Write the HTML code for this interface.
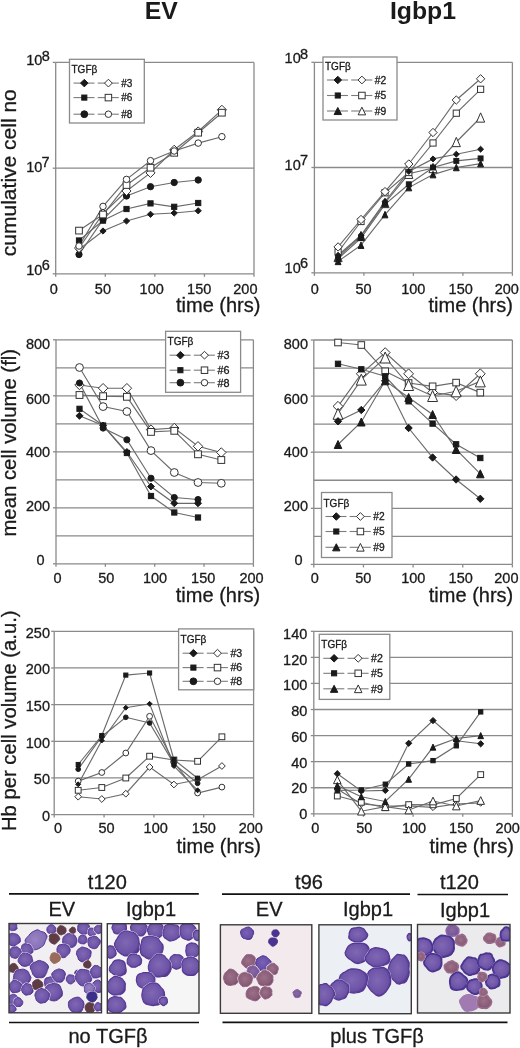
<!DOCTYPE html>
<html><head><meta charset="utf-8"><title>figure</title>
<style>
html,body{margin:0;padding:0;background:#fff;}
body{width:520px;height:1048px;overflow:hidden;}
svg{display:block;filter:blur(0.3px);font-family:"Liberation Sans", sans-serif;}
</style></head>
<body>
<svg width="520" height="1048" viewBox="0 0 520 1048">
<rect x="0" y="0" width="520" height="1048" fill="#fff"/>
<text x="161.20" y="19.20" font-size="24.8" text-anchor="middle" font-weight="bold" fill="#1a1a1a" >EV</text>
<text x="423.00" y="19.20" font-size="24.8" text-anchor="middle" font-weight="bold" fill="#1a1a1a" >Igbp1</text>
<line x1="55.70" y1="168.20" x2="254.00" y2="168.20" stroke="#8a8a8a" stroke-width="1.3"/>
<line x1="55.70" y1="62.40" x2="254.00" y2="62.40" stroke="#8a8a8a" stroke-width="1.3"/>
<line x1="254.00" y1="62.40" x2="254.00" y2="273.80" stroke="#8a8a8a" stroke-width="1.3"/>
<line x1="55.70" y1="62.40" x2="55.70" y2="273.80" stroke="#8a8a8a" stroke-width="1.3"/>
<line x1="55.70" y1="273.80" x2="254.00" y2="273.80" stroke="#8a8a8a" stroke-width="1.3"/>
<line x1="52.70" y1="62.40" x2="55.70" y2="62.40" stroke="#8a8a8a" stroke-width="1.3"/>
<line x1="52.70" y1="168.20" x2="55.70" y2="168.20" stroke="#8a8a8a" stroke-width="1.3"/>
<line x1="52.70" y1="273.80" x2="55.70" y2="273.80" stroke="#8a8a8a" stroke-width="1.3"/>
<line x1="55.70" y1="273.80" x2="55.70" y2="276.80" stroke="#8a8a8a" stroke-width="1.3"/>
<line x1="105.28" y1="273.80" x2="105.28" y2="276.80" stroke="#8a8a8a" stroke-width="1.3"/>
<line x1="154.85" y1="273.80" x2="154.85" y2="276.80" stroke="#8a8a8a" stroke-width="1.3"/>
<line x1="204.43" y1="273.80" x2="204.43" y2="276.80" stroke="#8a8a8a" stroke-width="1.3"/>
<line x1="254.00" y1="273.80" x2="254.00" y2="276.80" stroke="#8a8a8a" stroke-width="1.3"/>
<text x="0" y="0" font-size="21" text-anchor="middle" fill="#1a1a1a" stroke="#1a1a1a" stroke-width="0.3" transform="translate(16.20,172.70) rotate(-90)">cumulative cell no</text>
<text x="53.90" y="294.40" font-size="14.5" text-anchor="middle" font-weight="normal" fill="#1a1a1a" stroke="#1a1a1a" stroke-width="0.3" >0</text>
<text x="102.90" y="294.40" font-size="14.5" text-anchor="middle" font-weight="normal" fill="#1a1a1a" stroke="#1a1a1a" stroke-width="0.3" >50</text>
<text x="151.70" y="294.40" font-size="14.5" text-anchor="middle" font-weight="normal" fill="#1a1a1a" stroke="#1a1a1a" stroke-width="0.3" >100</text>
<text x="199.20" y="294.40" font-size="14.5" text-anchor="middle" font-weight="normal" fill="#1a1a1a" stroke="#1a1a1a" stroke-width="0.3" >150</text>
<text x="245.40" y="294.40" font-size="14.5" text-anchor="middle" font-weight="normal" fill="#1a1a1a" stroke="#1a1a1a" stroke-width="0.3" >200</text>
<text x="176.00" y="312.20" font-size="20" text-anchor="start" font-weight="normal" fill="#1a1a1a" stroke="#1a1a1a" stroke-width="0.3" >time (hrs)</text>
<text x="26.30" y="65.40" font-size="14.5" text-anchor="start" font-weight="normal" fill="#1a1a1a" stroke="#1a1a1a" stroke-width="0.3" >10</text>
<text x="41.70" y="60.80" font-size="14.5" text-anchor="start" font-weight="normal" fill="#1a1a1a" stroke="#1a1a1a" stroke-width="0.3" >8</text>
<text x="26.20" y="171.90" font-size="14.5" text-anchor="start" font-weight="normal" fill="#1a1a1a" stroke="#1a1a1a" stroke-width="0.3" >10</text>
<text x="41.60" y="167.30" font-size="14.5" text-anchor="start" font-weight="normal" fill="#1a1a1a" stroke="#1a1a1a" stroke-width="0.3" >7</text>
<text x="26.30" y="274.60" font-size="14.5" text-anchor="start" font-weight="normal" fill="#1a1a1a" stroke="#1a1a1a" stroke-width="0.3" >10</text>
<text x="41.70" y="270.40" font-size="14.5" text-anchor="start" font-weight="normal" fill="#1a1a1a" stroke="#1a1a1a" stroke-width="0.3" >6</text>
<line x1="314.40" y1="167.50" x2="512.40" y2="167.50" stroke="#8a8a8a" stroke-width="1.3"/>
<line x1="314.40" y1="62.30" x2="512.40" y2="62.30" stroke="#8a8a8a" stroke-width="1.3"/>
<line x1="512.40" y1="62.30" x2="512.40" y2="272.80" stroke="#8a8a8a" stroke-width="1.3"/>
<line x1="314.40" y1="62.30" x2="314.40" y2="272.80" stroke="#8a8a8a" stroke-width="1.3"/>
<line x1="314.40" y1="272.80" x2="512.40" y2="272.80" stroke="#8a8a8a" stroke-width="1.3"/>
<line x1="311.40" y1="62.30" x2="314.40" y2="62.30" stroke="#8a8a8a" stroke-width="1.3"/>
<line x1="311.40" y1="167.50" x2="314.40" y2="167.50" stroke="#8a8a8a" stroke-width="1.3"/>
<line x1="311.40" y1="272.80" x2="314.40" y2="272.80" stroke="#8a8a8a" stroke-width="1.3"/>
<line x1="314.40" y1="272.80" x2="314.40" y2="275.80" stroke="#8a8a8a" stroke-width="1.3"/>
<line x1="363.90" y1="272.80" x2="363.90" y2="275.80" stroke="#8a8a8a" stroke-width="1.3"/>
<line x1="413.40" y1="272.80" x2="413.40" y2="275.80" stroke="#8a8a8a" stroke-width="1.3"/>
<line x1="462.90" y1="272.80" x2="462.90" y2="275.80" stroke="#8a8a8a" stroke-width="1.3"/>
<line x1="512.40" y1="272.80" x2="512.40" y2="275.80" stroke="#8a8a8a" stroke-width="1.3"/>
<text x="314.80" y="293.70" font-size="14.5" text-anchor="middle" font-weight="normal" fill="#1a1a1a" stroke="#1a1a1a" stroke-width="0.3" >0</text>
<text x="363.50" y="293.70" font-size="14.5" text-anchor="middle" font-weight="normal" fill="#1a1a1a" stroke="#1a1a1a" stroke-width="0.3" >50</text>
<text x="413.30" y="293.70" font-size="14.5" text-anchor="middle" font-weight="normal" fill="#1a1a1a" stroke="#1a1a1a" stroke-width="0.3" >100</text>
<text x="460.70" y="293.70" font-size="14.5" text-anchor="middle" font-weight="normal" fill="#1a1a1a" stroke="#1a1a1a" stroke-width="0.3" >150</text>
<text x="506.80" y="293.70" font-size="14.5" text-anchor="middle" font-weight="normal" fill="#1a1a1a" stroke="#1a1a1a" stroke-width="0.3" >200</text>
<text x="428.50" y="312.40" font-size="20" text-anchor="start" font-weight="normal" fill="#1a1a1a" stroke="#1a1a1a" stroke-width="0.3" >time (hrs)</text>
<text x="284.60" y="63.30" font-size="14.5" text-anchor="start" font-weight="normal" fill="#1a1a1a" stroke="#1a1a1a" stroke-width="0.3" >10</text>
<text x="300.00" y="58.80" font-size="14.5" text-anchor="start" font-weight="normal" fill="#1a1a1a" stroke="#1a1a1a" stroke-width="0.3" >8</text>
<text x="284.60" y="169.60" font-size="14.5" text-anchor="start" font-weight="normal" fill="#1a1a1a" stroke="#1a1a1a" stroke-width="0.3" >10</text>
<text x="300.00" y="165.40" font-size="14.5" text-anchor="start" font-weight="normal" fill="#1a1a1a" stroke="#1a1a1a" stroke-width="0.3" >7</text>
<text x="284.60" y="272.50" font-size="14.5" text-anchor="start" font-weight="normal" fill="#1a1a1a" stroke="#1a1a1a" stroke-width="0.3" >10</text>
<text x="300.00" y="268.30" font-size="14.5" text-anchor="start" font-weight="normal" fill="#1a1a1a" stroke="#1a1a1a" stroke-width="0.3" >6</text>
<line x1="56.00" y1="535.80" x2="253.40" y2="535.80" stroke="#8a8a8a" stroke-width="1.3"/>
<line x1="56.00" y1="507.80" x2="253.40" y2="507.80" stroke="#8a8a8a" stroke-width="1.3"/>
<line x1="56.00" y1="479.80" x2="253.40" y2="479.80" stroke="#8a8a8a" stroke-width="1.3"/>
<line x1="56.00" y1="451.80" x2="253.40" y2="451.80" stroke="#8a8a8a" stroke-width="1.3"/>
<line x1="56.00" y1="423.80" x2="253.40" y2="423.80" stroke="#8a8a8a" stroke-width="1.3"/>
<line x1="56.00" y1="395.80" x2="253.40" y2="395.80" stroke="#8a8a8a" stroke-width="1.3"/>
<line x1="56.00" y1="367.80" x2="253.40" y2="367.80" stroke="#8a8a8a" stroke-width="1.3"/>
<line x1="56.00" y1="339.80" x2="253.40" y2="339.80" stroke="#8a8a8a" stroke-width="1.3"/>
<line x1="253.40" y1="339.80" x2="253.40" y2="563.80" stroke="#8a8a8a" stroke-width="1.3"/>
<line x1="56.00" y1="339.80" x2="56.00" y2="563.80" stroke="#8a8a8a" stroke-width="1.3"/>
<line x1="56.00" y1="563.80" x2="253.40" y2="563.80" stroke="#8a8a8a" stroke-width="1.3"/>
<line x1="53.00" y1="563.80" x2="56.00" y2="563.80" stroke="#8a8a8a" stroke-width="1.3"/>
<line x1="53.00" y1="507.80" x2="56.00" y2="507.80" stroke="#8a8a8a" stroke-width="1.3"/>
<line x1="53.00" y1="451.80" x2="56.00" y2="451.80" stroke="#8a8a8a" stroke-width="1.3"/>
<line x1="53.00" y1="395.80" x2="56.00" y2="395.80" stroke="#8a8a8a" stroke-width="1.3"/>
<line x1="53.00" y1="339.80" x2="56.00" y2="339.80" stroke="#8a8a8a" stroke-width="1.3"/>
<line x1="56.00" y1="563.80" x2="56.00" y2="566.80" stroke="#8a8a8a" stroke-width="1.3"/>
<line x1="105.35" y1="563.80" x2="105.35" y2="566.80" stroke="#8a8a8a" stroke-width="1.3"/>
<line x1="154.70" y1="563.80" x2="154.70" y2="566.80" stroke="#8a8a8a" stroke-width="1.3"/>
<line x1="204.05" y1="563.80" x2="204.05" y2="566.80" stroke="#8a8a8a" stroke-width="1.3"/>
<line x1="253.40" y1="563.80" x2="253.40" y2="566.80" stroke="#8a8a8a" stroke-width="1.3"/>
<text x="0" y="0" font-size="20.35" text-anchor="middle" fill="#1a1a1a" stroke="#1a1a1a" stroke-width="0.3" transform="translate(16.00,442.75) rotate(-90)">mean cell volume (fl)</text>
<text x="57.50" y="583.20" font-size="14.5" text-anchor="middle" font-weight="normal" fill="#1a1a1a" stroke="#1a1a1a" stroke-width="0.3" >0</text>
<text x="106.30" y="583.20" font-size="14.5" text-anchor="middle" font-weight="normal" fill="#1a1a1a" stroke="#1a1a1a" stroke-width="0.3" >50</text>
<text x="155.00" y="583.20" font-size="14.5" text-anchor="middle" font-weight="normal" fill="#1a1a1a" stroke="#1a1a1a" stroke-width="0.3" >100</text>
<text x="203.20" y="583.20" font-size="14.5" text-anchor="middle" font-weight="normal" fill="#1a1a1a" stroke="#1a1a1a" stroke-width="0.3" >150</text>
<text x="251.50" y="583.20" font-size="14.5" text-anchor="middle" font-weight="normal" fill="#1a1a1a" stroke="#1a1a1a" stroke-width="0.3" >200</text>
<text x="175.80" y="602.30" font-size="20" text-anchor="start" font-weight="normal" fill="#1a1a1a" stroke="#1a1a1a" stroke-width="0.3" >time (hrs)</text>
<text x="50.20" y="349.40" font-size="14.5" text-anchor="end" font-weight="normal" fill="#1a1a1a" stroke="#1a1a1a" stroke-width="0.3" >800</text>
<text x="50.20" y="403.50" font-size="14.5" text-anchor="end" font-weight="normal" fill="#1a1a1a" stroke="#1a1a1a" stroke-width="0.3" >600</text>
<text x="50.20" y="457.30" font-size="14.5" text-anchor="end" font-weight="normal" fill="#1a1a1a" stroke="#1a1a1a" stroke-width="0.3" >400</text>
<text x="50.20" y="511.10" font-size="14.5" text-anchor="end" font-weight="normal" fill="#1a1a1a" stroke="#1a1a1a" stroke-width="0.3" >200</text>
<text x="44.70" y="564.70" font-size="14.5" text-anchor="end" font-weight="normal" fill="#1a1a1a" stroke="#1a1a1a" stroke-width="0.3" >0</text>
<line x1="313.80" y1="536.35" x2="512.40" y2="536.35" stroke="#8a8a8a" stroke-width="1.3"/>
<line x1="313.80" y1="508.30" x2="512.40" y2="508.30" stroke="#8a8a8a" stroke-width="1.3"/>
<line x1="313.80" y1="480.25" x2="512.40" y2="480.25" stroke="#8a8a8a" stroke-width="1.3"/>
<line x1="313.80" y1="452.20" x2="512.40" y2="452.20" stroke="#8a8a8a" stroke-width="1.3"/>
<line x1="313.80" y1="424.15" x2="512.40" y2="424.15" stroke="#8a8a8a" stroke-width="1.3"/>
<line x1="313.80" y1="396.10" x2="512.40" y2="396.10" stroke="#8a8a8a" stroke-width="1.3"/>
<line x1="313.80" y1="368.05" x2="512.40" y2="368.05" stroke="#8a8a8a" stroke-width="1.3"/>
<line x1="313.80" y1="340.00" x2="512.40" y2="340.00" stroke="#8a8a8a" stroke-width="1.3"/>
<line x1="512.40" y1="340.00" x2="512.40" y2="564.40" stroke="#8a8a8a" stroke-width="1.3"/>
<line x1="313.80" y1="340.00" x2="313.80" y2="564.40" stroke="#8a8a8a" stroke-width="1.3"/>
<line x1="313.80" y1="564.40" x2="512.40" y2="564.40" stroke="#8a8a8a" stroke-width="1.3"/>
<line x1="310.80" y1="564.40" x2="313.80" y2="564.40" stroke="#8a8a8a" stroke-width="1.3"/>
<line x1="310.80" y1="508.30" x2="313.80" y2="508.30" stroke="#8a8a8a" stroke-width="1.3"/>
<line x1="310.80" y1="452.20" x2="313.80" y2="452.20" stroke="#8a8a8a" stroke-width="1.3"/>
<line x1="310.80" y1="396.10" x2="313.80" y2="396.10" stroke="#8a8a8a" stroke-width="1.3"/>
<line x1="310.80" y1="340.00" x2="313.80" y2="340.00" stroke="#8a8a8a" stroke-width="1.3"/>
<line x1="313.80" y1="564.40" x2="313.80" y2="567.40" stroke="#8a8a8a" stroke-width="1.3"/>
<line x1="363.45" y1="564.40" x2="363.45" y2="567.40" stroke="#8a8a8a" stroke-width="1.3"/>
<line x1="413.10" y1="564.40" x2="413.10" y2="567.40" stroke="#8a8a8a" stroke-width="1.3"/>
<line x1="462.75" y1="564.40" x2="462.75" y2="567.40" stroke="#8a8a8a" stroke-width="1.3"/>
<line x1="512.40" y1="564.40" x2="512.40" y2="567.40" stroke="#8a8a8a" stroke-width="1.3"/>
<text x="314.80" y="583.20" font-size="14.5" text-anchor="middle" font-weight="normal" fill="#1a1a1a" stroke="#1a1a1a" stroke-width="0.3" >0</text>
<text x="363.20" y="583.20" font-size="14.5" text-anchor="middle" font-weight="normal" fill="#1a1a1a" stroke="#1a1a1a" stroke-width="0.3" >50</text>
<text x="413.30" y="583.20" font-size="14.5" text-anchor="middle" font-weight="normal" fill="#1a1a1a" stroke="#1a1a1a" stroke-width="0.3" >100</text>
<text x="460.70" y="583.20" font-size="14.5" text-anchor="middle" font-weight="normal" fill="#1a1a1a" stroke="#1a1a1a" stroke-width="0.3" >150</text>
<text x="506.40" y="583.20" font-size="14.5" text-anchor="middle" font-weight="normal" fill="#1a1a1a" stroke="#1a1a1a" stroke-width="0.3" >200</text>
<text x="428.80" y="602.30" font-size="20" text-anchor="start" font-weight="normal" fill="#1a1a1a" stroke="#1a1a1a" stroke-width="0.3" >time (hrs)</text>
<text x="308.00" y="349.40" font-size="14.5" text-anchor="end" font-weight="normal" fill="#1a1a1a" stroke="#1a1a1a" stroke-width="0.3" >800</text>
<text x="308.00" y="403.60" font-size="14.5" text-anchor="end" font-weight="normal" fill="#1a1a1a" stroke="#1a1a1a" stroke-width="0.3" >600</text>
<text x="308.00" y="457.30" font-size="14.5" text-anchor="end" font-weight="normal" fill="#1a1a1a" stroke="#1a1a1a" stroke-width="0.3" >400</text>
<text x="308.00" y="511.10" font-size="14.5" text-anchor="end" font-weight="normal" fill="#1a1a1a" stroke="#1a1a1a" stroke-width="0.3" >200</text>
<text x="302.70" y="564.70" font-size="14.5" text-anchor="end" font-weight="normal" fill="#1a1a1a" stroke="#1a1a1a" stroke-width="0.3" >0</text>
<line x1="54.20" y1="777.94" x2="253.60" y2="777.94" stroke="#8a8a8a" stroke-width="1.3"/>
<line x1="54.20" y1="741.28" x2="253.60" y2="741.28" stroke="#8a8a8a" stroke-width="1.3"/>
<line x1="54.20" y1="704.62" x2="253.60" y2="704.62" stroke="#8a8a8a" stroke-width="1.3"/>
<line x1="54.20" y1="667.96" x2="253.60" y2="667.96" stroke="#8a8a8a" stroke-width="1.3"/>
<line x1="54.20" y1="631.30" x2="253.60" y2="631.30" stroke="#8a8a8a" stroke-width="1.3"/>
<line x1="253.60" y1="631.30" x2="253.60" y2="814.60" stroke="#8a8a8a" stroke-width="1.3"/>
<line x1="54.20" y1="631.30" x2="54.20" y2="814.60" stroke="#8a8a8a" stroke-width="1.3"/>
<line x1="54.20" y1="814.60" x2="253.60" y2="814.60" stroke="#8a8a8a" stroke-width="1.3"/>
<line x1="51.20" y1="814.60" x2="54.20" y2="814.60" stroke="#8a8a8a" stroke-width="1.3"/>
<line x1="51.20" y1="777.94" x2="54.20" y2="777.94" stroke="#8a8a8a" stroke-width="1.3"/>
<line x1="51.20" y1="741.28" x2="54.20" y2="741.28" stroke="#8a8a8a" stroke-width="1.3"/>
<line x1="51.20" y1="704.62" x2="54.20" y2="704.62" stroke="#8a8a8a" stroke-width="1.3"/>
<line x1="51.20" y1="667.96" x2="54.20" y2="667.96" stroke="#8a8a8a" stroke-width="1.3"/>
<line x1="51.20" y1="631.30" x2="54.20" y2="631.30" stroke="#8a8a8a" stroke-width="1.3"/>
<line x1="54.20" y1="814.60" x2="54.20" y2="817.60" stroke="#8a8a8a" stroke-width="1.3"/>
<line x1="104.05" y1="814.60" x2="104.05" y2="817.60" stroke="#8a8a8a" stroke-width="1.3"/>
<line x1="153.90" y1="814.60" x2="153.90" y2="817.60" stroke="#8a8a8a" stroke-width="1.3"/>
<line x1="203.75" y1="814.60" x2="203.75" y2="817.60" stroke="#8a8a8a" stroke-width="1.3"/>
<line x1="253.60" y1="814.60" x2="253.60" y2="817.60" stroke="#8a8a8a" stroke-width="1.3"/>
<text x="0" y="0" font-size="20.25" text-anchor="middle" fill="#1a1a1a" stroke="#1a1a1a" stroke-width="0.3" transform="translate(15.80,720.75) rotate(-90)">Hb per cell volume (a.u.)</text>
<text x="58.00" y="833.10" font-size="14.5" text-anchor="middle" font-weight="normal" fill="#1a1a1a" stroke="#1a1a1a" stroke-width="0.3" >0</text>
<text x="106.50" y="833.10" font-size="14.5" text-anchor="middle" font-weight="normal" fill="#1a1a1a" stroke="#1a1a1a" stroke-width="0.3" >50</text>
<text x="155.70" y="833.10" font-size="14.5" text-anchor="middle" font-weight="normal" fill="#1a1a1a" stroke="#1a1a1a" stroke-width="0.3" >100</text>
<text x="203.80" y="833.10" font-size="14.5" text-anchor="middle" font-weight="normal" fill="#1a1a1a" stroke="#1a1a1a" stroke-width="0.3" >150</text>
<text x="250.80" y="833.10" font-size="14.5" text-anchor="middle" font-weight="normal" fill="#1a1a1a" stroke="#1a1a1a" stroke-width="0.3" >200</text>
<text x="176.50" y="853.20" font-size="20" text-anchor="start" font-weight="normal" fill="#1a1a1a" stroke="#1a1a1a" stroke-width="0.3" >time (hrs)</text>
<text x="50.00" y="638.00" font-size="14.5" text-anchor="end" font-weight="normal" fill="#1a1a1a" stroke="#1a1a1a" stroke-width="0.3" >250</text>
<text x="50.00" y="674.40" font-size="14.5" text-anchor="end" font-weight="normal" fill="#1a1a1a" stroke="#1a1a1a" stroke-width="0.3" >200</text>
<text x="50.00" y="711.20" font-size="14.5" text-anchor="end" font-weight="normal" fill="#1a1a1a" stroke="#1a1a1a" stroke-width="0.3" >150</text>
<text x="50.00" y="747.80" font-size="14.5" text-anchor="end" font-weight="normal" fill="#1a1a1a" stroke="#1a1a1a" stroke-width="0.3" >100</text>
<text x="50.00" y="784.40" font-size="14.5" text-anchor="end" font-weight="normal" fill="#1a1a1a" stroke="#1a1a1a" stroke-width="0.3" >50</text>
<text x="50.00" y="821.20" font-size="14.5" text-anchor="end" font-weight="normal" fill="#1a1a1a" stroke="#1a1a1a" stroke-width="0.3" >0</text>
<line x1="313.80" y1="787.73" x2="512.40" y2="787.73" stroke="#8a8a8a" stroke-width="1.3"/>
<line x1="313.80" y1="761.66" x2="512.40" y2="761.66" stroke="#8a8a8a" stroke-width="1.3"/>
<line x1="313.80" y1="735.59" x2="512.40" y2="735.59" stroke="#8a8a8a" stroke-width="1.3"/>
<line x1="313.80" y1="709.51" x2="512.40" y2="709.51" stroke="#8a8a8a" stroke-width="1.3"/>
<line x1="313.80" y1="683.44" x2="512.40" y2="683.44" stroke="#8a8a8a" stroke-width="1.3"/>
<line x1="313.80" y1="657.37" x2="512.40" y2="657.37" stroke="#8a8a8a" stroke-width="1.3"/>
<line x1="313.80" y1="631.30" x2="512.40" y2="631.30" stroke="#8a8a8a" stroke-width="1.3"/>
<line x1="512.40" y1="631.30" x2="512.40" y2="813.80" stroke="#8a8a8a" stroke-width="1.3"/>
<line x1="313.80" y1="631.30" x2="313.80" y2="813.80" stroke="#8a8a8a" stroke-width="1.3"/>
<line x1="313.80" y1="813.80" x2="512.40" y2="813.80" stroke="#8a8a8a" stroke-width="1.3"/>
<line x1="310.80" y1="813.80" x2="313.80" y2="813.80" stroke="#8a8a8a" stroke-width="1.3"/>
<line x1="310.80" y1="787.73" x2="313.80" y2="787.73" stroke="#8a8a8a" stroke-width="1.3"/>
<line x1="310.80" y1="761.66" x2="313.80" y2="761.66" stroke="#8a8a8a" stroke-width="1.3"/>
<line x1="310.80" y1="735.59" x2="313.80" y2="735.59" stroke="#8a8a8a" stroke-width="1.3"/>
<line x1="310.80" y1="709.51" x2="313.80" y2="709.51" stroke="#8a8a8a" stroke-width="1.3"/>
<line x1="310.80" y1="683.44" x2="313.80" y2="683.44" stroke="#8a8a8a" stroke-width="1.3"/>
<line x1="310.80" y1="657.37" x2="313.80" y2="657.37" stroke="#8a8a8a" stroke-width="1.3"/>
<line x1="310.80" y1="631.30" x2="313.80" y2="631.30" stroke="#8a8a8a" stroke-width="1.3"/>
<line x1="313.80" y1="813.80" x2="313.80" y2="816.80" stroke="#8a8a8a" stroke-width="1.3"/>
<line x1="363.45" y1="813.80" x2="363.45" y2="816.80" stroke="#8a8a8a" stroke-width="1.3"/>
<line x1="413.10" y1="813.80" x2="413.10" y2="816.80" stroke="#8a8a8a" stroke-width="1.3"/>
<line x1="462.75" y1="813.80" x2="462.75" y2="816.80" stroke="#8a8a8a" stroke-width="1.3"/>
<line x1="512.40" y1="813.80" x2="512.40" y2="816.80" stroke="#8a8a8a" stroke-width="1.3"/>
<text x="315.20" y="833.10" font-size="14.5" text-anchor="middle" font-weight="normal" fill="#1a1a1a" stroke="#1a1a1a" stroke-width="0.3" >0</text>
<text x="364.20" y="833.10" font-size="14.5" text-anchor="middle" font-weight="normal" fill="#1a1a1a" stroke="#1a1a1a" stroke-width="0.3" >50</text>
<text x="414.10" y="833.10" font-size="14.5" text-anchor="middle" font-weight="normal" fill="#1a1a1a" stroke="#1a1a1a" stroke-width="0.3" >100</text>
<text x="461.20" y="833.10" font-size="14.5" text-anchor="middle" font-weight="normal" fill="#1a1a1a" stroke="#1a1a1a" stroke-width="0.3" >150</text>
<text x="507.70" y="833.10" font-size="14.5" text-anchor="middle" font-weight="normal" fill="#1a1a1a" stroke="#1a1a1a" stroke-width="0.3" >200</text>
<text x="429.50" y="853.20" font-size="20" text-anchor="start" font-weight="normal" fill="#1a1a1a" stroke="#1a1a1a" stroke-width="0.3" >time (hrs)</text>
<text x="307.30" y="639.00" font-size="14.5" text-anchor="end" font-weight="normal" fill="#1a1a1a" stroke="#1a1a1a" stroke-width="0.3" >140</text>
<text x="307.30" y="664.70" font-size="14.5" text-anchor="end" font-weight="normal" fill="#1a1a1a" stroke="#1a1a1a" stroke-width="0.3" >120</text>
<text x="307.30" y="690.10" font-size="14.5" text-anchor="end" font-weight="normal" fill="#1a1a1a" stroke="#1a1a1a" stroke-width="0.3" >100</text>
<text x="307.30" y="715.60" font-size="14.5" text-anchor="end" font-weight="normal" fill="#1a1a1a" stroke="#1a1a1a" stroke-width="0.3" >80</text>
<text x="307.30" y="741.60" font-size="14.5" text-anchor="end" font-weight="normal" fill="#1a1a1a" stroke="#1a1a1a" stroke-width="0.3" >60</text>
<text x="307.30" y="767.70" font-size="14.5" text-anchor="end" font-weight="normal" fill="#1a1a1a" stroke="#1a1a1a" stroke-width="0.3" >40</text>
<text x="307.30" y="793.40" font-size="14.5" text-anchor="end" font-weight="normal" fill="#1a1a1a" stroke="#1a1a1a" stroke-width="0.3" >20</text>
<text x="307.30" y="819.10" font-size="14.5" text-anchor="end" font-weight="normal" fill="#1a1a1a" stroke="#1a1a1a" stroke-width="0.3" >0</text>
<polyline points="79.00,249.50 103.00,231.00 126.50,221.00 150.50,214.30 174.20,213.00 198.20,210.80" fill="none" stroke="#6a6a6a" stroke-width="1.15"/>
<polyline points="79.00,240.50 103.00,220.60 126.50,209.00 150.50,203.40 174.20,206.80 198.20,203.00" fill="none" stroke="#6a6a6a" stroke-width="1.15"/>
<polyline points="79.00,254.50 103.00,219.70 126.50,196.00 150.50,186.70 174.20,182.50 198.20,180.00" fill="none" stroke="#6a6a6a" stroke-width="1.15"/>
<polyline points="79.00,248.00 103.00,213.60 126.50,191.00 150.50,172.90 174.20,149.80 198.20,131.50 221.90,109.80" fill="none" stroke="#6a6a6a" stroke-width="1.15"/>
<polyline points="79.00,230.60 103.00,214.50 126.50,185.00 150.50,167.70 174.20,152.80 198.20,132.70 221.90,112.70" fill="none" stroke="#6a6a6a" stroke-width="1.15"/>
<polyline points="79.00,246.00 103.00,206.40 126.50,179.40 150.50,160.70 174.20,151.00 198.20,143.10 221.90,136.70" fill="none" stroke="#6a6a6a" stroke-width="1.15"/>
<polygon points="79.00,246.38 82.12,249.50 79.00,252.62 75.88,249.50" fill="#1a1a1a" stroke="#1a1a1a" stroke-width="1.0"/>
<polygon points="103.00,227.88 106.12,231.00 103.00,234.12 99.88,231.00" fill="#1a1a1a" stroke="#1a1a1a" stroke-width="1.0"/>
<polygon points="126.50,217.88 129.62,221.00 126.50,224.12 123.38,221.00" fill="#1a1a1a" stroke="#1a1a1a" stroke-width="1.0"/>
<polygon points="150.50,211.18 153.62,214.30 150.50,217.43 147.38,214.30" fill="#1a1a1a" stroke="#1a1a1a" stroke-width="1.0"/>
<polygon points="174.20,209.88 177.32,213.00 174.20,216.12 171.07,213.00" fill="#1a1a1a" stroke="#1a1a1a" stroke-width="1.0"/>
<polygon points="198.20,207.68 201.32,210.80 198.20,213.93 195.07,210.80" fill="#1a1a1a" stroke="#1a1a1a" stroke-width="1.0"/>
<rect x="76.40" y="237.90" width="5.20" height="5.20" fill="#1a1a1a" stroke="#1a1a1a" stroke-width="1.0"/>
<rect x="100.40" y="218.00" width="5.20" height="5.20" fill="#1a1a1a" stroke="#1a1a1a" stroke-width="1.0"/>
<rect x="123.90" y="206.40" width="5.20" height="5.20" fill="#1a1a1a" stroke="#1a1a1a" stroke-width="1.0"/>
<rect x="147.90" y="200.80" width="5.20" height="5.20" fill="#1a1a1a" stroke="#1a1a1a" stroke-width="1.0"/>
<rect x="171.60" y="204.20" width="5.20" height="5.20" fill="#1a1a1a" stroke="#1a1a1a" stroke-width="1.0"/>
<rect x="195.60" y="200.40" width="5.20" height="5.20" fill="#1a1a1a" stroke="#1a1a1a" stroke-width="1.0"/>
<circle cx="79.00" cy="254.50" r="3.15" fill="#1a1a1a" stroke="#1a1a1a" stroke-width="1.0"/>
<circle cx="103.00" cy="219.70" r="3.15" fill="#1a1a1a" stroke="#1a1a1a" stroke-width="1.0"/>
<circle cx="126.50" cy="196.00" r="3.15" fill="#1a1a1a" stroke="#1a1a1a" stroke-width="1.0"/>
<circle cx="150.50" cy="186.70" r="3.15" fill="#1a1a1a" stroke="#1a1a1a" stroke-width="1.0"/>
<circle cx="174.20" cy="182.50" r="3.15" fill="#1a1a1a" stroke="#1a1a1a" stroke-width="1.0"/>
<circle cx="198.20" cy="180.00" r="3.15" fill="#1a1a1a" stroke="#1a1a1a" stroke-width="1.0"/>
<polygon points="79.00,243.43 83.58,248.00 79.00,252.57 74.42,248.00" fill="#ffffff" stroke="#333333" stroke-width="1.0"/>
<polygon points="103.00,209.03 107.58,213.60 103.00,218.17 98.42,213.60" fill="#ffffff" stroke="#333333" stroke-width="1.0"/>
<polygon points="126.50,186.43 131.07,191.00 126.50,195.57 121.92,191.00" fill="#ffffff" stroke="#333333" stroke-width="1.0"/>
<polygon points="150.50,168.33 155.07,172.90 150.50,177.47 145.93,172.90" fill="#ffffff" stroke="#333333" stroke-width="1.0"/>
<polygon points="174.20,145.23 178.77,149.80 174.20,154.38 169.62,149.80" fill="#ffffff" stroke="#333333" stroke-width="1.0"/>
<polygon points="198.20,126.92 202.77,131.50 198.20,136.07 193.62,131.50" fill="#ffffff" stroke="#333333" stroke-width="1.0"/>
<polygon points="221.90,105.22 226.47,109.80 221.90,114.38 217.33,109.80" fill="#ffffff" stroke="#333333" stroke-width="1.0"/>
<rect x="75.65" y="227.25" width="6.70" height="6.70" fill="#ffffff" stroke="#333333" stroke-width="1.0"/>
<rect x="99.65" y="211.15" width="6.70" height="6.70" fill="#ffffff" stroke="#333333" stroke-width="1.0"/>
<rect x="123.15" y="181.65" width="6.70" height="6.70" fill="#ffffff" stroke="#333333" stroke-width="1.0"/>
<rect x="147.15" y="164.35" width="6.70" height="6.70" fill="#ffffff" stroke="#333333" stroke-width="1.0"/>
<rect x="170.85" y="149.45" width="6.70" height="6.70" fill="#ffffff" stroke="#333333" stroke-width="1.0"/>
<rect x="194.85" y="129.35" width="6.70" height="6.70" fill="#ffffff" stroke="#333333" stroke-width="1.0"/>
<rect x="218.55" y="109.35" width="6.70" height="6.70" fill="#ffffff" stroke="#333333" stroke-width="1.0"/>
<circle cx="79.00" cy="246.00" r="3.25" fill="#ffffff" stroke="#333333" stroke-width="1.0"/>
<circle cx="103.00" cy="206.40" r="3.25" fill="#ffffff" stroke="#333333" stroke-width="1.0"/>
<circle cx="126.50" cy="179.40" r="3.25" fill="#ffffff" stroke="#333333" stroke-width="1.0"/>
<circle cx="150.50" cy="160.70" r="3.25" fill="#ffffff" stroke="#333333" stroke-width="1.0"/>
<circle cx="174.20" cy="151.00" r="3.25" fill="#ffffff" stroke="#333333" stroke-width="1.0"/>
<circle cx="198.20" cy="143.10" r="3.25" fill="#ffffff" stroke="#333333" stroke-width="1.0"/>
<circle cx="221.90" cy="136.70" r="3.25" fill="#ffffff" stroke="#333333" stroke-width="1.0"/>
<polyline points="338.10,257.00 361.00,236.00 385.00,203.00 408.80,173.80 433.00,168.00 456.30,142.00 480.60,117.50" fill="none" stroke="#6a6a6a" stroke-width="1.15"/>
<polyline points="338.10,252.00 361.00,221.50 385.00,192.80 408.80,172.50 433.00,143.00 456.30,113.20 480.60,89.30" fill="none" stroke="#6a6a6a" stroke-width="1.15"/>
<polyline points="338.10,246.90 361.00,219.50 385.00,191.60 408.80,164.00 433.00,132.50 456.30,100.00 480.60,78.80" fill="none" stroke="#6a6a6a" stroke-width="1.15"/>
<polyline points="338.10,261.40 361.00,245.20 385.00,214.60 408.80,187.60 433.00,174.60 456.30,167.50 480.60,163.60" fill="none" stroke="#6a6a6a" stroke-width="1.15"/>
<polyline points="338.10,258.70 361.00,238.00 385.00,204.40 408.80,184.30 433.00,167.50 456.30,160.90 480.60,158.40" fill="none" stroke="#6a6a6a" stroke-width="1.15"/>
<polyline points="338.10,255.30 361.00,235.30 385.00,201.50 408.80,171.40 433.00,158.90 456.30,154.20 480.60,149.20" fill="none" stroke="#6a6a6a" stroke-width="1.15"/>
<polygon points="338.10,252.35 342.18,261.65 334.03,261.65" fill="#ffffff" stroke="#333333" stroke-width="1.0" stroke-linejoin="miter"/>
<polygon points="361.00,231.35 365.07,240.65 356.93,240.65" fill="#ffffff" stroke="#333333" stroke-width="1.0" stroke-linejoin="miter"/>
<polygon points="385.00,198.35 389.07,207.65 380.93,207.65" fill="#ffffff" stroke="#333333" stroke-width="1.0" stroke-linejoin="miter"/>
<polygon points="408.80,169.15 412.88,178.45 404.73,178.45" fill="#ffffff" stroke="#333333" stroke-width="1.0" stroke-linejoin="miter"/>
<polygon points="433.00,163.35 437.07,172.65 428.93,172.65" fill="#ffffff" stroke="#333333" stroke-width="1.0" stroke-linejoin="miter"/>
<polygon points="456.30,137.35 460.38,146.65 452.23,146.65" fill="#ffffff" stroke="#333333" stroke-width="1.0" stroke-linejoin="miter"/>
<polygon points="480.60,112.85 484.68,122.15 476.53,122.15" fill="#ffffff" stroke="#333333" stroke-width="1.0" stroke-linejoin="miter"/>
<rect x="335.00" y="248.90" width="6.20" height="6.20" fill="#ffffff" stroke="#333333" stroke-width="1.0"/>
<rect x="357.90" y="218.40" width="6.20" height="6.20" fill="#ffffff" stroke="#333333" stroke-width="1.0"/>
<rect x="381.90" y="189.70" width="6.20" height="6.20" fill="#ffffff" stroke="#333333" stroke-width="1.0"/>
<rect x="405.70" y="169.40" width="6.20" height="6.20" fill="#ffffff" stroke="#333333" stroke-width="1.0"/>
<rect x="429.90" y="139.90" width="6.20" height="6.20" fill="#ffffff" stroke="#333333" stroke-width="1.0"/>
<rect x="453.20" y="110.10" width="6.20" height="6.20" fill="#ffffff" stroke="#333333" stroke-width="1.0"/>
<rect x="477.50" y="86.20" width="6.20" height="6.20" fill="#ffffff" stroke="#333333" stroke-width="1.0"/>
<polygon points="338.10,242.72 342.28,246.90 338.10,251.08 333.93,246.90" fill="#ffffff" stroke="#333333" stroke-width="1.0"/>
<polygon points="361.00,215.32 365.18,219.50 361.00,223.68 356.82,219.50" fill="#ffffff" stroke="#333333" stroke-width="1.0"/>
<polygon points="385.00,187.42 389.18,191.60 385.00,195.78 380.82,191.60" fill="#ffffff" stroke="#333333" stroke-width="1.0"/>
<polygon points="408.80,159.82 412.98,164.00 408.80,168.18 404.62,164.00" fill="#ffffff" stroke="#333333" stroke-width="1.0"/>
<polygon points="433.00,128.32 437.18,132.50 433.00,136.68 428.82,132.50" fill="#ffffff" stroke="#333333" stroke-width="1.0"/>
<polygon points="456.30,95.83 460.48,100.00 456.30,104.17 452.12,100.00" fill="#ffffff" stroke="#333333" stroke-width="1.0"/>
<polygon points="480.60,74.62 484.78,78.80 480.60,82.97 476.43,78.80" fill="#ffffff" stroke="#333333" stroke-width="1.0"/>
<polygon points="338.10,258.15 341.03,264.65 335.18,264.65" fill="#1a1a1a" stroke="#1a1a1a" stroke-width="1.0" stroke-linejoin="miter"/>
<polygon points="361.00,241.95 363.93,248.45 358.07,248.45" fill="#1a1a1a" stroke="#1a1a1a" stroke-width="1.0" stroke-linejoin="miter"/>
<polygon points="385.00,211.35 387.93,217.85 382.07,217.85" fill="#1a1a1a" stroke="#1a1a1a" stroke-width="1.0" stroke-linejoin="miter"/>
<polygon points="408.80,184.35 411.73,190.85 405.88,190.85" fill="#1a1a1a" stroke="#1a1a1a" stroke-width="1.0" stroke-linejoin="miter"/>
<polygon points="433.00,171.35 435.93,177.85 430.07,177.85" fill="#1a1a1a" stroke="#1a1a1a" stroke-width="1.0" stroke-linejoin="miter"/>
<polygon points="456.30,164.25 459.23,170.75 453.38,170.75" fill="#1a1a1a" stroke="#1a1a1a" stroke-width="1.0" stroke-linejoin="miter"/>
<polygon points="480.60,160.35 483.53,166.85 477.68,166.85" fill="#1a1a1a" stroke="#1a1a1a" stroke-width="1.0" stroke-linejoin="miter"/>
<rect x="335.65" y="256.25" width="4.90" height="4.90" fill="#1a1a1a" stroke="#1a1a1a" stroke-width="1.0"/>
<rect x="358.55" y="235.55" width="4.90" height="4.90" fill="#1a1a1a" stroke="#1a1a1a" stroke-width="1.0"/>
<rect x="382.55" y="201.95" width="4.90" height="4.90" fill="#1a1a1a" stroke="#1a1a1a" stroke-width="1.0"/>
<rect x="406.35" y="181.85" width="4.90" height="4.90" fill="#1a1a1a" stroke="#1a1a1a" stroke-width="1.0"/>
<rect x="430.55" y="165.05" width="4.90" height="4.90" fill="#1a1a1a" stroke="#1a1a1a" stroke-width="1.0"/>
<rect x="453.85" y="158.45" width="4.90" height="4.90" fill="#1a1a1a" stroke="#1a1a1a" stroke-width="1.0"/>
<rect x="478.15" y="155.95" width="4.90" height="4.90" fill="#1a1a1a" stroke="#1a1a1a" stroke-width="1.0"/>
<polygon points="338.10,252.33 341.08,255.30 338.10,258.28 335.12,255.30" fill="#1a1a1a" stroke="#1a1a1a" stroke-width="1.0"/>
<polygon points="361.00,232.33 363.98,235.30 361.00,238.28 358.02,235.30" fill="#1a1a1a" stroke="#1a1a1a" stroke-width="1.0"/>
<polygon points="385.00,198.53 387.98,201.50 385.00,204.47 382.02,201.50" fill="#1a1a1a" stroke="#1a1a1a" stroke-width="1.0"/>
<polygon points="408.80,168.43 411.78,171.40 408.80,174.38 405.82,171.40" fill="#1a1a1a" stroke="#1a1a1a" stroke-width="1.0"/>
<polygon points="433.00,155.93 435.98,158.90 433.00,161.88 430.02,158.90" fill="#1a1a1a" stroke="#1a1a1a" stroke-width="1.0"/>
<polygon points="456.30,151.22 459.28,154.20 456.30,157.17 453.32,154.20" fill="#1a1a1a" stroke="#1a1a1a" stroke-width="1.0"/>
<polygon points="480.60,146.22 483.58,149.20 480.60,152.17 477.62,149.20" fill="#1a1a1a" stroke="#1a1a1a" stroke-width="1.0"/>
<polyline points="79.50,385.00 103.10,388.20 126.90,388.20 151.00,429.60 174.30,428.00 198.00,446.30 221.30,452.50" fill="none" stroke="#6a6a6a" stroke-width="1.15"/>
<polyline points="79.50,395.00 103.10,396.20 126.90,396.80 151.00,431.90 174.30,430.80 198.00,454.30 221.30,460.00" fill="none" stroke="#6a6a6a" stroke-width="1.15"/>
<polyline points="79.50,367.50 103.10,406.60 126.90,411.50 151.00,450.60 174.30,472.50 198.00,482.50 221.30,483.30" fill="none" stroke="#6a6a6a" stroke-width="1.15"/>
<polyline points="79.50,415.80 103.10,425.50 126.90,452.00 151.00,486.50 174.30,503.30 198.00,503.30" fill="none" stroke="#6a6a6a" stroke-width="1.15"/>
<polyline points="79.50,408.80 103.10,425.50 126.90,453.00 151.00,496.00 174.30,512.50 198.00,517.50" fill="none" stroke="#6a6a6a" stroke-width="1.15"/>
<polyline points="79.50,383.00 103.10,428.10 126.90,439.80 151.00,478.20 174.30,497.50 198.00,499.50" fill="none" stroke="#6a6a6a" stroke-width="1.15"/>
<polygon points="79.50,380.27 84.22,385.00 79.50,389.73 74.78,385.00" fill="#ffffff" stroke="#333333" stroke-width="1.0"/>
<polygon points="103.10,383.47 107.82,388.20 103.10,392.93 98.38,388.20" fill="#ffffff" stroke="#333333" stroke-width="1.0"/>
<polygon points="126.90,383.47 131.62,388.20 126.90,392.93 122.18,388.20" fill="#ffffff" stroke="#333333" stroke-width="1.0"/>
<polygon points="151.00,424.88 155.72,429.60 151.00,434.33 146.28,429.60" fill="#ffffff" stroke="#333333" stroke-width="1.0"/>
<polygon points="174.30,423.27 179.03,428.00 174.30,432.73 169.58,428.00" fill="#ffffff" stroke="#333333" stroke-width="1.0"/>
<polygon points="198.00,441.57 202.72,446.30 198.00,451.03 193.28,446.30" fill="#ffffff" stroke="#333333" stroke-width="1.0"/>
<polygon points="221.30,447.77 226.03,452.50 221.30,457.23 216.58,452.50" fill="#ffffff" stroke="#333333" stroke-width="1.0"/>
<rect x="76.10" y="391.60" width="6.80" height="6.80" fill="#ffffff" stroke="#333333" stroke-width="1.0"/>
<rect x="99.70" y="392.80" width="6.80" height="6.80" fill="#ffffff" stroke="#333333" stroke-width="1.0"/>
<rect x="123.50" y="393.40" width="6.80" height="6.80" fill="#ffffff" stroke="#333333" stroke-width="1.0"/>
<rect x="147.60" y="428.50" width="6.80" height="6.80" fill="#ffffff" stroke="#333333" stroke-width="1.0"/>
<rect x="170.90" y="427.40" width="6.80" height="6.80" fill="#ffffff" stroke="#333333" stroke-width="1.0"/>
<rect x="194.60" y="450.90" width="6.80" height="6.80" fill="#ffffff" stroke="#333333" stroke-width="1.0"/>
<rect x="217.90" y="456.60" width="6.80" height="6.80" fill="#ffffff" stroke="#333333" stroke-width="1.0"/>
<circle cx="79.50" cy="367.50" r="3.90" fill="#ffffff" stroke="#333333" stroke-width="1.0"/>
<circle cx="103.10" cy="406.60" r="3.90" fill="#ffffff" stroke="#333333" stroke-width="1.0"/>
<circle cx="126.90" cy="411.50" r="3.90" fill="#ffffff" stroke="#333333" stroke-width="1.0"/>
<circle cx="151.00" cy="450.60" r="3.90" fill="#ffffff" stroke="#333333" stroke-width="1.0"/>
<circle cx="174.30" cy="472.50" r="3.90" fill="#ffffff" stroke="#333333" stroke-width="1.0"/>
<circle cx="198.00" cy="482.50" r="3.90" fill="#ffffff" stroke="#333333" stroke-width="1.0"/>
<circle cx="221.30" cy="483.30" r="3.90" fill="#ffffff" stroke="#333333" stroke-width="1.0"/>
<polygon points="79.50,412.32 82.97,415.80 79.50,419.28 76.03,415.80" fill="#1a1a1a" stroke="#1a1a1a" stroke-width="1.0"/>
<polygon points="103.10,422.02 106.57,425.50 103.10,428.98 99.62,425.50" fill="#1a1a1a" stroke="#1a1a1a" stroke-width="1.0"/>
<polygon points="126.90,448.52 130.38,452.00 126.90,455.48 123.43,452.00" fill="#1a1a1a" stroke="#1a1a1a" stroke-width="1.0"/>
<polygon points="151.00,483.02 154.47,486.50 151.00,489.98 147.53,486.50" fill="#1a1a1a" stroke="#1a1a1a" stroke-width="1.0"/>
<polygon points="174.30,499.82 177.78,503.30 174.30,506.78 170.83,503.30" fill="#1a1a1a" stroke="#1a1a1a" stroke-width="1.0"/>
<polygon points="198.00,499.82 201.47,503.30 198.00,506.78 194.53,503.30" fill="#1a1a1a" stroke="#1a1a1a" stroke-width="1.0"/>
<rect x="76.90" y="406.20" width="5.20" height="5.20" fill="#1a1a1a" stroke="#1a1a1a" stroke-width="1.0"/>
<rect x="100.50" y="422.90" width="5.20" height="5.20" fill="#1a1a1a" stroke="#1a1a1a" stroke-width="1.0"/>
<rect x="124.30" y="450.40" width="5.20" height="5.20" fill="#1a1a1a" stroke="#1a1a1a" stroke-width="1.0"/>
<rect x="148.40" y="493.40" width="5.20" height="5.20" fill="#1a1a1a" stroke="#1a1a1a" stroke-width="1.0"/>
<rect x="171.70" y="509.90" width="5.20" height="5.20" fill="#1a1a1a" stroke="#1a1a1a" stroke-width="1.0"/>
<rect x="195.40" y="514.90" width="5.20" height="5.20" fill="#1a1a1a" stroke="#1a1a1a" stroke-width="1.0"/>
<circle cx="79.50" cy="383.00" r="3.05" fill="#1a1a1a" stroke="#1a1a1a" stroke-width="1.0"/>
<circle cx="103.10" cy="428.10" r="3.05" fill="#1a1a1a" stroke="#1a1a1a" stroke-width="1.0"/>
<circle cx="126.90" cy="439.80" r="3.05" fill="#1a1a1a" stroke="#1a1a1a" stroke-width="1.0"/>
<circle cx="151.00" cy="478.20" r="3.05" fill="#1a1a1a" stroke="#1a1a1a" stroke-width="1.0"/>
<circle cx="174.30" cy="497.50" r="3.05" fill="#1a1a1a" stroke="#1a1a1a" stroke-width="1.0"/>
<circle cx="198.00" cy="499.50" r="3.05" fill="#1a1a1a" stroke="#1a1a1a" stroke-width="1.0"/>
<polyline points="338.00,406.30 361.30,373.80 385.20,352.60 408.60,373.80 432.60,392.50 456.10,395.60 480.30,373.80" fill="none" stroke="#6a6a6a" stroke-width="1.15"/>
<polyline points="338.00,342.50 361.30,345.00 385.20,371.30 408.60,383.00 432.60,386.30 456.10,382.60 480.30,392.60" fill="none" stroke="#6a6a6a" stroke-width="1.15"/>
<polyline points="338.00,413.80 361.30,379.60 385.20,357.50 408.60,385.00 432.60,396.00 456.10,391.30 480.30,381.40" fill="none" stroke="#6a6a6a" stroke-width="1.15"/>
<polyline points="338.00,421.30 361.30,410.00 385.20,380.80 408.60,428.00 432.60,457.50 456.10,479.50 480.30,498.80" fill="none" stroke="#6a6a6a" stroke-width="1.15"/>
<polyline points="338.00,363.80 361.30,369.30 385.20,376.30 408.60,401.30 432.60,423.60 456.10,444.30 480.30,458.00" fill="none" stroke="#6a6a6a" stroke-width="1.15"/>
<polyline points="338.00,444.50 361.30,422.00 385.20,380.80 408.60,397.50 432.60,414.50 456.10,449.50 480.30,473.80" fill="none" stroke="#6a6a6a" stroke-width="1.15"/>
<polygon points="338.00,401.38 342.93,406.30 338.00,411.23 333.07,406.30" fill="#ffffff" stroke="#333333" stroke-width="1.0"/>
<polygon points="361.30,368.88 366.23,373.80 361.30,378.73 356.38,373.80" fill="#ffffff" stroke="#333333" stroke-width="1.0"/>
<polygon points="385.20,347.68 390.12,352.60 385.20,357.53 380.27,352.60" fill="#ffffff" stroke="#333333" stroke-width="1.0"/>
<polygon points="408.60,368.88 413.53,373.80 408.60,378.73 403.68,373.80" fill="#ffffff" stroke="#333333" stroke-width="1.0"/>
<polygon points="432.60,387.57 437.53,392.50 432.60,397.43 427.68,392.50" fill="#ffffff" stroke="#333333" stroke-width="1.0"/>
<polygon points="456.10,390.68 461.03,395.60 456.10,400.53 451.18,395.60" fill="#ffffff" stroke="#333333" stroke-width="1.0"/>
<polygon points="480.30,368.88 485.23,373.80 480.30,378.73 475.38,373.80" fill="#ffffff" stroke="#333333" stroke-width="1.0"/>
<rect x="334.70" y="339.20" width="6.60" height="6.60" fill="#ffffff" stroke="#333333" stroke-width="1.0"/>
<rect x="358.00" y="341.70" width="6.60" height="6.60" fill="#ffffff" stroke="#333333" stroke-width="1.0"/>
<rect x="381.90" y="368.00" width="6.60" height="6.60" fill="#ffffff" stroke="#333333" stroke-width="1.0"/>
<rect x="405.30" y="379.70" width="6.60" height="6.60" fill="#ffffff" stroke="#333333" stroke-width="1.0"/>
<rect x="429.30" y="383.00" width="6.60" height="6.60" fill="#ffffff" stroke="#333333" stroke-width="1.0"/>
<rect x="452.80" y="379.30" width="6.60" height="6.60" fill="#ffffff" stroke="#333333" stroke-width="1.0"/>
<rect x="477.00" y="389.30" width="6.60" height="6.60" fill="#ffffff" stroke="#333333" stroke-width="1.0"/>
<polygon points="338.00,408.30 342.98,419.30 333.02,419.30" fill="#ffffff" stroke="#333333" stroke-width="1.0" stroke-linejoin="miter"/>
<polygon points="361.30,374.10 366.28,385.10 356.32,385.10" fill="#ffffff" stroke="#333333" stroke-width="1.0" stroke-linejoin="miter"/>
<polygon points="385.20,352.00 390.18,363.00 380.22,363.00" fill="#ffffff" stroke="#333333" stroke-width="1.0" stroke-linejoin="miter"/>
<polygon points="408.60,379.50 413.58,390.50 403.62,390.50" fill="#ffffff" stroke="#333333" stroke-width="1.0" stroke-linejoin="miter"/>
<polygon points="432.60,390.50 437.58,401.50 427.62,401.50" fill="#ffffff" stroke="#333333" stroke-width="1.0" stroke-linejoin="miter"/>
<polygon points="456.10,385.80 461.08,396.80 451.12,396.80" fill="#ffffff" stroke="#333333" stroke-width="1.0" stroke-linejoin="miter"/>
<polygon points="480.30,375.90 485.28,386.90 475.32,386.90" fill="#ffffff" stroke="#333333" stroke-width="1.0" stroke-linejoin="miter"/>
<polygon points="338.00,417.62 341.68,421.30 338.00,424.98 334.32,421.30" fill="#1a1a1a" stroke="#1a1a1a" stroke-width="1.0"/>
<polygon points="361.30,406.32 364.98,410.00 361.30,413.68 357.62,410.00" fill="#1a1a1a" stroke="#1a1a1a" stroke-width="1.0"/>
<polygon points="385.20,377.12 388.88,380.80 385.20,384.48 381.52,380.80" fill="#1a1a1a" stroke="#1a1a1a" stroke-width="1.0"/>
<polygon points="408.60,424.32 412.28,428.00 408.60,431.68 404.93,428.00" fill="#1a1a1a" stroke="#1a1a1a" stroke-width="1.0"/>
<polygon points="432.60,453.82 436.28,457.50 432.60,461.18 428.93,457.50" fill="#1a1a1a" stroke="#1a1a1a" stroke-width="1.0"/>
<polygon points="456.10,475.82 459.78,479.50 456.10,483.18 452.43,479.50" fill="#1a1a1a" stroke="#1a1a1a" stroke-width="1.0"/>
<polygon points="480.30,495.12 483.98,498.80 480.30,502.48 476.62,498.80" fill="#1a1a1a" stroke="#1a1a1a" stroke-width="1.0"/>
<rect x="335.35" y="361.15" width="5.30" height="5.30" fill="#1a1a1a" stroke="#1a1a1a" stroke-width="1.0"/>
<rect x="358.65" y="366.65" width="5.30" height="5.30" fill="#1a1a1a" stroke="#1a1a1a" stroke-width="1.0"/>
<rect x="382.55" y="373.65" width="5.30" height="5.30" fill="#1a1a1a" stroke="#1a1a1a" stroke-width="1.0"/>
<rect x="405.95" y="398.65" width="5.30" height="5.30" fill="#1a1a1a" stroke="#1a1a1a" stroke-width="1.0"/>
<rect x="429.95" y="420.95" width="5.30" height="5.30" fill="#1a1a1a" stroke="#1a1a1a" stroke-width="1.0"/>
<rect x="453.45" y="441.65" width="5.30" height="5.30" fill="#1a1a1a" stroke="#1a1a1a" stroke-width="1.0"/>
<rect x="477.65" y="455.35" width="5.30" height="5.30" fill="#1a1a1a" stroke="#1a1a1a" stroke-width="1.0"/>
<polygon points="338.00,440.50 341.77,448.50 334.23,448.50" fill="#1a1a1a" stroke="#1a1a1a" stroke-width="1.0" stroke-linejoin="miter"/>
<polygon points="361.30,418.00 365.07,426.00 357.53,426.00" fill="#1a1a1a" stroke="#1a1a1a" stroke-width="1.0" stroke-linejoin="miter"/>
<polygon points="385.20,376.80 388.97,384.80 381.43,384.80" fill="#1a1a1a" stroke="#1a1a1a" stroke-width="1.0" stroke-linejoin="miter"/>
<polygon points="408.60,393.50 412.38,401.50 404.83,401.50" fill="#1a1a1a" stroke="#1a1a1a" stroke-width="1.0" stroke-linejoin="miter"/>
<polygon points="432.60,410.50 436.38,418.50 428.83,418.50" fill="#1a1a1a" stroke="#1a1a1a" stroke-width="1.0" stroke-linejoin="miter"/>
<polygon points="456.10,445.50 459.88,453.50 452.33,453.50" fill="#1a1a1a" stroke="#1a1a1a" stroke-width="1.0" stroke-linejoin="miter"/>
<polygon points="480.30,469.80 484.07,477.80 476.53,477.80" fill="#1a1a1a" stroke="#1a1a1a" stroke-width="1.0" stroke-linejoin="miter"/>
<polyline points="78.20,796.70 101.80,799.00 125.80,793.70 149.60,767.00 173.90,784.50 197.60,779.70 221.90,766.00" fill="none" stroke="#6a6a6a" stroke-width="1.15"/>
<polyline points="78.20,790.30 101.80,787.50 125.80,778.00 149.60,756.20 173.90,760.00 197.60,761.30 221.90,736.80" fill="none" stroke="#6a6a6a" stroke-width="1.15"/>
<polyline points="78.20,781.10 101.80,772.50 125.80,753.00 149.60,716.30 173.90,762.00 197.60,793.00 221.90,787.10" fill="none" stroke="#6a6a6a" stroke-width="1.15"/>
<polyline points="78.20,784.30 101.80,740.50 125.80,707.70 149.60,703.80 173.90,766.00 197.60,790.30" fill="none" stroke="#6a6a6a" stroke-width="1.15"/>
<polyline points="78.20,764.50 101.80,735.50 125.80,675.10 149.60,673.00 173.90,759.60 197.60,778.20" fill="none" stroke="#6a6a6a" stroke-width="1.15"/>
<polyline points="78.20,769.20 101.80,736.50 125.80,717.30 149.60,723.00 173.90,763.90 197.60,783.30" fill="none" stroke="#6a6a6a" stroke-width="1.15"/>
<polygon points="78.20,793.33 81.58,796.70 78.20,800.08 74.83,796.70" fill="#ffffff" stroke="#333333" stroke-width="1.0"/>
<polygon points="101.80,795.62 105.17,799.00 101.80,802.38 98.42,799.00" fill="#ffffff" stroke="#333333" stroke-width="1.0"/>
<polygon points="125.80,790.33 129.18,793.70 125.80,797.08 122.42,793.70" fill="#ffffff" stroke="#333333" stroke-width="1.0"/>
<polygon points="149.60,763.62 152.97,767.00 149.60,770.38 146.22,767.00" fill="#ffffff" stroke="#333333" stroke-width="1.0"/>
<polygon points="173.90,781.12 177.28,784.50 173.90,787.88 170.53,784.50" fill="#ffffff" stroke="#333333" stroke-width="1.0"/>
<polygon points="197.60,776.33 200.97,779.70 197.60,783.08 194.22,779.70" fill="#ffffff" stroke="#333333" stroke-width="1.0"/>
<polygon points="221.90,762.62 225.28,766.00 221.90,769.38 218.53,766.00" fill="#ffffff" stroke="#333333" stroke-width="1.0"/>
<rect x="75.30" y="787.40" width="5.80" height="5.80" fill="#ffffff" stroke="#333333" stroke-width="1.0"/>
<rect x="98.90" y="784.60" width="5.80" height="5.80" fill="#ffffff" stroke="#333333" stroke-width="1.0"/>
<rect x="122.90" y="775.10" width="5.80" height="5.80" fill="#ffffff" stroke="#333333" stroke-width="1.0"/>
<rect x="146.70" y="753.30" width="5.80" height="5.80" fill="#ffffff" stroke="#333333" stroke-width="1.0"/>
<rect x="171.00" y="757.10" width="5.80" height="5.80" fill="#ffffff" stroke="#333333" stroke-width="1.0"/>
<rect x="194.70" y="758.40" width="5.80" height="5.80" fill="#ffffff" stroke="#333333" stroke-width="1.0"/>
<rect x="219.00" y="733.90" width="5.80" height="5.80" fill="#ffffff" stroke="#333333" stroke-width="1.0"/>
<circle cx="78.20" cy="781.10" r="2.90" fill="#ffffff" stroke="#333333" stroke-width="1.0"/>
<circle cx="101.80" cy="772.50" r="2.90" fill="#ffffff" stroke="#333333" stroke-width="1.0"/>
<circle cx="125.80" cy="753.00" r="2.90" fill="#ffffff" stroke="#333333" stroke-width="1.0"/>
<circle cx="149.60" cy="716.30" r="2.90" fill="#ffffff" stroke="#333333" stroke-width="1.0"/>
<circle cx="173.90" cy="762.00" r="2.90" fill="#ffffff" stroke="#333333" stroke-width="1.0"/>
<circle cx="197.60" cy="793.00" r="2.90" fill="#ffffff" stroke="#333333" stroke-width="1.0"/>
<circle cx="221.90" cy="787.10" r="2.90" fill="#ffffff" stroke="#333333" stroke-width="1.0"/>
<polygon points="78.20,781.82 80.67,784.30 78.20,786.77 75.73,784.30" fill="#1a1a1a" stroke="#1a1a1a" stroke-width="1.0"/>
<polygon points="101.80,738.02 104.27,740.50 101.80,742.98 99.33,740.50" fill="#1a1a1a" stroke="#1a1a1a" stroke-width="1.0"/>
<polygon points="125.80,705.23 128.28,707.70 125.80,710.18 123.33,707.70" fill="#1a1a1a" stroke="#1a1a1a" stroke-width="1.0"/>
<polygon points="149.60,701.32 152.07,703.80 149.60,706.27 147.12,703.80" fill="#1a1a1a" stroke="#1a1a1a" stroke-width="1.0"/>
<polygon points="173.90,763.52 176.38,766.00 173.90,768.48 171.43,766.00" fill="#1a1a1a" stroke="#1a1a1a" stroke-width="1.0"/>
<polygon points="197.60,787.82 200.07,790.30 197.60,792.77 195.12,790.30" fill="#1a1a1a" stroke="#1a1a1a" stroke-width="1.0"/>
<rect x="76.15" y="762.45" width="4.10" height="4.10" fill="#1a1a1a" stroke="#1a1a1a" stroke-width="1.0"/>
<rect x="99.75" y="733.45" width="4.10" height="4.10" fill="#1a1a1a" stroke="#1a1a1a" stroke-width="1.0"/>
<rect x="123.75" y="673.05" width="4.10" height="4.10" fill="#1a1a1a" stroke="#1a1a1a" stroke-width="1.0"/>
<rect x="147.55" y="670.95" width="4.10" height="4.10" fill="#1a1a1a" stroke="#1a1a1a" stroke-width="1.0"/>
<rect x="171.85" y="757.55" width="4.10" height="4.10" fill="#1a1a1a" stroke="#1a1a1a" stroke-width="1.0"/>
<rect x="195.55" y="776.15" width="4.10" height="4.10" fill="#1a1a1a" stroke="#1a1a1a" stroke-width="1.0"/>
<circle cx="78.20" cy="769.20" r="2.35" fill="#1a1a1a" stroke="#1a1a1a" stroke-width="1.0"/>
<circle cx="101.80" cy="736.50" r="2.35" fill="#1a1a1a" stroke="#1a1a1a" stroke-width="1.0"/>
<circle cx="125.80" cy="717.30" r="2.35" fill="#1a1a1a" stroke="#1a1a1a" stroke-width="1.0"/>
<circle cx="149.60" cy="723.00" r="2.35" fill="#1a1a1a" stroke="#1a1a1a" stroke-width="1.0"/>
<circle cx="173.90" cy="763.90" r="2.35" fill="#1a1a1a" stroke="#1a1a1a" stroke-width="1.0"/>
<circle cx="197.60" cy="783.30" r="2.35" fill="#1a1a1a" stroke="#1a1a1a" stroke-width="1.0"/>
<polyline points="337.30,789.00 361.30,804.00 385.30,806.00 408.70,806.00 433.00,807.30 456.30,804.00 480.70,802.90" fill="none" stroke="#6a6a6a" stroke-width="1.15"/>
<polyline points="337.30,796.00 361.30,802.30 385.30,807.70 408.70,804.60 433.00,804.80 456.30,798.50 480.70,774.60" fill="none" stroke="#6a6a6a" stroke-width="1.15"/>
<polyline points="337.30,779.80 361.30,811.20 385.30,806.70 408.70,810.00 433.00,801.00 456.30,806.00 480.70,800.50" fill="none" stroke="#6a6a6a" stroke-width="1.15"/>
<polyline points="337.30,773.70 361.30,791.00 385.30,790.40 408.70,743.30 433.00,720.60 456.30,740.80 480.70,743.80" fill="none" stroke="#6a6a6a" stroke-width="1.15"/>
<polyline points="337.30,790.40 361.30,790.00 385.30,784.20 408.70,764.00 433.00,760.60 456.30,745.80 480.70,711.90" fill="none" stroke="#6a6a6a" stroke-width="1.15"/>
<polyline points="337.30,785.60 361.30,796.70 385.30,801.50 408.70,779.20 433.00,747.10 456.30,738.50 480.70,735.60" fill="none" stroke="#6a6a6a" stroke-width="1.15"/>
<polygon points="337.30,785.73 340.57,789.00 337.30,792.27 334.03,789.00" fill="#ffffff" stroke="#333333" stroke-width="1.0"/>
<polygon points="361.30,800.73 364.57,804.00 361.30,807.27 358.03,804.00" fill="#ffffff" stroke="#333333" stroke-width="1.0"/>
<polygon points="385.30,802.73 388.57,806.00 385.30,809.27 382.03,806.00" fill="#ffffff" stroke="#333333" stroke-width="1.0"/>
<polygon points="408.70,802.73 411.97,806.00 408.70,809.27 405.43,806.00" fill="#ffffff" stroke="#333333" stroke-width="1.0"/>
<polygon points="433.00,804.02 436.27,807.30 433.00,810.57 429.73,807.30" fill="#ffffff" stroke="#333333" stroke-width="1.0"/>
<polygon points="456.30,800.73 459.57,804.00 456.30,807.27 453.03,804.00" fill="#ffffff" stroke="#333333" stroke-width="1.0"/>
<polygon points="480.70,799.62 483.97,802.90 480.70,806.17 477.43,802.90" fill="#ffffff" stroke="#333333" stroke-width="1.0"/>
<rect x="334.40" y="793.10" width="5.80" height="5.80" fill="#ffffff" stroke="#333333" stroke-width="1.0"/>
<rect x="358.40" y="799.40" width="5.80" height="5.80" fill="#ffffff" stroke="#333333" stroke-width="1.0"/>
<rect x="382.40" y="804.80" width="5.80" height="5.80" fill="#ffffff" stroke="#333333" stroke-width="1.0"/>
<rect x="405.80" y="801.70" width="5.80" height="5.80" fill="#ffffff" stroke="#333333" stroke-width="1.0"/>
<rect x="430.10" y="801.90" width="5.80" height="5.80" fill="#ffffff" stroke="#333333" stroke-width="1.0"/>
<rect x="453.40" y="795.60" width="5.80" height="5.80" fill="#ffffff" stroke="#333333" stroke-width="1.0"/>
<rect x="477.80" y="771.70" width="5.80" height="5.80" fill="#ffffff" stroke="#333333" stroke-width="1.0"/>
<polygon points="337.30,775.95 341.07,783.65 333.53,783.65" fill="#ffffff" stroke="#333333" stroke-width="1.0" stroke-linejoin="miter"/>
<polygon points="361.30,807.35 365.07,815.05 357.53,815.05" fill="#ffffff" stroke="#333333" stroke-width="1.0" stroke-linejoin="miter"/>
<polygon points="385.30,802.85 389.07,810.55 381.53,810.55" fill="#ffffff" stroke="#333333" stroke-width="1.0" stroke-linejoin="miter"/>
<polygon points="408.70,806.15 412.47,813.85 404.93,813.85" fill="#ffffff" stroke="#333333" stroke-width="1.0" stroke-linejoin="miter"/>
<polygon points="433.00,797.15 436.77,804.85 429.23,804.85" fill="#ffffff" stroke="#333333" stroke-width="1.0" stroke-linejoin="miter"/>
<polygon points="456.30,802.15 460.07,809.85 452.53,809.85" fill="#ffffff" stroke="#333333" stroke-width="1.0" stroke-linejoin="miter"/>
<polygon points="480.70,796.65 484.47,804.35 476.93,804.35" fill="#ffffff" stroke="#333333" stroke-width="1.0" stroke-linejoin="miter"/>
<polygon points="337.30,770.58 340.43,773.70 337.30,776.83 334.18,773.70" fill="#1a1a1a" stroke="#1a1a1a" stroke-width="1.0"/>
<polygon points="361.30,787.88 364.43,791.00 361.30,794.12 358.18,791.00" fill="#1a1a1a" stroke="#1a1a1a" stroke-width="1.0"/>
<polygon points="385.30,787.27 388.43,790.40 385.30,793.52 382.18,790.40" fill="#1a1a1a" stroke="#1a1a1a" stroke-width="1.0"/>
<polygon points="408.70,740.17 411.82,743.30 408.70,746.42 405.57,743.30" fill="#1a1a1a" stroke="#1a1a1a" stroke-width="1.0"/>
<polygon points="433.00,717.48 436.12,720.60 433.00,723.73 429.88,720.60" fill="#1a1a1a" stroke="#1a1a1a" stroke-width="1.0"/>
<polygon points="456.30,737.67 459.43,740.80 456.30,743.92 453.18,740.80" fill="#1a1a1a" stroke="#1a1a1a" stroke-width="1.0"/>
<polygon points="480.70,740.67 483.82,743.80 480.70,746.92 477.57,743.80" fill="#1a1a1a" stroke="#1a1a1a" stroke-width="1.0"/>
<rect x="335.15" y="788.25" width="4.30" height="4.30" fill="#1a1a1a" stroke="#1a1a1a" stroke-width="1.0"/>
<rect x="359.15" y="787.85" width="4.30" height="4.30" fill="#1a1a1a" stroke="#1a1a1a" stroke-width="1.0"/>
<rect x="383.15" y="782.05" width="4.30" height="4.30" fill="#1a1a1a" stroke="#1a1a1a" stroke-width="1.0"/>
<rect x="406.55" y="761.85" width="4.30" height="4.30" fill="#1a1a1a" stroke="#1a1a1a" stroke-width="1.0"/>
<rect x="430.85" y="758.45" width="4.30" height="4.30" fill="#1a1a1a" stroke="#1a1a1a" stroke-width="1.0"/>
<rect x="454.15" y="743.65" width="4.30" height="4.30" fill="#1a1a1a" stroke="#1a1a1a" stroke-width="1.0"/>
<rect x="478.55" y="709.75" width="4.30" height="4.30" fill="#1a1a1a" stroke="#1a1a1a" stroke-width="1.0"/>
<polygon points="337.30,782.55 340.12,788.65 334.48,788.65" fill="#1a1a1a" stroke="#1a1a1a" stroke-width="1.0" stroke-linejoin="miter"/>
<polygon points="361.30,793.65 364.12,799.75 358.48,799.75" fill="#1a1a1a" stroke="#1a1a1a" stroke-width="1.0" stroke-linejoin="miter"/>
<polygon points="385.30,798.45 388.12,804.55 382.48,804.55" fill="#1a1a1a" stroke="#1a1a1a" stroke-width="1.0" stroke-linejoin="miter"/>
<polygon points="408.70,776.15 411.52,782.25 405.88,782.25" fill="#1a1a1a" stroke="#1a1a1a" stroke-width="1.0" stroke-linejoin="miter"/>
<polygon points="433.00,744.05 435.82,750.15 430.18,750.15" fill="#1a1a1a" stroke="#1a1a1a" stroke-width="1.0" stroke-linejoin="miter"/>
<polygon points="456.30,735.45 459.12,741.55 453.48,741.55" fill="#1a1a1a" stroke="#1a1a1a" stroke-width="1.0" stroke-linejoin="miter"/>
<polygon points="480.70,732.55 483.52,738.65 477.88,738.65" fill="#1a1a1a" stroke="#1a1a1a" stroke-width="1.0" stroke-linejoin="miter"/>
<rect x="69.50" y="59.30" width="74.80" height="63.70" fill="#ffffff" stroke="#8a8a8a" stroke-width="1.3"/>
<text x="71.50" y="72.60" font-size="10" text-anchor="start" font-weight="normal" fill="#1a1a1a" stroke="#1a1a1a" stroke-width="0.3" >TGF&#946;</text>
<line x1="73.50" y1="83.10" x2="94.50" y2="83.10" stroke="#7c7c7c" stroke-width="1.1"/>
<line x1="97.70" y1="83.10" x2="118.80" y2="83.10" stroke="#7c7c7c" stroke-width="1.1"/>
<polygon points="84.30,79.32 88.08,83.10 84.30,86.88 80.52,83.10" fill="#1a1a1a" stroke="#1a1a1a" stroke-width="1.0"/>
<polygon points="108.40,79.22 112.28,83.10 108.40,86.97 104.53,83.10" fill="#ffffff" stroke="#333333" stroke-width="1.0"/>
<text x="121.30" y="86.70" font-size="10.0" text-anchor="start" font-weight="normal" fill="#1a1a1a" stroke="#1a1a1a" stroke-width="0.3" >#3</text>
<line x1="73.50" y1="97.60" x2="94.50" y2="97.60" stroke="#7c7c7c" stroke-width="1.1"/>
<line x1="97.70" y1="97.60" x2="118.80" y2="97.60" stroke="#7c7c7c" stroke-width="1.1"/>
<rect x="81.75" y="95.05" width="5.10" height="5.10" fill="#1a1a1a" stroke="#1a1a1a" stroke-width="1.0"/>
<rect x="105.15" y="94.35" width="6.50" height="6.50" fill="#ffffff" stroke="#333333" stroke-width="1.0"/>
<text x="121.30" y="101.20" font-size="10.0" text-anchor="start" font-weight="normal" fill="#1a1a1a" stroke="#1a1a1a" stroke-width="0.3" >#6</text>
<line x1="73.50" y1="114.20" x2="94.50" y2="114.20" stroke="#7c7c7c" stroke-width="1.1"/>
<line x1="97.70" y1="114.20" x2="118.80" y2="114.20" stroke="#7c7c7c" stroke-width="1.1"/>
<circle cx="84.30" cy="114.20" r="3.40" fill="#1a1a1a" stroke="#1a1a1a" stroke-width="1.0"/>
<circle cx="108.40" cy="114.20" r="3.25" fill="#ffffff" stroke="#333333" stroke-width="1.0"/>
<text x="121.30" y="117.80" font-size="10.0" text-anchor="start" font-weight="normal" fill="#1a1a1a" stroke="#1a1a1a" stroke-width="0.3" >#8</text>
<rect x="323.00" y="57.00" width="74.00" height="63.00" fill="#ffffff" stroke="#8a8a8a" stroke-width="1.3"/>
<text x="325.00" y="70.30" font-size="10" text-anchor="start" font-weight="normal" fill="#1a1a1a" stroke="#1a1a1a" stroke-width="0.3" >TGF&#946;</text>
<line x1="327.00" y1="80.00" x2="348.00" y2="80.00" stroke="#7c7c7c" stroke-width="1.1"/>
<line x1="351.20" y1="80.00" x2="372.30" y2="80.00" stroke="#7c7c7c" stroke-width="1.1"/>
<polygon points="337.80,76.22 341.57,80.00 337.80,83.78 334.03,80.00" fill="#1a1a1a" stroke="#1a1a1a" stroke-width="1.0"/>
<polygon points="361.90,76.12 365.77,80.00 361.90,83.88 358.02,80.00" fill="#ffffff" stroke="#333333" stroke-width="1.0"/>
<text x="374.80" y="83.71" font-size="10.3" text-anchor="start" font-weight="normal" fill="#1a1a1a" stroke="#1a1a1a" stroke-width="0.3" >#2</text>
<line x1="327.00" y1="95.50" x2="348.00" y2="95.50" stroke="#7c7c7c" stroke-width="1.1"/>
<line x1="351.20" y1="95.50" x2="372.30" y2="95.50" stroke="#7c7c7c" stroke-width="1.1"/>
<rect x="335.25" y="92.95" width="5.10" height="5.10" fill="#1a1a1a" stroke="#1a1a1a" stroke-width="1.0"/>
<rect x="358.65" y="92.25" width="6.50" height="6.50" fill="#ffffff" stroke="#333333" stroke-width="1.0"/>
<text x="374.80" y="99.21" font-size="10.3" text-anchor="start" font-weight="normal" fill="#1a1a1a" stroke="#1a1a1a" stroke-width="0.3" >#5</text>
<line x1="327.00" y1="111.00" x2="348.00" y2="111.00" stroke="#7c7c7c" stroke-width="1.1"/>
<line x1="351.20" y1="111.00" x2="372.30" y2="111.00" stroke="#7c7c7c" stroke-width="1.1"/>
<polygon points="337.80,107.45 341.48,114.55 334.12,114.55" fill="#1a1a1a" stroke="#1a1a1a" stroke-width="1.0" stroke-linejoin="miter"/>
<polygon points="361.90,107.15 365.67,114.85 358.12,114.85" fill="#ffffff" stroke="#333333" stroke-width="1.0" stroke-linejoin="miter"/>
<text x="374.80" y="114.71" font-size="10.3" text-anchor="start" font-weight="normal" fill="#1a1a1a" stroke="#1a1a1a" stroke-width="0.3" >#9</text>
<rect x="165.60" y="331.30" width="75.00" height="61.00" fill="#ffffff" stroke="#8a8a8a" stroke-width="1.3"/>
<text x="167.60" y="345.00" font-size="10" text-anchor="start" font-weight="normal" fill="#1a1a1a" stroke="#1a1a1a" stroke-width="0.3" >TGF&#946;</text>
<line x1="169.60" y1="355.20" x2="190.60" y2="355.20" stroke="#7c7c7c" stroke-width="1.1"/>
<line x1="193.80" y1="355.20" x2="214.90" y2="355.20" stroke="#7c7c7c" stroke-width="1.1"/>
<polygon points="180.40,351.43 184.18,355.20 180.40,358.97 176.62,355.20" fill="#1a1a1a" stroke="#1a1a1a" stroke-width="1.0"/>
<polygon points="204.50,351.32 208.38,355.20 204.50,359.07 200.62,355.20" fill="#ffffff" stroke="#333333" stroke-width="1.0"/>
<text x="217.40" y="359.09" font-size="10.8" text-anchor="start" font-weight="normal" fill="#1a1a1a" stroke="#1a1a1a" stroke-width="0.3" >#3</text>
<line x1="169.60" y1="370.20" x2="190.60" y2="370.20" stroke="#7c7c7c" stroke-width="1.1"/>
<line x1="193.80" y1="370.20" x2="214.90" y2="370.20" stroke="#7c7c7c" stroke-width="1.1"/>
<rect x="177.85" y="367.65" width="5.10" height="5.10" fill="#1a1a1a" stroke="#1a1a1a" stroke-width="1.0"/>
<rect x="201.25" y="366.95" width="6.50" height="6.50" fill="#ffffff" stroke="#333333" stroke-width="1.0"/>
<text x="217.40" y="374.09" font-size="10.8" text-anchor="start" font-weight="normal" fill="#1a1a1a" stroke="#1a1a1a" stroke-width="0.3" >#6</text>
<line x1="169.60" y1="382.70" x2="190.60" y2="382.70" stroke="#7c7c7c" stroke-width="1.1"/>
<line x1="193.80" y1="382.70" x2="214.90" y2="382.70" stroke="#7c7c7c" stroke-width="1.1"/>
<circle cx="180.40" cy="382.70" r="3.40" fill="#1a1a1a" stroke="#1a1a1a" stroke-width="1.0"/>
<circle cx="204.50" cy="382.70" r="3.25" fill="#ffffff" stroke="#333333" stroke-width="1.0"/>
<text x="217.40" y="386.59" font-size="10.8" text-anchor="start" font-weight="normal" fill="#1a1a1a" stroke="#1a1a1a" stroke-width="0.3" >#8</text>
<rect x="321.50" y="492.50" width="70.50" height="65.00" fill="#ffffff" stroke="#8a8a8a" stroke-width="1.3"/>
<text x="323.50" y="506.80" font-size="10" text-anchor="start" font-weight="normal" fill="#1a1a1a" stroke="#1a1a1a" stroke-width="0.3" >TGF&#946;</text>
<line x1="325.50" y1="516.50" x2="346.50" y2="516.50" stroke="#7c7c7c" stroke-width="1.1"/>
<line x1="349.70" y1="516.50" x2="370.80" y2="516.50" stroke="#7c7c7c" stroke-width="1.1"/>
<polygon points="336.30,512.73 340.07,516.50 336.30,520.27 332.53,516.50" fill="#1a1a1a" stroke="#1a1a1a" stroke-width="1.0"/>
<polygon points="360.40,512.62 364.27,516.50 360.40,520.38 356.52,516.50" fill="#ffffff" stroke="#333333" stroke-width="1.0"/>
<text x="373.30" y="520.17" font-size="10.2" text-anchor="start" font-weight="normal" fill="#1a1a1a" stroke="#1a1a1a" stroke-width="0.3" >#2</text>
<line x1="325.50" y1="531.50" x2="346.50" y2="531.50" stroke="#7c7c7c" stroke-width="1.1"/>
<line x1="349.70" y1="531.50" x2="370.80" y2="531.50" stroke="#7c7c7c" stroke-width="1.1"/>
<rect x="333.75" y="528.95" width="5.10" height="5.10" fill="#1a1a1a" stroke="#1a1a1a" stroke-width="1.0"/>
<rect x="357.15" y="528.25" width="6.50" height="6.50" fill="#ffffff" stroke="#333333" stroke-width="1.0"/>
<text x="373.30" y="535.17" font-size="10.2" text-anchor="start" font-weight="normal" fill="#1a1a1a" stroke="#1a1a1a" stroke-width="0.3" >#5</text>
<line x1="325.50" y1="547.30" x2="346.50" y2="547.30" stroke="#7c7c7c" stroke-width="1.1"/>
<line x1="349.70" y1="547.30" x2="370.80" y2="547.30" stroke="#7c7c7c" stroke-width="1.1"/>
<polygon points="336.30,543.75 339.98,550.85 332.62,550.85" fill="#1a1a1a" stroke="#1a1a1a" stroke-width="1.0" stroke-linejoin="miter"/>
<polygon points="360.40,543.45 364.17,551.15 356.62,551.15" fill="#ffffff" stroke="#333333" stroke-width="1.0" stroke-linejoin="miter"/>
<text x="373.30" y="550.97" font-size="10.2" text-anchor="start" font-weight="normal" fill="#1a1a1a" stroke="#1a1a1a" stroke-width="0.3" >#9</text>
<rect x="178.60" y="628.90" width="75.10" height="60.90" fill="#ffffff" stroke="#8a8a8a" stroke-width="1.3"/>
<text x="180.60" y="642.60" font-size="10" text-anchor="start" font-weight="normal" fill="#1a1a1a" stroke="#1a1a1a" stroke-width="0.3" >TGF&#946;</text>
<line x1="182.60" y1="653.20" x2="203.60" y2="653.20" stroke="#7c7c7c" stroke-width="1.1"/>
<line x1="206.80" y1="653.20" x2="227.90" y2="653.20" stroke="#7c7c7c" stroke-width="1.1"/>
<polygon points="193.40,649.43 197.18,653.20 193.40,656.98 189.62,653.20" fill="#1a1a1a" stroke="#1a1a1a" stroke-width="1.0"/>
<polygon points="217.50,649.33 221.38,653.20 217.50,657.08 213.62,653.20" fill="#ffffff" stroke="#333333" stroke-width="1.0"/>
<text x="230.40" y="657.02" font-size="10.6" text-anchor="start" font-weight="normal" fill="#1a1a1a" stroke="#1a1a1a" stroke-width="0.3" >#3</text>
<line x1="182.60" y1="667.60" x2="203.60" y2="667.60" stroke="#7c7c7c" stroke-width="1.1"/>
<line x1="206.80" y1="667.60" x2="227.90" y2="667.60" stroke="#7c7c7c" stroke-width="1.1"/>
<rect x="190.85" y="665.05" width="5.10" height="5.10" fill="#1a1a1a" stroke="#1a1a1a" stroke-width="1.0"/>
<rect x="214.25" y="664.35" width="6.50" height="6.50" fill="#ffffff" stroke="#333333" stroke-width="1.0"/>
<text x="230.40" y="671.42" font-size="10.6" text-anchor="start" font-weight="normal" fill="#1a1a1a" stroke="#1a1a1a" stroke-width="0.3" >#6</text>
<line x1="182.60" y1="681.30" x2="203.60" y2="681.30" stroke="#7c7c7c" stroke-width="1.1"/>
<line x1="206.80" y1="681.30" x2="227.90" y2="681.30" stroke="#7c7c7c" stroke-width="1.1"/>
<circle cx="193.40" cy="681.30" r="3.40" fill="#1a1a1a" stroke="#1a1a1a" stroke-width="1.0"/>
<circle cx="217.50" cy="681.30" r="3.25" fill="#ffffff" stroke="#333333" stroke-width="1.0"/>
<text x="230.40" y="685.12" font-size="10.6" text-anchor="start" font-weight="normal" fill="#1a1a1a" stroke="#1a1a1a" stroke-width="0.3" >#8</text>
<rect x="319.30" y="634.30" width="70.50" height="65.10" fill="#ffffff" stroke="#8a8a8a" stroke-width="1.3"/>
<text x="321.30" y="648.30" font-size="10" text-anchor="start" font-weight="normal" fill="#1a1a1a" stroke="#1a1a1a" stroke-width="0.3" >TGF&#946;</text>
<line x1="323.30" y1="658.30" x2="344.30" y2="658.30" stroke="#7c7c7c" stroke-width="1.1"/>
<line x1="347.50" y1="658.30" x2="368.60" y2="658.30" stroke="#7c7c7c" stroke-width="1.1"/>
<polygon points="334.10,654.52 337.88,658.30 334.10,662.07 330.33,658.30" fill="#1a1a1a" stroke="#1a1a1a" stroke-width="1.0"/>
<polygon points="358.20,654.42 362.07,658.30 358.20,662.17 354.32,658.30" fill="#ffffff" stroke="#333333" stroke-width="1.0"/>
<text x="371.10" y="662.12" font-size="10.6" text-anchor="start" font-weight="normal" fill="#1a1a1a" stroke="#1a1a1a" stroke-width="0.3" >#2</text>
<line x1="323.30" y1="673.30" x2="344.30" y2="673.30" stroke="#7c7c7c" stroke-width="1.1"/>
<line x1="347.50" y1="673.30" x2="368.60" y2="673.30" stroke="#7c7c7c" stroke-width="1.1"/>
<rect x="331.55" y="670.75" width="5.10" height="5.10" fill="#1a1a1a" stroke="#1a1a1a" stroke-width="1.0"/>
<rect x="354.95" y="670.05" width="6.50" height="6.50" fill="#ffffff" stroke="#333333" stroke-width="1.0"/>
<text x="371.10" y="677.12" font-size="10.6" text-anchor="start" font-weight="normal" fill="#1a1a1a" stroke="#1a1a1a" stroke-width="0.3" >#5</text>
<line x1="323.30" y1="688.80" x2="344.30" y2="688.80" stroke="#7c7c7c" stroke-width="1.1"/>
<line x1="347.50" y1="688.80" x2="368.60" y2="688.80" stroke="#7c7c7c" stroke-width="1.1"/>
<polygon points="334.10,685.25 337.78,692.35 330.43,692.35" fill="#1a1a1a" stroke="#1a1a1a" stroke-width="1.0" stroke-linejoin="miter"/>
<polygon points="358.20,684.95 361.97,692.65 354.43,692.65" fill="#ffffff" stroke="#333333" stroke-width="1.0" stroke-linejoin="miter"/>
<text x="371.10" y="692.62" font-size="10.6" text-anchor="start" font-weight="normal" fill="#1a1a1a" stroke="#1a1a1a" stroke-width="0.3" >#9</text>
<line x1="9.0" y1="893.9" x2="198.8" y2="893.9" stroke="#111" stroke-width="1.7"/>
<line x1="222.0" y1="894.2" x2="410.0" y2="894.2" stroke="#111" stroke-width="1.7"/>
<line x1="417.5" y1="894.5" x2="508.0" y2="894.5" stroke="#111" stroke-width="1.7"/>
<line x1="9.0" y1="1022.5" x2="199.0" y2="1022.5" stroke="#111" stroke-width="1.7"/>
<line x1="222.5" y1="1022.4" x2="507.5" y2="1022.4" stroke="#111" stroke-width="1.7"/>
<text x="107.30" y="889.20" font-size="20" text-anchor="middle" font-weight="normal" fill="#1a1a1a" stroke="#1a1a1a" stroke-width="0.3" >t120</text>
<text x="309.00" y="889.20" font-size="20" text-anchor="middle" font-weight="normal" fill="#1a1a1a" stroke="#1a1a1a" stroke-width="0.3" >t96</text>
<text x="459.40" y="888.90" font-size="20" text-anchor="middle" font-weight="normal" fill="#1a1a1a" stroke="#1a1a1a" stroke-width="0.3" >t120</text>
<text x="61.80" y="916.20" font-size="20" text-anchor="middle" font-weight="normal" fill="#1a1a1a" stroke="#1a1a1a" stroke-width="0.3" >EV</text>
<text x="151.00" y="916.40" font-size="20" text-anchor="middle" font-weight="normal" fill="#1a1a1a" stroke="#1a1a1a" stroke-width="0.3" >Igbp1</text>
<text x="269.20" y="916.40" font-size="20" text-anchor="middle" font-weight="normal" fill="#1a1a1a" stroke="#1a1a1a" stroke-width="0.3" >EV</text>
<text x="368.00" y="916.40" font-size="20" text-anchor="middle" font-weight="normal" fill="#1a1a1a" stroke="#1a1a1a" stroke-width="0.3" >Igbp1</text>
<text x="465.00" y="917.00" font-size="20" text-anchor="middle" font-weight="normal" fill="#1a1a1a" stroke="#1a1a1a" stroke-width="0.3" >Igbp1</text>
<text x="68.50" y="1042.50" font-size="20" text-anchor="start" font-weight="normal" fill="#1a1a1a" stroke="#1a1a1a" stroke-width="0.3" >no TGF&#946;</text>
<text x="330.30" y="1042.50" font-size="20" text-anchor="start" font-weight="normal" fill="#1a1a1a" stroke="#1a1a1a" stroke-width="0.3" >plus TGF&#946;</text>
<defs><radialGradient id="g0" cx="0.45" cy="0.45" r="0.6"><stop offset="0" stop-color="#8068b4"/><stop offset="0.75" stop-color="#6c52a6"/><stop offset="1" stop-color="#4c3288"/></radialGradient><radialGradient id="g1" cx="0.45" cy="0.45" r="0.6"><stop offset="0" stop-color="#7258a8"/><stop offset="0.75" stop-color="#5c4298"/><stop offset="1" stop-color="#42287e"/></radialGradient><radialGradient id="g2" cx="0.45" cy="0.45" r="0.6"><stop offset="0" stop-color="#9a84c4"/><stop offset="0.75" stop-color="#8670b8"/><stop offset="1" stop-color="#6c56a0"/></radialGradient><radialGradient id="g3" cx="0.45" cy="0.45" r="0.6"><stop offset="0" stop-color="#9c7088"/><stop offset="0.75" stop-color="#885c76"/><stop offset="1" stop-color="#6e4660"/></radialGradient><radialGradient id="g4" cx="0.45" cy="0.45" r="0.6"><stop offset="0" stop-color="#8a6aa4"/><stop offset="0.75" stop-color="#785896"/><stop offset="1" stop-color="#604280"/></radialGradient><radialGradient id="g5" cx="0.45" cy="0.45" r="0.6"><stop offset="0" stop-color="#7a62b4"/><stop offset="0.75" stop-color="#684ea6"/><stop offset="1" stop-color="#4c3290"/></radialGradient></defs>
<clipPath id="cp1"><rect x="9.0" y="923.5" width="92.5" height="89.3"/></clipPath>
<rect x="9.0" y="923.5" width="92.5" height="89.3" fill="#f1eff2"/>
<g clip-path="url(#cp1)">
<polygon points="17.6,926.6 17.8,927.7 17.9,929.0 17.1,930.0 16.1,930.7 15.0,931.2 13.8,931.4 12.6,931.5 11.4,931.6 10.3,931.1 9.4,930.3 8.4,929.7 7.6,928.9 7.0,927.8 6.7,926.6 7.2,925.5 8.1,924.6 8.6,923.7 9.3,922.8 10.3,922.2 11.4,921.6 12.6,921.4 13.8,921.7 15.0,922.0 16.2,922.4 16.9,923.4 17.4,924.5 17.7,925.5" fill="#f4f2f6" stroke="none"/>
<polygon points="16.7,926.6 16.9,927.5 17.1,928.6 16.4,929.4 15.5,930.0 14.6,930.4 13.6,930.5 12.6,930.6 11.6,930.7 10.7,930.2 10.0,929.6 9.1,929.2 8.4,928.5 7.9,927.6 7.6,926.6 8.0,925.7 8.9,925.0 9.3,924.2 9.9,923.5 10.7,923.0 11.6,922.4 12.6,922.3 13.6,922.6 14.6,922.8 15.7,923.2 16.2,924.0 16.6,924.9 16.8,925.7" fill="url(#g0)" stroke="#553894" stroke-width="1.0" stroke-linejoin="round"/>
<polygon points="21.2,939.5 21.3,941.2 20.7,942.8 19.3,943.9 17.9,944.7 16.7,945.7 15.2,946.3 13.5,946.7 11.8,946.8 10.2,946.0 8.9,945.1 7.5,944.1 6.6,942.7 6.3,941.1 6.2,939.5 6.6,938.0 7.1,936.6 7.5,935.0 8.5,933.6 10.1,932.9 11.8,932.4 13.5,932.5 15.1,932.9 16.7,933.3 18.2,934.0 19.3,935.2 20.2,936.5 20.9,937.9" fill="#f4f2f6" stroke="none"/>
<polygon points="20.3,939.5 20.4,941.0 19.9,942.4 18.6,943.3 17.4,944.0 16.3,944.8 15.0,945.4 13.5,945.8 12.0,945.9 10.6,945.2 9.4,944.4 8.2,943.5 7.5,942.3 7.2,940.9 7.1,939.5 7.5,938.2 7.9,937.0 8.2,935.6 9.1,934.3 10.5,933.7 12.0,933.3 13.5,933.4 14.9,933.8 16.4,934.1 17.7,934.7 18.6,935.8 19.4,936.9 20.1,938.1" fill="url(#g0)" stroke="#553894" stroke-width="1.0" stroke-linejoin="round"/>
<polygon points="45.6,932.1 46.9,933.9 47.9,935.9 47.5,938.5 46.1,941.0 45.5,943.5 44.2,946.0 41.8,947.8 39.4,949.3 36.9,950.4 34.4,950.7 31.8,951.6 28.9,952.0 27.1,950.6 25.9,948.7 24.9,946.8 24.8,944.5 24.4,942.3 24.2,939.9 25.8,937.4 27.8,935.3 29.5,933.1 31.8,931.3 34.4,929.9 37.1,928.8 39.5,929.5 41.4,930.7 43.6,931.2" fill="#f4f2f6" stroke="none"/>
<polygon points="44.9,932.7 46.1,934.3 47.1,936.1 46.6,938.5 45.3,940.8 44.7,943.1 43.5,945.4 41.3,947.1 39.0,948.5 36.7,949.5 34.4,949.8 32.0,950.7 29.3,951.2 27.6,949.9 26.5,948.1 25.7,946.4 25.7,944.3 25.3,942.3 25.1,940.0 26.6,937.8 28.5,935.9 30.1,933.8 32.2,932.1 34.6,930.8 37.2,929.7 39.4,930.4 41.0,931.6 43.1,931.9" fill="url(#g2)" stroke="#553894" stroke-width="1.0" stroke-linejoin="round"/>
<polygon points="33.5,949.7 33.8,951.3 33.5,952.9 32.1,953.9 30.6,954.6 29.4,955.4 27.9,955.8 26.5,956.3 24.8,956.5 23.3,955.8 22.1,954.9 20.7,954.0 19.8,952.7 19.4,951.2 19.3,949.7 20.0,948.3 20.7,947.1 21.0,945.6 21.8,944.2 23.2,943.3 24.8,942.8 26.5,942.9 28.0,943.5 29.5,943.8 30.9,944.4 31.8,945.7 32.6,946.9 33.3,948.2" fill="#f4f2f6" stroke="none"/>
<polygon points="32.6,949.7 33.0,951.1 32.7,952.5 31.4,953.4 30.1,953.9 29.0,954.5 27.7,955.0 26.5,955.4 25.0,955.6 23.7,955.0 22.6,954.2 21.4,953.4 20.6,952.3 20.3,951.0 20.2,949.7 20.9,948.5 21.5,947.5 21.7,946.2 22.3,944.9 23.6,944.1 25.0,943.7 26.5,943.8 27.8,944.4 29.1,944.6 30.4,945.1 31.1,946.2 31.8,947.3 32.4,948.4" fill="url(#g0)" stroke="#553894" stroke-width="1.0" stroke-linejoin="round"/>
<polygon points="22.5,952.5 22.3,954.0 21.2,955.3 20.4,956.4 19.5,957.6 18.2,958.3 16.9,959.0 15.4,959.4 13.9,959.0 12.5,958.5 11.0,958.0 10.1,956.7 9.5,955.3 9.0,953.9 9.1,952.5 9.2,951.1 9.2,949.5 9.9,948.1 11.1,947.1 12.4,946.2 13.9,945.9 15.4,946.0 16.9,945.9 18.3,946.5 19.3,947.5 20.5,948.4 21.5,949.5 22.0,950.9" fill="#f4f2f6" stroke="none"/>
<polygon points="21.6,952.5 21.4,953.8 20.4,954.9 19.7,955.9 18.9,956.9 17.8,957.4 16.7,958.1 15.4,958.5 14.1,958.1 12.8,957.7 11.5,957.3 10.8,956.1 10.3,954.9 9.8,953.7 10.0,952.5 10.1,951.3 10.0,949.8 10.6,948.7 11.7,947.8 12.8,947.0 14.1,946.8 15.4,946.9 16.7,946.8 17.9,947.3 18.8,948.2 19.8,948.9 20.7,949.9 21.1,951.1" fill="url(#g0)" stroke="#553894" stroke-width="1.0" stroke-linejoin="round"/>
<polygon points="33.5,959.8 33.7,961.6 33.2,963.3 32.3,964.8 30.6,965.7 28.8,966.2 27.3,966.8 25.5,967.3 23.7,967.2 21.9,966.8 20.4,965.8 19.3,964.4 18.1,963.2 17.2,961.6 17.3,959.8 17.8,958.2 18.6,956.7 19.6,955.4 20.5,954.0 21.8,952.6 23.6,952.2 25.5,952.3 27.3,952.6 29.0,953.2 30.6,954.0 32.0,955.1 32.8,956.6 33.0,958.3" fill="#f4f2f6" stroke="none"/>
<polygon points="32.6,959.8 32.8,961.4 32.4,962.9 31.6,964.3 30.1,965.0 28.4,965.4 27.1,965.9 25.5,966.4 23.9,966.3 22.3,965.9 21.0,965.1 20.0,963.9 18.9,962.8 18.1,961.4 18.2,959.8 18.7,958.4 19.4,957.1 20.3,956.0 21.0,954.7 22.2,953.4 23.8,953.0 25.5,953.2 27.1,953.4 28.6,954.0 30.0,954.7 31.3,955.6 31.9,957.0 32.2,958.5" fill="url(#g0)" stroke="#553894" stroke-width="1.0" stroke-linejoin="round"/>
<polygon points="19.1,968.2 19.1,969.4 18.6,970.6 17.8,971.6 17.0,972.5 15.9,973.1 14.7,973.3 13.5,973.4 12.4,973.2 11.2,972.9 10.0,972.6 9.0,971.8 8.4,970.6 8.2,969.4 8.2,968.2 8.5,967.0 8.8,965.9 9.3,964.8 10.2,964.0 11.2,963.2 12.3,962.7 13.5,962.5 14.8,962.6 16.0,963.1 16.8,964.1 17.5,965.0 18.2,965.9 18.8,967.0" fill="#f4f2f6" stroke="none"/>
<polygon points="18.2,968.2 18.3,969.2 17.8,970.2 17.1,971.0 16.4,971.8 15.5,972.3 14.5,972.4 13.5,972.5 12.6,972.3 11.6,972.1 10.6,971.9 9.7,971.2 9.2,970.2 9.0,969.2 9.1,968.2 9.4,967.2 9.6,966.2 10.0,965.3 10.8,964.7 11.6,964.1 12.5,963.5 13.5,963.4 14.6,963.5 15.6,963.9 16.2,964.8 16.8,965.6 17.4,966.3 17.9,967.2" fill="#5e3c46" stroke="#5e3c46" stroke-width="1.0" stroke-linejoin="round"/>
<polygon points="48.8,969.1 48.0,971.0 47.5,973.0 46.6,974.8 45.4,976.6 43.8,978.2 41.6,978.6 39.4,978.6 37.2,978.7 35.1,978.0 33.4,976.5 32.1,974.9 31.4,972.9 30.8,971.0 29.7,969.1 29.3,966.8 30.2,964.6 31.6,962.8 33.5,961.7 35.5,960.9 37.3,959.9 39.4,959.5 41.4,960.0 43.4,960.7 45.4,961.6 47.1,963.0 48.7,964.6 49.5,966.8" fill="#f4f2f6" stroke="none"/>
<polygon points="47.9,969.1 47.1,970.8 46.7,972.6 45.8,974.2 44.9,975.9 43.4,977.4 41.4,977.8 39.4,977.7 37.4,977.9 35.5,977.2 34.0,975.8 32.8,974.3 32.2,972.5 31.7,970.8 30.6,969.1 30.2,967.0 31.0,965.0 32.3,963.4 34.0,962.4 35.9,961.8 37.5,960.8 39.4,960.4 41.2,960.9 43.0,961.5 44.8,962.3 46.4,963.5 47.8,965.0 48.6,967.0" fill="url(#g0)" stroke="#553894" stroke-width="1.0" stroke-linejoin="round"/>
<polygon points="31.9,977.4 31.5,979.5 30.7,981.5 29.4,983.1 27.5,984.2 25.9,985.4 24.0,986.6 21.8,986.6 19.7,986.2 17.7,985.6 15.9,984.5 14.3,983.1 12.7,981.6 12.3,979.5 12.7,977.4 12.8,975.4 13.4,973.5 14.4,971.7 15.6,969.9 17.6,968.9 19.8,968.7 21.8,968.3 24.0,968.3 26.0,969.1 27.9,970.1 29.3,971.7 30.0,973.6 31.0,975.4" fill="#f4f2f6" stroke="none"/>
<polygon points="31.0,977.4 30.6,979.3 29.9,981.1 28.7,982.6 27.0,983.5 25.5,984.6 23.8,985.7 21.8,985.7 19.9,985.3 18.1,984.8 16.5,983.8 15.0,982.6 13.5,981.2 13.2,979.3 13.6,977.4 13.7,975.6 14.2,973.9 15.1,972.3 16.1,970.6 17.9,969.7 20.0,969.6 21.8,969.2 23.8,969.2 25.6,969.9 27.3,970.8 28.6,972.3 29.1,974.0 30.1,975.6" fill="url(#g0)" stroke="#553894" stroke-width="1.0" stroke-linejoin="round"/>
<polygon points="22.5,986.6 22.1,988.1 21.8,989.7 21.1,991.2 19.8,992.2 18.4,992.8 16.9,993.3 15.4,993.4 13.8,993.7 12.1,993.5 10.8,992.4 9.9,991.0 9.2,989.6 8.7,988.1 8.3,986.6 8.2,985.0 9.0,983.5 10.0,982.3 11.0,981.1 12.2,980.0 13.7,979.4 15.4,979.2 16.9,979.8 18.2,980.7 19.6,981.3 21.0,982.1 22.0,983.4 22.6,985.0" fill="#f4f2f6" stroke="none"/>
<polygon points="21.6,986.6 21.2,987.9 21.0,989.3 20.4,990.6 19.3,991.5 18.0,992.0 16.7,992.4 15.4,992.5 14.0,992.8 12.5,992.7 11.3,991.7 10.6,990.4 10.0,989.2 9.6,987.9 9.2,986.6 9.1,985.2 9.8,983.9 10.7,982.9 11.5,981.8 12.6,980.8 13.9,980.3 15.4,980.1 16.7,980.7 17.8,981.5 19.1,982.0 20.3,982.7 21.2,983.8 21.7,985.2" fill="url(#g0)" stroke="#553894" stroke-width="1.0" stroke-linejoin="round"/>
<polygon points="33.9,989.4 34.0,990.9 33.7,992.4 32.7,993.6 31.5,994.6 30.2,995.3 28.8,995.6 27.4,995.9 25.8,996.1 24.4,995.5 23.2,994.6 22.1,993.6 21.4,992.3 20.9,990.9 20.5,989.4 20.9,987.9 21.7,986.6 22.2,985.3 23.2,984.1 24.4,983.3 25.8,982.5 27.4,982.5 28.8,983.1 30.2,983.4 31.6,984.1 32.5,985.3 33.4,986.5 33.9,987.9" fill="#f4f2f6" stroke="none"/>
<polygon points="33.0,989.4 33.1,990.7 32.9,992.0 32.0,993.1 31.0,993.9 29.9,994.5 28.6,994.7 27.4,995.0 26.0,995.2 24.8,994.7 23.8,993.9 22.8,993.1 22.2,991.9 21.8,990.7 21.4,989.4 21.8,988.1 22.5,987.0 22.9,985.8 23.8,984.8 24.8,984.1 26.0,983.4 27.4,983.4 28.6,984.0 29.9,984.3 31.0,984.9 31.8,985.8 32.6,986.9 33.0,988.1" fill="url(#g0)" stroke="#553894" stroke-width="1.0" stroke-linejoin="round"/>
<polygon points="43.9,984.8 43.6,986.1 42.8,987.3 42.2,988.5 41.4,989.5 40.2,990.2 38.9,990.7 37.5,990.8 36.2,990.5 34.9,990.3 33.5,989.8 32.7,988.6 32.1,987.4 31.8,986.1 31.8,984.8 31.7,983.4 31.9,982.0 32.7,980.9 33.8,980.1 34.9,979.3 36.2,978.8 37.5,978.7 38.9,978.7 40.1,979.4 41.1,980.3 42.2,981.1 43.1,982.1 43.6,983.4" fill="#f4f2f6" stroke="none"/>
<polygon points="43.0,984.8 42.7,985.9 42.0,986.9 41.5,987.9 40.8,988.8 39.8,989.4 38.7,989.8 37.5,989.9 36.4,989.7 35.3,989.5 34.1,989.1 33.4,988.1 33.0,987.0 32.7,985.9 32.7,984.8 32.6,983.6 32.7,982.4 33.4,981.5 34.3,980.8 35.3,980.1 36.4,979.7 37.5,979.6 38.7,979.6 39.7,980.2 40.5,981.0 41.5,981.6 42.3,982.5 42.7,983.6" fill="#5e3c46" stroke="#5e3c46" stroke-width="1.0" stroke-linejoin="round"/>
<polygon points="57.7,982.9 57.4,984.5 56.8,986.0 55.6,987.0 54.7,988.2 53.7,989.6 52.1,990.1 50.5,990.2 48.8,990.0 47.4,989.2 46.1,988.3 44.7,987.5 44.0,986.0 43.9,984.4 43.5,982.9 43.5,981.3 44.0,979.8 44.5,978.2 45.8,977.1 47.5,976.8 48.9,976.3 50.5,975.9 52.0,976.1 53.6,976.4 55.0,977.2 55.9,978.6 56.8,979.8 57.7,981.3" fill="#f4f2f6" stroke="none"/>
<polygon points="56.8,982.9 56.5,984.3 55.9,985.6 54.9,986.5 54.1,987.5 53.3,988.8 51.9,989.3 50.5,989.3 49.0,989.1 47.8,988.4 46.7,987.6 45.4,986.9 44.9,985.6 44.8,984.2 44.4,982.9 44.4,981.5 44.8,980.2 45.2,978.7 46.4,977.8 47.9,977.6 49.1,977.2 50.5,976.8 51.8,977.0 53.2,977.2 54.4,977.9 55.1,979.2 56.0,980.2 56.9,981.5" fill="url(#g0)" stroke="#553894" stroke-width="1.0" stroke-linejoin="round"/>
<polygon points="63.2,992.1 63.3,994.3 62.8,996.5 61.3,998.2 59.5,999.5 57.7,1000.9 55.5,1001.7 53.2,1001.8 51.0,1001.4 49.0,1000.4 47.2,999.2 45.2,998.2 43.5,996.5 42.9,994.4 42.8,992.1 43.4,990.0 44.4,988.2 45.4,986.3 46.8,984.5 48.9,983.6 51.0,983.0 53.2,982.6 55.5,982.7 57.8,983.1 60.0,984.2 61.2,986.2 61.9,988.2 62.8,990.1" fill="#f4f2f6" stroke="none"/>
<polygon points="62.3,992.1 62.4,994.1 62.0,996.1 60.6,997.6 58.9,998.8 57.3,1000.1 55.3,1000.8 53.2,1000.9 51.2,1000.5 49.4,999.6 47.8,998.5 45.9,997.6 44.3,996.1 43.8,994.2 43.7,992.1 44.2,990.2 45.2,988.6 46.1,986.8 47.3,985.3 49.3,984.5 51.2,983.9 53.2,983.5 55.3,983.6 57.5,984.0 59.4,984.9 60.5,986.8 61.1,988.6 61.9,990.3" fill="url(#g0)" stroke="#553894" stroke-width="1.0" stroke-linejoin="round"/>
<polygon points="50.3,995.8 50.0,997.6 49.5,999.4 48.3,1000.8 47.2,1002.2 45.7,1003.3 43.9,1003.6 42.2,1003.9 40.3,1004.1 38.5,1003.3 37.0,1002.3 35.7,1001.0 35.1,999.2 34.6,997.6 34.0,995.8 34.2,994.0 34.8,992.3 35.6,990.6 37.0,989.4 38.7,988.6 40.3,987.7 42.2,987.6 43.9,988.2 45.6,988.7 47.1,989.6 48.4,990.9 49.8,992.2 50.5,993.9" fill="#f4f2f6" stroke="none"/>
<polygon points="49.4,995.8 49.1,997.4 48.7,999.0 47.6,1000.2 46.6,1001.5 45.3,1002.5 43.7,1002.7 42.2,1003.0 40.5,1003.2 38.9,1002.5 37.6,1001.6 36.4,1000.5 35.9,998.9 35.5,997.4 34.9,995.8 35.0,994.2 35.6,992.7 36.3,991.2 37.6,990.1 39.1,989.4 40.5,988.6 42.2,988.5 43.7,989.1 45.2,989.5 46.6,990.3 47.7,991.4 48.9,992.6 49.6,994.1" fill="url(#g0)" stroke="#553894" stroke-width="1.0" stroke-linejoin="round"/>
<polygon points="19.9,999.5 19.7,1000.9 19.0,1002.2 18.0,1003.1 17.2,1004.1 16.2,1005.0 14.9,1005.3 13.5,1005.5 12.2,1005.5 10.9,1005.1 9.6,1004.5 8.5,1003.6 8.1,1002.2 8.0,1000.8 7.8,999.5 7.9,998.2 8.1,996.9 8.6,995.6 9.6,994.6 10.9,994.1 12.2,993.5 13.5,993.3 14.9,993.7 16.1,994.2 17.1,995.0 18.0,996.0 19.0,996.9 19.8,998.1" fill="#f4f2f6" stroke="none"/>
<polygon points="19.0,999.5 18.8,1000.7 18.2,1001.8 17.3,1002.6 16.6,1003.4 15.8,1004.2 14.7,1004.4 13.5,1004.6 12.4,1004.6 11.3,1004.3 10.1,1003.8 9.2,1003.0 8.9,1001.8 8.9,1000.6 8.7,999.5 8.7,998.4 8.9,997.3 9.3,996.1 10.2,995.3 11.3,994.9 12.4,994.4 13.5,994.2 14.7,994.6 15.7,995.0 16.6,995.7 17.3,996.6 18.2,997.3 18.9,998.3" fill="url(#g0)" stroke="#553894" stroke-width="1.0" stroke-linejoin="round"/>
<polygon points="23.7,1002.3 23.6,1003.5 23.2,1004.8 22.4,1005.7 21.6,1006.6 20.6,1007.3 19.3,1007.4 18.2,1007.4 17.0,1007.5 15.8,1007.2 14.6,1006.7 13.6,1006.0 13.1,1004.7 13.0,1003.5 12.8,1002.3 13.0,1001.1 13.4,1000.0 13.9,998.9 14.8,998.1 15.8,997.5 16.9,996.7 18.2,996.5 19.4,996.9 20.5,997.4 21.4,998.2 22.1,999.2 22.9,1000.0 23.6,1001.1" fill="#f4f2f6" stroke="none"/>
<polygon points="22.8,1002.3 22.7,1003.3 22.4,1004.4 21.7,1005.2 21.0,1005.9 20.2,1006.5 19.1,1006.5 18.2,1006.5 17.2,1006.6 16.2,1006.4 15.2,1006.0 14.3,1005.4 13.9,1004.3 13.8,1003.3 13.7,1002.3 13.9,1001.3 14.2,1000.4 14.6,999.5 15.4,998.8 16.2,998.3 17.1,997.6 18.2,997.4 19.2,997.8 20.1,998.2 20.9,998.9 21.4,999.7 22.1,1000.4 22.7,1001.3" fill="url(#g0)" stroke="#553894" stroke-width="1.0" stroke-linejoin="round"/>
<polygon points="17.0,1008.8 16.9,1010.0 16.5,1011.1 15.6,1011.9 14.7,1012.5 13.8,1013.1 12.8,1013.6 11.7,1013.7 10.6,1013.7 9.5,1013.3 8.5,1012.8 7.5,1012.1 6.9,1011.1 6.8,1009.9 6.9,1008.8 7.1,1007.7 7.4,1006.7 7.7,1005.6 8.4,1004.6 9.4,1004.1 10.6,1003.8 11.7,1003.7 12.8,1003.8 13.9,1004.2 14.8,1004.9 15.4,1005.8 16.0,1006.7 16.6,1007.6" fill="#f4f2f6" stroke="none"/>
<polygon points="16.1,1008.8 16.1,1009.8 15.7,1010.7 14.9,1011.3 14.1,1011.8 13.4,1012.3 12.6,1012.7 11.7,1012.8 10.8,1012.8 9.9,1012.5 9.1,1012.0 8.3,1011.5 7.7,1010.7 7.6,1009.7 7.8,1008.8 8.0,1007.9 8.2,1007.1 8.4,1006.2 8.9,1005.3 9.8,1004.9 10.8,1004.7 11.7,1004.6 12.6,1004.7 13.5,1005.1 14.2,1005.6 14.7,1006.4 15.1,1007.1 15.7,1007.8" fill="url(#g0)" stroke="#553894" stroke-width="1.0" stroke-linejoin="round"/>
<polygon points="66.0,975.5 65.5,977.1 65.3,978.7 64.6,980.2 63.5,981.5 62.2,982.7 60.5,983.1 58.8,983.0 57.1,983.0 55.5,982.4 54.3,981.2 53.2,980.0 52.3,978.7 51.7,977.2 51.0,975.5 50.8,973.7 51.7,972.1 52.9,970.8 54.2,969.8 55.7,969.1 57.2,968.5 58.8,968.0 60.4,968.3 62.0,968.8 63.7,969.4 64.9,970.6 65.8,972.1 66.3,973.8" fill="#f4f2f6" stroke="none"/>
<polygon points="65.1,975.5 64.6,976.9 64.5,978.3 63.9,979.6 63.0,980.8 61.8,981.9 60.3,982.3 58.8,982.1 57.3,982.1 55.9,981.6 54.8,980.5 53.9,979.4 53.1,978.3 52.5,977.0 51.9,975.5 51.7,973.9 52.5,972.5 53.6,971.4 54.7,970.5 56.1,969.9 57.4,969.4 58.8,968.9 60.2,969.2 61.6,969.6 63.1,970.1 64.2,971.2 65.0,972.5 65.4,974.0" fill="url(#g0)" stroke="#553894" stroke-width="1.0" stroke-linejoin="round"/>
<polygon points="76.3,979.2 76.2,980.5 75.7,981.6 75.0,982.6 74.0,983.3 73.0,983.9 72.0,984.6 70.8,984.9 69.5,984.7 68.4,984.2 67.4,983.5 66.7,982.5 65.9,981.6 65.4,980.5 65.4,979.2 65.6,978.0 65.9,976.9 66.5,975.8 67.2,974.8 68.3,974.1 69.6,973.9 70.8,974.0 71.9,974.1 73.1,974.4 74.2,974.9 75.2,975.7 75.7,976.8 76.0,978.0" fill="#f4f2f6" stroke="none"/>
<polygon points="75.4,979.2 75.3,980.3 74.9,981.2 74.3,982.0 73.5,982.6 72.6,983.1 71.8,983.7 70.8,984.0 69.7,983.8 68.7,983.4 68.0,982.8 67.4,981.9 66.7,981.2 66.3,980.3 66.3,979.2 66.4,978.2 66.7,977.3 67.2,976.4 67.8,975.5 68.7,974.9 69.8,974.8 70.8,974.9 71.7,975.0 72.7,975.2 73.6,975.6 74.5,976.3 74.9,977.2 75.1,978.2" fill="url(#g0)" stroke="#553894" stroke-width="1.0" stroke-linejoin="round"/>
<polygon points="56.8,929.4 56.7,930.6 56.3,931.7 55.8,932.9 54.9,933.8 53.7,934.3 52.6,934.5 51.4,934.7 50.2,934.5 49.0,934.3 47.9,933.8 47.0,932.8 46.5,931.7 46.0,930.6 45.9,929.4 46.1,928.2 46.5,927.0 47.2,926.1 48.1,925.3 49.0,924.5 50.1,923.9 51.4,923.8 52.6,923.9 53.7,924.5 54.6,925.3 55.6,926.1 56.3,927.0 56.6,928.2" fill="#f4f2f6" stroke="none"/>
<polygon points="55.9,929.4 55.8,930.4 55.5,931.4 55.1,932.3 54.4,933.1 53.4,933.5 52.4,933.6 51.4,933.8 50.4,933.6 49.4,933.5 48.4,933.1 47.7,932.3 47.3,931.4 46.9,930.4 46.8,929.4 47.0,928.4 47.3,927.4 47.9,926.6 48.7,926.0 49.4,925.3 50.3,924.8 51.4,924.7 52.4,924.8 53.4,925.3 54.1,926.0 54.9,926.6 55.5,927.4 55.8,928.4" fill="url(#g0)" stroke="#553894" stroke-width="1.0" stroke-linejoin="round"/>
<polygon points="67.0,930.3 67.0,931.6 66.4,932.7 65.9,933.8 65.0,934.6 63.8,934.9 62.7,935.4 61.5,935.8 60.3,935.7 59.1,935.3 58.0,934.8 57.3,933.7 56.7,932.6 56.1,931.5 56.1,930.3 56.4,929.1 56.6,927.9 57.3,927.0 58.2,926.1 59.0,925.1 60.3,924.8 61.5,924.9 62.7,925.0 63.8,925.5 64.8,926.2 65.8,926.9 66.6,927.9 66.8,929.1" fill="#f4f2f6" stroke="none"/>
<polygon points="66.1,930.3 66.1,931.4 65.6,932.3 65.2,933.2 64.4,933.9 63.4,934.1 62.5,934.5 61.5,934.9 60.5,934.8 59.5,934.5 58.5,934.1 58.0,933.1 57.6,932.2 57.0,931.3 57.0,930.3 57.3,929.3 57.4,928.3 58.1,927.5 58.7,926.8 59.4,925.9 60.5,925.6 61.5,925.8 62.5,925.9 63.4,926.3 64.2,927.0 65.1,927.4 65.8,928.3 65.9,929.3" fill="#5e3c46" stroke="#5e3c46" stroke-width="1.0" stroke-linejoin="round"/>
<polygon points="60.6,938.6 60.4,940.0 59.4,941.2 58.6,942.1 57.7,943.1 56.7,943.9 55.5,944.7 54.2,945.1 52.8,944.6 51.5,944.1 50.3,943.5 49.4,942.4 48.7,941.2 48.3,940.0 48.5,938.6 48.6,937.3 48.5,935.9 49.1,934.6 50.2,933.6 51.4,932.9 52.8,932.9 54.2,933.0 55.5,932.8 56.8,933.1 57.9,934.0 58.9,934.8 59.7,936.0 60.1,937.2" fill="#f4f2f6" stroke="none"/>
<polygon points="59.7,938.6 59.5,939.8 58.6,940.8 57.9,941.6 57.2,942.4 56.3,943.1 55.3,943.9 54.2,944.2 53.0,943.7 51.9,943.2 50.9,942.7 50.1,941.8 49.5,940.8 49.2,939.8 49.4,938.6 49.5,937.5 49.3,936.3 49.8,935.1 50.7,934.3 51.8,933.7 53.0,933.8 54.2,933.9 55.3,933.7 56.4,933.9 57.3,934.7 58.2,935.4 58.9,936.4 59.3,937.5" fill="#5e3c46" stroke="#5e3c46" stroke-width="1.0" stroke-linejoin="round"/>
<polygon points="78.1,940.5 77.8,942.3 77.1,944.0 76.3,945.6 75.1,947.0 73.4,947.9 71.7,948.5 69.8,948.4 68.1,947.9 66.4,947.6 64.7,946.9 63.3,945.7 62.2,944.1 61.8,942.3 61.8,940.5 61.9,938.7 62.5,936.9 63.6,935.5 64.9,934.3 66.4,933.3 68.1,932.6 69.8,932.1 71.8,932.0 73.5,933.0 74.8,934.2 76.1,935.5 76.9,937.1 77.6,938.7" fill="#f4f2f6" stroke="none"/>
<polygon points="77.2,940.5 76.9,942.1 76.3,943.6 75.6,945.1 74.5,946.3 73.0,947.1 71.5,947.6 69.8,947.5 68.3,947.0 66.8,946.8 65.3,946.2 64.0,945.1 63.1,943.7 62.6,942.1 62.7,940.5 62.8,938.9 63.3,937.3 64.3,936.1 65.5,935.0 66.8,934.1 68.3,933.5 69.8,933.0 71.6,932.9 73.1,933.8 74.3,934.9 75.3,936.1 76.1,937.5 76.7,938.9" fill="url(#g0)" stroke="#553894" stroke-width="1.0" stroke-linejoin="round"/>
<polygon points="71.1,950.6 70.7,952.3 70.0,953.8 68.9,955.0 67.7,956.0 66.6,957.3 65.1,958.3 63.4,958.6 61.6,958.3 60.1,957.5 58.9,956.3 57.7,955.1 56.7,953.8 56.3,952.2 56.1,950.6 56.0,948.9 56.5,947.3 57.2,945.7 58.3,944.3 60.1,943.8 61.8,943.7 63.4,943.5 65.0,943.7 66.6,944.0 68.2,944.5 69.5,945.8 70.2,947.3 71.0,948.9" fill="#f4f2f6" stroke="none"/>
<polygon points="70.2,950.6 69.8,952.1 69.2,953.4 68.2,954.5 67.1,955.3 66.2,956.5 64.9,957.4 63.4,957.7 61.8,957.5 60.4,956.7 59.4,955.6 58.4,954.6 57.5,953.4 57.2,952.0 57.0,950.6 56.9,949.1 57.3,947.7 57.9,946.2 58.9,945.0 60.5,944.6 62.0,944.5 63.4,944.4 64.8,944.6 66.2,944.8 67.7,945.2 68.8,946.3 69.4,947.7 70.1,949.1" fill="url(#g0)" stroke="#553894" stroke-width="1.0" stroke-linejoin="round"/>
<polygon points="61.3,958.0 61.1,959.4 60.8,960.8 59.8,961.7 58.6,962.4 57.6,963.2 56.4,963.8 55.1,964.1 53.6,964.3 52.3,963.8 51.3,962.7 50.3,961.8 49.6,960.7 49.4,959.3 49.2,958.0 49.3,956.7 49.9,955.5 50.3,954.2 51.0,952.9 52.3,952.3 53.7,952.0 55.1,951.9 56.3,952.5 57.6,952.8 58.9,953.2 59.8,954.3 60.5,955.4 61.2,956.6" fill="#f4f2f6" stroke="none"/>
<polygon points="60.4,958.0 60.2,959.2 60.0,960.4 59.0,961.2 58.0,961.7 57.2,962.4 56.2,962.9 55.1,963.2 53.8,963.4 52.7,962.9 51.9,962.0 51.0,961.3 50.4,960.3 50.3,959.1 50.1,958.0 50.2,956.9 50.7,955.9 51.0,954.7 51.6,953.6 52.7,953.1 53.9,952.8 55.1,952.8 56.1,953.3 57.2,953.6 58.3,953.9 59.1,954.8 59.7,955.8 60.3,956.8" fill="#9a6a5a" stroke="#9a6a5a" stroke-width="1.0" stroke-linejoin="round"/>
<polygon points="76.3,930.3 76.4,931.2 76.4,932.1 75.9,932.9 75.2,933.6 74.4,934.1 73.5,934.1 72.6,934.2 71.7,934.2 70.9,933.8 70.2,933.3 69.5,932.8 69.0,932.1 68.6,931.2 68.3,930.3 68.6,929.4 69.2,928.6 69.6,927.9 70.2,927.3 70.9,926.8 71.7,926.3 72.6,926.2 73.5,926.4 74.4,926.6 75.2,927.0 75.7,927.8 76.2,928.6 76.4,929.4" fill="#f4f2f6" stroke="none"/>
<polygon points="75.4,930.3 75.5,931.0 75.6,931.7 75.2,932.3 74.6,932.9 74.0,933.2 73.3,933.3 72.6,933.3 71.9,933.3 71.3,933.0 70.8,932.6 70.2,932.2 69.8,931.7 69.5,931.0 69.2,930.3 69.5,929.6 70.0,929.0 70.3,928.5 70.8,928.0 71.3,927.7 71.9,927.2 72.6,927.1 73.3,927.3 74.0,927.4 74.7,927.7 75.0,928.4 75.4,929.0 75.5,929.6" fill="#5e3c46" stroke="#5e3c46" stroke-width="1.0" stroke-linejoin="round"/>
<polygon points="91.0,928.5 90.8,930.0 89.8,931.2 88.9,932.4 88.0,933.6 86.8,934.5 85.4,935.3 83.7,935.6 82.1,935.0 80.7,934.2 79.3,933.6 78.2,932.6 77.3,931.3 76.7,930.0 76.8,928.5 77.0,927.0 77.0,925.4 77.8,924.1 79.2,923.1 80.6,922.4 82.2,922.3 83.7,922.3 85.3,921.9 86.9,922.2 88.2,923.2 89.3,924.2 90.1,925.5 90.5,927.0" fill="#f4f2f6" stroke="none"/>
<polygon points="90.1,928.5 89.9,929.8 89.0,930.9 88.2,931.8 87.5,932.9 86.4,933.7 85.2,934.4 83.7,934.7 82.3,934.1 81.1,933.4 79.9,932.9 78.9,932.0 78.1,931.0 77.5,929.8 77.7,928.5 77.8,927.2 77.8,925.8 78.5,924.6 79.7,923.8 81.0,923.2 82.4,923.2 83.7,923.2 85.1,922.8 86.5,923.0 87.6,923.9 88.6,924.8 89.3,925.9 89.6,927.2" fill="url(#g0)" stroke="#553894" stroke-width="1.0" stroke-linejoin="round"/>
<polygon points="97.1,932.2 97.3,933.4 96.7,934.4 95.8,935.2 95.0,935.9 94.1,936.5 93.1,937.0 92.0,937.4 90.8,937.2 89.9,936.6 88.9,936.1 87.9,935.4 87.3,934.4 87.0,933.3 87.1,932.2 87.5,931.1 87.7,930.1 87.9,928.9 88.7,928.0 89.7,927.4 90.9,927.2 92.0,927.3 93.1,927.4 94.2,927.5 95.1,928.2 95.8,929.1 96.4,930.0 96.9,931.0" fill="#f4f2f6" stroke="none"/>
<polygon points="96.2,932.2 96.4,933.2 95.9,934.0 95.1,934.6 94.4,935.2 93.7,935.7 92.9,936.1 92.0,936.5 91.0,936.3 90.2,935.8 89.4,935.4 88.6,934.8 88.2,934.0 87.9,933.1 88.0,932.2 88.3,931.3 88.5,930.5 88.6,929.5 89.3,928.7 90.1,928.3 91.1,928.1 92.0,928.2 92.9,928.3 93.8,928.3 94.6,928.9 95.1,929.7 95.6,930.4 96.0,931.2" fill="url(#g0)" stroke="#553894" stroke-width="1.0" stroke-linejoin="round"/>
<polygon points="103.3,929.4 103.2,930.5 102.8,931.5 102.4,932.5 101.7,933.5 100.6,933.9 99.6,934.3 98.5,934.6 97.3,934.3 96.3,933.9 95.3,933.3 94.7,932.4 94.1,931.5 93.4,930.5 93.2,929.4 93.4,928.2 93.8,927.1 94.5,926.3 95.4,925.6 96.3,924.8 97.3,924.5 98.5,924.5 99.6,924.5 100.7,924.8 101.6,925.4 102.6,926.1 103.2,927.1 103.3,928.3" fill="#f4f2f6" stroke="none"/>
<polygon points="102.4,929.4 102.3,930.3 102.0,931.1 101.7,932.0 101.1,932.8 100.3,933.1 99.4,933.4 98.5,933.7 97.5,933.5 96.7,933.1 95.9,932.6 95.4,931.8 95.0,931.1 94.3,930.3 94.1,929.4 94.3,928.4 94.6,927.5 95.2,926.8 96.0,926.3 96.7,925.7 97.5,925.4 98.5,925.4 99.4,925.4 100.3,925.6 101.1,926.1 101.9,926.6 102.4,927.5 102.4,928.5" fill="url(#g0)" stroke="#553894" stroke-width="1.0" stroke-linejoin="round"/>
<polygon points="88.3,939.5 88.3,940.8 87.9,942.0 87.0,942.9 86.1,943.8 85.2,944.5 84.0,944.8 82.8,944.7 81.6,944.6 80.5,944.3 79.3,943.8 78.2,943.2 77.5,942.1 77.4,940.8 77.4,939.5 77.7,938.4 78.1,937.3 78.5,936.2 79.3,935.2 80.4,934.7 81.5,934.2 82.8,933.9 84.0,934.0 85.2,934.5 86.1,935.3 86.7,936.4 87.3,937.3 88.0,938.3" fill="#f4f2f6" stroke="none"/>
<polygon points="87.4,939.5 87.5,940.6 87.1,941.6 86.3,942.4 85.6,943.1 84.8,943.7 83.8,943.9 82.8,943.8 81.8,943.8 80.9,943.5 79.9,943.1 78.9,942.6 78.3,941.7 78.3,940.6 78.3,939.5 78.6,938.6 78.9,937.7 79.2,936.7 79.9,935.9 80.8,935.5 81.7,935.0 82.8,934.8 83.8,934.9 84.8,935.3 85.6,936.0 86.0,937.0 86.5,937.7 87.2,938.5" fill="url(#g0)" stroke="#553894" stroke-width="1.0" stroke-linejoin="round"/>
<polygon points="101.2,942.3 100.7,943.9 99.9,945.2 98.9,946.4 98.1,947.7 97.0,949.0 95.5,949.5 93.8,949.6 92.2,949.4 90.8,948.6 89.4,947.9 88.2,946.8 87.6,945.3 87.3,943.8 87.0,942.3 86.9,940.7 87.1,939.1 87.8,937.5 89.3,936.6 90.9,936.2 92.3,935.6 93.8,935.4 95.4,935.5 97.0,935.8 98.3,936.8 99.3,938.0 100.4,939.1 101.2,940.6" fill="#f4f2f6" stroke="none"/>
<polygon points="100.3,942.3 99.9,943.7 99.1,944.8 98.2,945.8 97.6,947.0 96.7,948.1 95.3,948.6 93.8,948.7 92.4,948.5 91.2,947.8 90.0,947.2 88.9,946.3 88.5,944.9 88.2,943.6 87.9,942.3 87.8,940.9 87.9,939.5 88.5,938.1 89.8,937.3 91.3,937.0 92.5,936.5 93.8,936.3 95.2,936.4 96.6,936.7 97.7,937.5 98.6,938.5 99.6,939.5 100.3,940.8" fill="url(#g0)" stroke="#553894" stroke-width="1.0" stroke-linejoin="round"/>
<polygon points="91.8,954.3 91.5,956.1 90.8,957.7 89.8,959.2 88.7,960.6 87.2,961.5 85.4,961.9 83.7,962.6 81.8,962.8 80.0,962.0 78.4,960.9 77.4,959.3 77.0,957.5 76.2,956.0 75.5,954.3 75.7,952.5 76.1,950.7 77.1,949.0 78.6,947.9 80.1,946.9 81.8,946.1 83.7,946.4 85.4,946.9 87.0,947.3 88.6,948.2 90.2,949.1 91.7,950.4 92.1,952.4" fill="#f4f2f6" stroke="none"/>
<polygon points="90.9,954.3 90.7,955.9 90.0,957.3 89.1,958.6 88.2,959.9 86.8,960.7 85.2,961.1 83.7,961.7 82.0,961.9 80.4,961.2 79.0,960.2 78.1,958.7 77.9,957.1 77.1,955.8 76.4,954.3 76.5,952.7 76.9,951.0 77.8,949.6 79.2,948.6 80.5,947.7 82.0,946.9 83.7,947.3 85.2,947.8 86.7,948.1 88.0,948.9 89.5,949.7 90.9,950.8 91.2,952.6" fill="url(#g0)" stroke="#553894" stroke-width="1.0" stroke-linejoin="round"/>
<polygon points="91.9,964.5 91.9,965.5 91.6,966.5 91.0,967.3 90.4,968.2 89.5,968.9 88.4,969.0 87.4,969.0 86.4,968.8 85.5,968.4 84.6,968.0 83.6,967.4 83.1,966.5 82.8,965.5 82.6,964.5 82.9,963.4 83.3,962.5 83.8,961.6 84.6,961.0 85.5,960.5 86.4,960.0 87.4,959.7 88.5,959.8 89.5,960.0 90.3,960.8 90.9,961.7 91.4,962.5 91.8,963.5" fill="#f4f2f6" stroke="none"/>
<polygon points="91.0,964.5 91.0,965.3 90.8,966.1 90.3,966.8 89.8,967.5 89.1,968.1 88.2,968.1 87.4,968.1 86.6,967.9 85.9,967.6 85.1,967.3 84.3,966.9 83.9,966.1 83.7,965.3 83.5,964.5 83.7,963.6 84.1,962.9 84.5,962.1 85.2,961.7 85.9,961.4 86.6,960.9 87.4,960.6 88.3,960.6 89.1,960.9 89.8,961.5 90.2,962.2 90.6,962.9 90.9,963.7" fill="#5e3c46" stroke="#5e3c46" stroke-width="1.0" stroke-linejoin="round"/>
<polygon points="80.6,972.8 80.6,973.5 80.4,974.3 80.0,975.0 79.3,975.4 78.6,975.7 78.0,976.0 77.2,976.1 76.5,976.0 75.7,975.9 75.1,975.4 74.6,974.9 74.1,974.3 73.8,973.5 73.9,972.8 74.0,972.0 74.3,971.4 74.7,970.8 75.1,970.1 75.7,969.6 76.5,969.4 77.2,969.3 78.0,969.5 78.6,969.8 79.3,970.1 79.9,970.6 80.2,971.4 80.4,972.0" fill="#f4f2f6" stroke="none"/>
<polygon points="79.7,972.8 79.7,973.3 79.6,973.9 79.3,974.4 78.7,974.7 78.2,974.9 77.8,975.1 77.2,975.2 76.7,975.2 76.1,975.1 75.7,974.7 75.3,974.3 74.9,973.9 74.7,973.3 74.8,972.8 74.8,972.2 75.1,971.8 75.4,971.3 75.7,970.8 76.1,970.4 76.7,970.3 77.2,970.2 77.8,970.3 78.3,970.6 78.8,970.8 79.2,971.2 79.3,971.7 79.5,972.2" fill="#3c2f8a" stroke="#3c2f8a" stroke-width="1.0" stroke-linejoin="round"/>
<polygon points="92.8,977.4 92.7,979.4 91.9,981.3 90.8,983.1 89.3,984.4 87.5,985.3 85.7,986.3 83.7,987.0 81.6,986.7 79.6,985.8 78.0,984.5 76.9,982.8 75.7,981.2 74.7,979.4 74.5,977.4 74.8,975.4 75.4,973.4 76.5,971.6 77.8,970.0 79.5,968.8 81.6,968.4 83.7,968.6 85.6,968.8 87.6,969.3 89.5,970.1 91.2,971.4 92.2,973.3 92.5,975.4" fill="#f4f2f6" stroke="none"/>
<polygon points="91.9,977.4 91.8,979.2 91.1,981.0 90.1,982.5 88.7,983.7 87.1,984.5 85.5,985.4 83.7,986.1 81.8,985.8 80.0,985.0 78.6,983.8 77.6,982.3 76.5,980.8 75.5,979.2 75.4,977.4 75.7,975.6 76.2,973.8 77.2,972.2 78.4,970.7 79.9,969.6 81.8,969.3 83.7,969.5 85.4,969.7 87.2,970.1 88.9,970.9 90.5,972.0 91.4,973.7 91.7,975.6" fill="url(#g0)" stroke="#553894" stroke-width="1.0" stroke-linejoin="round"/>
<polygon points="103.8,971.8 103.6,973.4 102.9,974.9 102.4,976.5 101.2,977.5 99.5,977.9 98.1,978.3 96.6,978.8 95.0,978.8 93.3,978.7 91.8,977.8 91.1,976.2 90.5,974.8 89.7,973.4 89.6,971.8 89.7,970.3 90.2,968.7 91.3,967.6 92.3,966.4 93.3,965.1 94.9,964.5 96.6,964.6 98.2,964.9 99.5,965.9 100.7,966.7 102.2,967.4 103.3,968.6 103.6,970.3" fill="#f4f2f6" stroke="none"/>
<polygon points="102.9,971.8 102.7,973.2 102.1,974.5 101.7,975.9 100.6,976.8 99.1,977.0 97.9,977.5 96.6,977.9 95.2,977.9 93.7,977.9 92.4,977.1 91.8,975.7 91.3,974.4 90.6,973.2 90.5,971.8 90.6,970.5 91.0,969.1 92.0,968.2 92.9,967.1 93.7,965.9 95.1,965.4 96.6,965.5 98.0,965.8 99.1,966.7 100.1,967.4 101.5,967.9 102.4,969.0 102.7,970.5" fill="url(#g0)" stroke="#553894" stroke-width="1.0" stroke-linejoin="round"/>
<polygon points="104.7,986.6 104.3,988.2 103.8,989.6 103.3,991.2 102.2,992.5 100.7,993.1 99.1,993.3 97.5,993.3 96.0,993.2 94.4,993.1 92.9,992.5 91.8,991.1 91.1,989.7 90.7,988.2 90.5,986.6 90.5,985.0 91.0,983.5 92.2,982.3 93.3,981.3 94.5,980.3 95.9,979.5 97.5,979.1 99.2,979.3 100.6,980.3 101.7,981.4 103.0,982.3 103.9,983.5 104.5,985.0" fill="#f4f2f6" stroke="none"/>
<polygon points="103.8,986.6 103.5,988.0 103.0,989.3 102.6,990.6 101.6,991.8 100.3,992.3 98.9,992.5 97.5,992.4 96.2,992.3 94.8,992.3 93.4,991.8 92.5,990.6 92.0,989.3 91.6,988.0 91.4,986.6 91.4,985.2 91.8,983.9 92.9,982.9 93.9,982.1 94.9,981.1 96.1,980.4 97.5,980.0 99.0,980.2 100.2,981.1 101.2,982.1 102.2,982.9 103.1,983.9 103.7,985.2" fill="url(#g0)" stroke="#553894" stroke-width="1.0" stroke-linejoin="round"/>
<polygon points="95.6,988.5 95.2,989.8 94.8,991.1 93.9,992.2 92.9,993.0 91.9,993.9 90.6,994.3 89.2,994.2 87.9,994.3 86.5,994.1 85.3,993.3 84.2,992.4 83.6,991.2 83.6,989.7 83.5,988.5 83.4,987.1 83.9,985.9 84.4,984.6 85.3,983.5 86.6,983.0 87.9,982.5 89.2,982.1 90.6,982.5 91.8,983.2 92.9,983.8 93.7,984.9 94.5,985.9 95.5,987.0" fill="#f4f2f6" stroke="none"/>
<polygon points="94.7,988.5 94.3,989.6 94.0,990.7 93.2,991.6 92.3,992.3 91.5,993.1 90.4,993.5 89.2,993.3 88.1,993.5 86.9,993.3 85.9,992.6 84.9,991.9 84.4,990.8 84.5,989.5 84.4,988.5 84.3,987.3 84.7,986.3 85.1,985.2 85.9,984.2 87.0,983.8 88.1,983.4 89.2,983.0 90.4,983.4 91.4,984.0 92.3,984.6 93.0,985.4 93.7,986.3 94.6,987.2" fill="url(#g2)" stroke="#553894" stroke-width="1.0" stroke-linejoin="round"/>
<polygon points="98.0,996.8 98.0,998.1 97.3,999.3 96.6,1000.4 95.8,1001.5 94.6,1002.2 93.4,1002.9 92.0,1003.3 90.6,1002.8 89.5,1002.0 88.3,1001.4 87.4,1000.4 86.6,999.3 85.9,998.2 85.9,996.8 86.2,995.4 86.3,994.0 87.1,992.9 88.2,992.0 89.3,991.2 90.7,991.1 92.0,991.2 93.3,990.9 94.7,991.1 95.9,991.9 96.9,992.8 97.6,994.1 97.7,995.5" fill="#f4f2f6" stroke="none"/>
<polygon points="97.1,996.8 97.1,997.9 96.5,998.9 95.9,999.9 95.2,1000.8 94.2,1001.4 93.2,1002.0 92.0,1002.4 90.8,1001.9 89.8,1001.2 88.9,1000.7 88.1,999.8 87.5,999.0 86.8,998.0 86.8,996.8 87.0,995.6 87.2,994.4 87.8,993.4 88.8,992.7 89.7,992.1 90.9,991.9 92.0,992.1 93.1,991.8 94.3,991.9 95.3,992.6 96.2,993.4 96.8,994.5 96.8,995.7" fill="#3c2f8a" stroke="#3c2f8a" stroke-width="1.0" stroke-linejoin="round"/>
<polygon points="85.0,1005.1 84.6,1007.0 83.8,1008.7 83.1,1010.5 82.0,1012.2 80.3,1013.3 78.3,1013.9 76.3,1013.9 74.4,1013.3 72.6,1012.7 70.8,1011.9 69.5,1010.5 68.5,1008.8 67.7,1007.0 67.5,1005.1 67.5,1003.1 68.0,1001.1 69.4,999.6 71.1,998.5 72.7,997.5 74.4,996.9 76.3,996.4 78.3,996.2 80.2,996.9 81.8,998.2 83.2,999.5 84.3,1001.2 84.8,1003.1" fill="#f4f2f6" stroke="none"/>
<polygon points="84.1,1005.1 83.7,1006.8 82.9,1008.3 82.4,1009.9 81.4,1011.5 79.9,1012.5 78.1,1013.0 76.3,1013.0 74.6,1012.4 73.0,1011.9 71.4,1011.2 70.3,1009.9 69.3,1008.4 68.6,1006.8 68.4,1005.1 68.4,1003.3 68.8,1001.5 70.1,1000.1 71.6,999.2 73.1,998.3 74.6,997.7 76.3,997.3 78.1,997.1 79.8,997.7 81.2,998.9 82.5,1000.1 83.5,1001.6 83.9,1003.3" fill="url(#g0)" stroke="#553894" stroke-width="1.0" stroke-linejoin="round"/>
<polygon points="96.3,1007.8 95.9,1009.2 95.6,1010.5 94.9,1011.7 93.8,1012.4 92.7,1013.1 91.5,1013.7 90.1,1014.0 88.7,1014.1 87.3,1013.7 86.3,1012.6 85.6,1011.5 84.9,1010.4 84.4,1009.1 84.2,1007.8 84.1,1006.5 84.7,1005.2 85.4,1004.1 86.2,1002.9 87.4,1002.1 88.8,1001.9 90.1,1001.8 91.4,1002.2 92.6,1002.8 93.9,1003.1 95.1,1003.9 95.8,1005.1 96.3,1006.4" fill="#f4f2f6" stroke="none"/>
<polygon points="95.4,1007.8 95.1,1009.0 94.8,1010.1 94.2,1011.1 93.2,1011.7 92.3,1012.3 91.3,1012.8 90.1,1013.1 88.9,1013.2 87.7,1012.9 86.9,1011.9 86.3,1010.9 85.7,1010.0 85.3,1008.9 85.1,1007.8 85.0,1006.7 85.5,1005.6 86.1,1004.6 86.8,1003.6 87.8,1003.0 89.0,1002.7 90.1,1002.7 91.2,1003.1 92.2,1003.6 93.4,1003.8 94.4,1004.5 95.0,1005.5 95.4,1006.6" fill="#5e3c46" stroke="#5e3c46" stroke-width="1.0" stroke-linejoin="round"/>
<polygon points="103.5,1006.9 103.5,1008.1 103.2,1009.2 102.5,1010.1 101.5,1010.8 100.5,1011.2 99.5,1011.5 98.5,1011.8 97.3,1012.0 96.1,1011.7 95.2,1011.0 94.4,1010.1 94.0,1009.1 93.6,1008.0 93.5,1006.9 93.7,1005.8 94.2,1004.8 94.6,1003.9 95.3,1002.9 96.2,1002.2 97.3,1001.7 98.5,1001.7 99.5,1002.2 100.5,1002.6 101.5,1003.1 102.3,1003.8 103.0,1004.7 103.5,1005.8" fill="#f4f2f6" stroke="none"/>
<polygon points="102.6,1006.9 102.6,1007.9 102.4,1008.8 101.8,1009.6 101.0,1010.1 100.1,1010.4 99.3,1010.6 98.5,1010.9 97.5,1011.1 96.5,1010.9 95.8,1010.3 95.1,1009.6 94.8,1008.7 94.5,1007.8 94.4,1006.9 94.5,1006.0 95.0,1005.2 95.3,1004.4 95.8,1003.6 96.6,1003.0 97.5,1002.5 98.5,1002.6 99.3,1003.1 100.1,1003.4 100.9,1003.8 101.6,1004.4 102.2,1005.1 102.6,1006.0" fill="url(#g0)" stroke="#553894" stroke-width="1.0" stroke-linejoin="round"/>
</g>
<rect x="9.0" y="923.5" width="92.5" height="89.3" fill="none" stroke="#3a3a3a" stroke-width="1.4"/>
<clipPath id="cp2"><rect x="107.3" y="923.7" width="91.7" height="89.4"/></clipPath>
<rect x="107.3" y="923.7" width="91.7" height="89.4" fill="#f7f6f6"/>
<g clip-path="url(#cp2)">
<polygon points="127.3,927.7 127.3,929.3 126.7,930.8 125.6,932.2 124.3,933.3 122.5,933.7 120.8,933.9 119.1,934.6 117.2,934.9 115.4,934.5 113.7,933.6 112.7,932.2 112.2,930.6 111.4,929.2 111.0,927.7 111.4,926.1 112.0,924.7 112.8,923.3 114.1,922.1 115.4,920.9 117.1,920.0 119.1,920.4 120.9,921.0 122.4,921.6 123.9,922.5 125.4,923.3 126.9,924.4 127.3,926.0" fill="#f4f2f6" stroke="none"/>
<polygon points="126.4,927.7 126.5,929.1 125.9,930.4 124.9,931.6 123.7,932.6 122.1,932.9 120.6,933.0 119.1,933.7 117.4,934.0 115.8,933.7 114.2,932.9 113.4,931.6 113.0,930.2 112.3,929.0 111.9,927.7 112.3,926.3 112.8,925.0 113.5,923.8 114.7,922.8 115.8,921.7 117.3,920.9 119.1,921.3 120.7,921.9 122.1,922.5 123.3,923.2 124.7,923.8 126.1,924.8 126.4,926.2" fill="url(#g0)" stroke="#553894" stroke-width="1.1" stroke-linejoin="round"/>
<polygon points="148.2,928.6 147.5,930.3 146.8,932.0 145.9,933.6 144.8,935.1 143.2,936.5 141.1,936.9 138.9,936.5 137.0,936.2 135.1,935.7 133.2,935.0 131.5,933.8 130.6,932.2 130.3,930.3 129.8,928.6 129.6,926.7 130.3,924.9 131.6,923.4 133.3,922.4 135.2,921.8 137.0,921.0 138.9,920.2 141.1,920.3 143.0,921.0 144.7,922.2 145.9,923.7 147.2,925.1 148.2,926.7" fill="#f4f2f6" stroke="none"/>
<polygon points="147.3,928.6 146.7,930.1 146.0,931.6 145.2,933.0 144.2,934.4 142.8,935.7 140.9,936.0 138.9,935.6 137.2,935.3 135.4,934.9 133.8,934.3 132.2,933.3 131.4,931.8 131.1,930.1 130.7,928.6 130.5,926.9 131.1,925.3 132.3,923.9 133.9,923.1 135.6,922.6 137.2,921.9 138.9,921.1 140.9,921.2 142.6,921.9 144.1,922.9 145.2,924.2 146.4,925.5 147.3,926.9" fill="url(#g0)" stroke="#553894" stroke-width="1.1" stroke-linejoin="round"/>
<polygon points="164.9,930.5 164.7,932.4 164.4,934.4 163.0,935.9 161.4,937.1 159.9,938.4 157.9,939.1 155.9,939.3 153.7,939.5 151.8,938.5 150.4,937.1 148.8,935.9 147.7,934.3 147.1,932.4 146.5,930.5 146.8,928.5 147.8,926.8 148.6,924.9 149.9,923.4 151.9,922.6 153.8,921.9 155.9,921.8 157.8,922.4 159.8,922.7 161.9,923.3 163.2,924.9 164.2,926.6 165.0,928.5" fill="#f4f2f6" stroke="none"/>
<polygon points="164.0,930.5 163.8,932.2 163.6,934.0 162.3,935.3 160.8,936.4 159.5,937.6 157.7,938.2 155.9,938.4 153.9,938.6 152.2,937.7 151.0,936.3 149.5,935.3 148.5,933.9 148.0,932.2 147.4,930.5 147.6,928.7 148.6,927.2 149.3,925.5 150.5,924.1 152.3,923.4 154.0,922.8 155.9,922.7 157.6,923.3 159.4,923.5 161.3,924.0 162.5,925.5 163.4,927.0 164.1,928.7" fill="url(#g0)" stroke="#553894" stroke-width="1.1" stroke-linejoin="round"/>
<polygon points="182.3,932.4 182.4,934.5 181.6,936.6 179.5,937.8 177.8,939.0 176.2,940.4 174.1,941.1 171.9,941.7 169.5,941.9 167.4,940.8 165.6,939.5 163.7,938.3 162.7,936.4 162.2,934.3 161.9,932.4 162.5,930.4 163.2,928.6 163.6,926.4 165.1,924.7 167.3,923.8 169.6,923.2 171.9,923.4 174.0,924.0 176.3,924.2 178.3,925.1 179.7,926.8 181.1,928.4 182.2,930.3" fill="#f4f2f6" stroke="none"/>
<polygon points="181.4,932.4 181.5,934.3 180.8,936.2 178.8,937.3 177.3,938.3 175.8,939.6 173.9,940.2 171.9,940.8 169.7,941.1 167.8,940.0 166.1,938.8 164.4,937.7 163.5,936.0 163.1,934.1 162.8,932.4 163.3,930.6 164.0,929.0 164.3,926.9 165.6,925.4 167.7,924.6 169.8,924.0 171.9,924.3 173.8,924.9 175.9,925.0 177.8,925.8 179.0,927.4 180.3,928.8 181.3,930.5" fill="url(#g0)" stroke="#553894" stroke-width="1.1" stroke-linejoin="round"/>
<polygon points="197.8,931.4 197.2,933.5 195.7,935.2 194.5,936.7 193.3,938.2 191.9,939.6 190.1,940.8 187.9,941.1 185.9,940.5 183.9,939.7 182.0,938.8 180.7,937.2 179.8,935.3 179.4,933.4 179.5,931.4 179.3,929.5 179.2,927.2 180.2,925.2 181.9,923.8 183.9,923.0 186.0,922.9 187.9,922.7 190.0,922.5 191.9,923.2 193.5,924.4 195.1,925.7 196.3,927.4 197.3,929.3" fill="#f4f2f6" stroke="none"/>
<polygon points="196.9,931.4 196.3,933.3 194.9,934.8 193.8,936.1 192.8,937.5 191.5,938.8 189.9,939.9 187.9,940.2 186.1,939.6 184.3,938.9 182.6,938.1 181.4,936.6 180.6,935.0 180.2,933.2 180.4,931.4 180.2,929.7 180.0,927.6 180.9,925.8 182.4,924.5 184.3,923.8 186.2,923.8 187.9,923.6 189.8,923.4 191.5,924.0 192.9,925.1 194.4,926.3 195.5,927.8 196.4,929.5" fill="url(#g0)" stroke="#553894" stroke-width="1.1" stroke-linejoin="round"/>
<polygon points="202.3,935.2 202.3,936.6 201.8,937.8 201.2,938.9 200.5,939.9 199.5,940.6 198.5,941.1 197.3,941.6 196.2,941.3 195.2,940.6 194.2,939.9 193.5,938.9 193.0,937.7 192.4,936.6 192.2,935.2 192.5,933.9 192.7,932.5 193.3,931.3 194.2,930.4 195.1,929.6 196.2,929.3 197.3,929.5 198.4,929.5 199.6,929.6 200.5,930.4 201.4,931.3 202.1,932.5 202.2,933.9" fill="#f4f2f6" stroke="none"/>
<polygon points="201.4,935.2 201.5,936.4 201.0,937.4 200.5,938.3 199.9,939.2 199.1,939.8 198.3,940.3 197.3,940.7 196.4,940.5 195.6,939.8 194.8,939.2 194.2,938.3 193.8,937.3 193.3,936.4 193.1,935.2 193.4,934.1 193.6,932.9 194.0,931.8 194.7,931.1 195.5,930.5 196.4,930.2 197.3,930.4 198.2,930.4 199.2,930.4 200.0,931.1 200.7,931.9 201.2,932.9 201.3,934.1" fill="url(#g0)" stroke="#553894" stroke-width="1.1" stroke-linejoin="round"/>
<polygon points="140.2,943.7 140.8,946.7 140.4,949.8 138.6,952.4 136.2,954.4 133.3,955.4 130.4,956.0 127.6,956.8 124.6,956.8 121.9,955.5 119.4,953.9 117.2,951.9 115.4,949.5 113.9,946.8 113.5,943.7 114.8,940.7 116.3,938.2 117.7,935.8 119.5,933.5 121.7,931.4 124.5,930.0 127.6,930.1 130.6,930.8 133.5,931.5 136.1,933.1 138.1,935.3 139.5,938.0 139.9,940.9" fill="#f4f2f6" stroke="none"/>
<polygon points="139.3,943.7 139.9,946.5 139.5,949.4 137.9,951.9 135.6,953.7 132.9,954.6 130.2,955.2 127.6,955.9 124.8,955.9 122.3,954.7 120.0,953.2 117.9,951.4 116.3,949.1 114.8,946.6 114.4,943.7 115.6,940.9 117.1,938.6 118.4,936.4 120.1,934.2 122.1,932.2 124.7,930.9 127.6,931.0 130.4,931.7 133.1,932.3 135.5,933.8 137.4,935.9 138.7,938.4 139.0,941.1" fill="url(#g0)" stroke="#553894" stroke-width="1.1" stroke-linejoin="round"/>
<polygon points="164.1,947.4 163.8,950.3 162.8,953.0 160.3,954.8 158.2,956.2 156.4,958.3 153.9,959.3 151.2,959.7 148.3,959.9 145.7,958.8 143.5,957.1 141.0,955.5 139.7,953.0 139.8,950.0 139.5,947.4 139.8,944.9 140.6,942.4 141.1,939.4 142.8,937.0 145.7,936.1 148.4,935.4 151.2,935.1 153.8,936.0 156.4,936.6 158.8,937.8 160.3,940.2 161.9,942.3 163.8,944.6" fill="#f4f2f6" stroke="none"/>
<polygon points="163.2,947.4 162.9,950.1 162.0,952.7 159.6,954.2 157.6,955.5 156.0,957.5 153.7,958.5 151.2,958.8 148.5,959.1 146.1,958.0 144.1,956.4 141.7,955.0 140.5,952.6 140.6,949.8 140.4,947.4 140.7,945.1 141.4,942.8 141.8,940.0 143.4,937.7 146.1,936.9 148.6,936.2 151.2,936.0 153.6,936.8 156.0,937.4 158.3,938.5 159.6,940.8 161.1,942.7 162.9,944.8" fill="url(#g0)" stroke="#553894" stroke-width="1.1" stroke-linejoin="round"/>
<polygon points="116.8,952.2 117.1,953.9 116.5,955.4 115.4,956.6 114.4,957.6 113.2,958.4 111.9,958.8 110.7,959.2 109.3,959.1 108.1,958.4 106.8,957.8 105.6,956.9 105.0,955.4 104.5,953.8 104.6,952.2 105.2,950.7 105.5,949.3 105.9,947.7 106.8,946.5 107.9,945.5 109.2,944.9 110.7,945.0 112.0,945.2 113.4,945.5 114.4,946.7 115.1,948.0 115.9,949.2 116.4,950.6" fill="#f4f2f6" stroke="none"/>
<polygon points="115.9,952.2 116.2,953.7 115.7,955.0 114.7,956.0 113.8,956.9 112.8,957.6 111.7,957.9 110.7,958.3 109.5,958.2 108.5,957.6 107.4,957.1 106.3,956.3 105.8,955.0 105.4,953.6 105.5,952.2 106.1,950.9 106.3,949.7 106.6,948.3 107.4,947.2 108.3,946.4 109.4,945.8 110.7,945.9 111.8,946.1 113.0,946.4 113.8,947.4 114.4,948.6 115.1,949.6 115.5,950.8" fill="url(#g0)" stroke="#553894" stroke-width="1.1" stroke-linejoin="round"/>
<polygon points="142.6,960.6 142.3,962.3 141.9,964.0 140.7,965.4 139.0,966.2 137.6,967.1 136.0,968.0 134.2,968.1 132.4,968.1 130.5,967.7 129.2,966.5 127.8,965.3 126.6,964.0 126.3,962.3 126.3,960.6 126.4,959.0 127.2,957.5 128.0,956.0 128.8,954.4 130.5,953.6 132.4,953.3 134.2,953.0 136.0,953.4 137.6,954.1 139.3,954.7 140.6,956.0 141.3,957.5 142.2,958.9" fill="#f4f2f6" stroke="none"/>
<polygon points="141.7,960.6 141.4,962.1 141.1,963.7 140.0,964.9 138.4,965.5 137.2,966.3 135.8,967.1 134.2,967.2 132.6,967.3 130.9,966.9 129.7,965.8 128.5,964.8 127.4,963.6 127.2,962.1 127.2,960.6 127.3,959.2 128.0,957.9 128.7,956.6 129.4,955.1 130.9,954.4 132.6,954.1 134.2,953.9 135.8,954.3 137.2,954.9 138.8,955.4 139.9,956.5 140.5,957.9 141.4,959.1" fill="url(#g0)" stroke="#553894" stroke-width="1.1" stroke-linejoin="round"/>
<polygon points="201.2,950.3 201.1,952.2 200.0,953.8 198.7,955.1 197.6,956.4 196.1,957.4 194.4,958.0 192.6,958.5 190.8,958.4 189.1,957.7 187.3,957.0 185.9,955.7 185.3,953.8 185.0,952.0 184.9,950.3 185.2,948.6 185.3,946.8 185.9,944.9 187.4,943.7 189.0,942.7 190.8,942.1 192.6,942.2 194.4,942.5 196.2,943.0 197.5,944.2 198.6,945.5 200.0,946.7 200.9,948.4" fill="#f4f2f6" stroke="none"/>
<polygon points="200.3,950.3 200.3,952.0 199.2,953.4 198.0,954.5 197.0,955.7 195.7,956.6 194.2,957.1 192.6,957.6 191.0,957.5 189.5,956.9 187.8,956.3 186.6,955.1 186.2,953.4 185.9,951.8 185.8,950.3 186.1,948.8 186.2,947.1 186.6,945.5 187.9,944.4 189.4,943.5 191.0,942.9 192.6,943.1 194.2,943.3 195.8,943.8 196.9,944.9 197.9,946.0 199.2,947.1 200.0,948.6" fill="url(#g0)" stroke="#553894" stroke-width="1.1" stroke-linejoin="round"/>
<polygon points="184.6,961.6 184.7,963.4 183.9,965.1 182.8,966.5 181.7,967.9 180.1,968.8 178.4,969.6 176.6,970.2 174.8,969.7 173.1,968.8 171.6,967.9 170.4,966.5 169.5,965.0 168.5,963.4 168.3,961.6 168.8,959.8 169.2,958.0 170.1,956.4 171.5,955.2 173.0,954.1 174.8,953.6 176.6,953.9 178.4,953.8 180.2,954.1 181.8,955.1 183.2,956.3 184.2,957.9 184.4,959.8" fill="#f4f2f6" stroke="none"/>
<polygon points="183.7,961.6 183.9,963.2 183.0,964.7 182.1,966.0 181.1,967.2 179.7,968.0 178.2,968.7 176.6,969.3 175.0,968.9 173.5,968.0 172.1,967.2 171.1,966.0 170.3,964.6 169.4,963.2 169.2,961.6 169.7,960.0 170.0,958.4 170.8,956.9 172.1,955.9 173.4,954.9 175.0,954.5 176.6,954.8 178.2,954.7 179.8,954.9 181.2,955.8 182.5,956.9 183.4,958.3 183.5,960.0" fill="url(#g0)" stroke="#553894" stroke-width="1.1" stroke-linejoin="round"/>
<polygon points="172.0,966.3 172.1,969.1 171.1,971.8 169.6,974.2 167.7,976.4 164.9,977.3 162.2,977.4 159.7,977.8 157.0,977.8 154.3,977.4 151.4,976.6 149.4,974.5 148.4,971.7 147.6,969.0 147.4,966.3 148.1,963.7 148.9,961.1 150.4,958.9 152.4,957.2 154.3,955.1 156.7,953.4 159.7,953.2 162.5,953.8 165.0,955.2 166.8,957.4 168.6,959.1 170.6,961.0 171.6,963.6" fill="#f4f2f6" stroke="none"/>
<polygon points="171.1,966.3 171.2,968.9 170.3,971.4 168.9,973.6 167.1,975.7 164.6,976.5 162.0,976.5 159.7,976.9 157.2,976.9 154.7,976.6 152.0,975.9 150.1,973.9 149.2,971.3 148.4,968.8 148.3,966.3 149.0,963.9 149.7,961.5 151.1,959.4 152.9,957.9 154.7,955.9 156.9,954.3 159.7,954.1 162.3,954.7 164.6,956.0 166.2,958.1 167.9,959.7 169.8,961.4 170.7,963.8" fill="url(#g0)" stroke="#553894" stroke-width="1.1" stroke-linejoin="round"/>
<polygon points="201.6,966.3 200.8,968.6 199.8,970.6 198.4,972.4 196.9,974.0 195.3,975.7 193.1,976.4 190.8,976.3 188.5,976.3 186.2,975.7 184.2,974.5 182.4,973.0 181.5,970.7 181.5,968.4 181.1,966.3 180.9,964.0 181.4,961.8 182.4,959.6 184.1,958.0 186.4,957.2 188.5,956.4 190.8,955.8 193.0,956.3 195.1,957.3 196.9,958.5 198.4,960.2 200.0,961.9 201.5,963.8" fill="#f4f2f6" stroke="none"/>
<polygon points="200.7,966.3 199.9,968.4 199.0,970.3 197.7,971.8 196.3,973.3 194.9,974.9 192.9,975.5 190.8,975.4 188.7,975.4 186.6,974.9 184.7,973.8 183.1,972.4 182.3,970.3 182.4,968.2 182.0,966.3 181.7,964.2 182.2,962.2 183.1,960.2 184.7,958.7 186.8,958.1 188.7,957.3 190.8,956.7 192.8,957.2 194.7,958.1 196.4,959.2 197.7,960.8 199.2,962.2 200.6,964.0" fill="url(#g0)" stroke="#553894" stroke-width="1.1" stroke-linejoin="round"/>
<polygon points="126.8,968.2 127.1,970.2 126.9,972.4 125.9,974.3 124.1,975.5 122.1,976.3 120.2,977.1 118.2,977.3 116.2,977.0 114.3,976.2 112.8,974.9 111.3,973.7 109.5,972.4 108.4,970.4 108.5,968.2 109.1,966.1 110.3,964.4 111.6,962.9 112.6,961.2 114.1,959.8 116.1,959.2 118.2,959.0 120.3,959.1 122.3,959.6 124.3,960.6 125.7,962.2 126.1,964.4 126.4,966.3" fill="#f4f2f6" stroke="none"/>
<polygon points="125.9,968.2 126.2,970.0 126.1,972.0 125.2,973.8 123.5,974.8 121.7,975.5 120.0,976.3 118.2,976.4 116.4,976.1 114.7,975.4 113.4,974.2 112.0,973.1 110.3,972.0 109.3,970.2 109.4,968.2 110.0,966.3 111.2,964.8 112.3,963.4 113.2,961.9 114.5,960.6 116.3,960.1 118.2,959.9 120.1,959.9 121.9,960.5 123.7,961.3 124.9,962.8 125.3,964.8 125.5,966.5" fill="url(#g0)" stroke="#553894" stroke-width="1.1" stroke-linejoin="round"/>
<polygon points="155.8,980.4 155.5,982.5 154.4,984.3 153.0,985.8 151.8,987.5 150.1,988.9 147.9,989.7 145.5,990.0 143.2,989.6 141.2,988.5 139.2,987.5 137.5,986.2 136.5,984.3 135.9,982.4 135.4,980.4 135.6,978.4 136.0,976.3 137.0,974.3 139.0,973.1 141.2,972.4 143.3,971.7 145.5,971.6 147.7,971.7 150.1,972.0 152.0,973.1 153.5,974.7 155.0,976.3 155.8,978.3" fill="#f4f2f6" stroke="none"/>
<polygon points="154.9,980.4 154.6,982.3 153.6,983.9 152.3,985.2 151.2,986.7 149.7,988.1 147.7,988.8 145.5,989.1 143.4,988.7 141.6,987.7 139.8,986.8 138.2,985.6 137.3,983.9 136.7,982.2 136.3,980.4 136.5,978.6 136.8,976.7 137.7,974.9 139.6,973.8 141.6,973.2 143.5,972.6 145.5,972.5 147.5,972.6 149.7,972.8 151.4,973.8 152.8,975.3 154.2,976.7 154.9,978.5" fill="url(#g0)" stroke="#553894" stroke-width="1.1" stroke-linejoin="round"/>
<polygon points="126.1,986.1 126.1,988.3 125.9,990.7 124.6,992.7 122.9,994.3 120.8,995.4 118.5,995.6 116.3,995.8 114.0,996.1 111.8,995.4 110.0,994.0 108.2,992.6 107.1,990.5 106.3,988.4 105.6,986.1 106.2,983.8 107.5,981.8 108.6,979.9 110.1,978.3 111.9,977.0 113.9,975.6 116.3,975.3 118.6,976.2 120.7,976.9 122.7,978.0 124.2,979.8 125.5,981.6 126.3,983.8" fill="#f4f2f6" stroke="none"/>
<polygon points="125.2,986.1 125.2,988.1 125.1,990.3 123.9,992.1 122.3,993.6 120.4,994.6 118.3,994.7 116.3,994.9 114.2,995.3 112.2,994.5 110.5,993.3 108.9,992.0 107.9,990.1 107.2,988.2 106.5,986.1 107.0,984.0 108.3,982.2 109.3,980.5 110.7,979.0 112.3,977.8 114.1,976.5 116.3,976.2 118.4,977.1 120.3,977.7 122.2,978.7 123.4,980.4 124.7,982.0 125.4,984.0" fill="url(#g0)" stroke="#553894" stroke-width="1.1" stroke-linejoin="round"/>
<polygon points="165.5,994.6 165.4,997.4 164.2,999.9 162.6,1002.2 160.9,1004.5 158.5,1005.8 155.7,1006.2 153.1,1006.5 150.4,1006.2 147.8,1005.4 145.1,1004.6 142.9,1002.7 141.9,1000.0 141.1,997.3 140.9,994.6 141.4,991.9 142.0,989.3 143.4,986.8 145.6,985.2 147.8,983.7 150.2,982.2 153.1,981.9 155.9,982.2 158.5,983.2 160.4,985.3 162.1,987.3 164.0,989.3 165.1,991.8" fill="#f4f2f6" stroke="none"/>
<polygon points="164.6,994.6 164.5,997.2 163.4,999.5 161.9,1001.6 160.4,1003.7 158.1,1005.0 155.5,1005.3 153.1,1005.6 150.6,1005.3 148.2,1004.6 145.6,1003.9 143.6,1002.1 142.7,999.6 142.0,997.1 141.8,994.6 142.3,992.1 142.8,989.6 144.1,987.4 146.2,985.9 148.2,984.5 150.4,983.1 153.1,982.8 155.7,983.1 158.1,984.1 159.9,986.0 161.4,987.9 163.2,989.7 164.3,992.0" fill="url(#g0)" stroke="#553894" stroke-width="1.1" stroke-linejoin="round"/>
<polygon points="126.6,1004.9 126.9,1007.1 125.8,1009.0 124.1,1010.5 122.5,1011.9 120.6,1013.0 118.5,1013.7 116.3,1014.3 114.0,1014.1 111.9,1013.1 109.9,1012.2 108.0,1010.8 107.0,1008.9 106.3,1007.0 106.2,1004.9 106.9,1003.0 107.4,1001.1 108.1,999.0 109.8,997.5 111.8,996.4 114.0,995.7 116.3,995.9 118.5,996.2 120.8,996.5 122.6,997.8 124.0,999.4 125.5,1001.0 126.2,1002.9" fill="#f4f2f6" stroke="none"/>
<polygon points="125.7,1004.9 126.0,1006.9 125.0,1008.7 123.4,1009.9 121.9,1011.2 120.2,1012.2 118.3,1012.8 116.3,1013.4 114.2,1013.2 112.3,1012.3 110.4,1011.5 108.8,1010.3 107.8,1008.6 107.2,1006.8 107.1,1004.9 107.8,1003.2 108.2,1001.5 108.8,999.6 110.3,998.2 112.2,997.3 114.2,996.6 116.3,996.8 118.3,997.1 120.4,997.3 122.1,998.5 123.3,999.9 124.6,1001.4 125.4,1003.1" fill="url(#g0)" stroke="#553894" stroke-width="1.1" stroke-linejoin="round"/>
<polygon points="168.3,1001.2 168.4,1002.3 167.9,1003.3 167.3,1004.2 166.6,1005.1 165.6,1005.7 164.6,1006.2 163.4,1006.6 162.3,1006.2 161.4,1005.4 160.5,1004.9 159.7,1004.2 158.9,1003.3 158.2,1002.3 158.2,1001.2 158.6,1000.0 158.8,998.9 159.4,997.9 160.3,997.2 161.2,996.6 162.3,996.4 163.4,996.5 164.5,996.3 165.7,996.3 166.7,997.0 167.5,997.9 168.0,998.9 168.1,1000.1" fill="#f4f2f6" stroke="none"/>
<polygon points="167.4,1001.2 167.5,1002.1 167.1,1002.9 166.6,1003.7 166.0,1004.4 165.2,1004.9 164.4,1005.4 163.4,1005.7 162.5,1005.3 161.8,1004.6 161.0,1004.2 160.4,1003.6 159.7,1002.9 159.1,1002.1 159.1,1001.2 159.4,1000.2 159.6,999.3 160.1,998.5 160.9,997.9 161.6,997.4 162.5,997.3 163.4,997.4 164.3,997.2 165.4,997.1 166.2,997.7 166.8,998.4 167.2,999.3 167.2,1000.3" fill="url(#g0)" stroke="#553894" stroke-width="1.1" stroke-linejoin="round"/>
</g>
<rect x="107.3" y="923.7" width="91.7" height="89.4" fill="none" stroke="#3a3a3a" stroke-width="1.4"/>
<clipPath id="cp3"><rect x="220.4" y="924.8" width="91.4" height="88.5"/></clipPath>
<rect x="220.4" y="924.8" width="91.4" height="88.5" fill="#f3eaee"/>
<g clip-path="url(#cp3)">
<polygon points="254.6,933.3 254.2,934.8 253.4,936.1 252.8,937.6 252.1,939.1 250.6,940.0 248.9,940.4 247.2,940.3 245.6,939.8 244.1,939.4 242.5,938.9 241.4,937.7 240.7,936.3 240.1,934.8 239.8,933.3 239.8,931.7 240.1,930.1 241.3,928.8 242.8,928.1 244.2,927.4 245.6,926.7 247.2,926.3 248.9,926.2 250.6,926.8 251.8,927.9 253.0,929.0 254.1,930.2 254.5,931.7" fill="#f4f2f6" stroke="none"/>
<polygon points="253.7,933.3 253.3,934.6 252.6,935.7 252.1,937.0 251.5,938.4 250.2,939.2 248.7,939.5 247.2,939.4 245.8,938.9 244.5,938.6 243.1,938.2 242.1,937.1 241.5,935.9 240.9,934.6 240.7,933.3 240.6,931.9 240.9,930.4 242.0,929.4 243.4,928.8 244.6,928.2 245.8,927.6 247.2,927.2 248.7,927.0 250.2,927.6 251.2,928.6 252.3,929.5 253.3,930.6 253.6,931.9" fill="url(#g5)" stroke="#4a3490" stroke-width="1.0" stroke-linejoin="round"/>
<polygon points="280.2,933.3 279.9,934.3 279.5,935.3 279.0,936.1 278.2,936.7 277.4,937.4 276.5,937.9 275.5,938.0 274.5,937.8 273.5,937.4 272.7,936.8 272.0,936.1 271.3,935.3 271.0,934.3 271.0,933.3 271.0,932.3 271.3,931.3 271.9,930.4 272.5,929.6 273.5,929.2 274.5,929.0 275.5,928.9 276.5,928.9 277.5,929.2 278.4,929.7 279.1,930.4 279.5,931.4 279.9,932.3" fill="#f4f2f6" stroke="none"/>
<polygon points="279.3,933.3 279.1,934.1 278.7,934.9 278.3,935.5 277.7,936.0 277.1,936.6 276.3,937.1 275.5,937.1 274.7,936.9 273.9,936.6 273.3,936.1 272.7,935.5 272.1,934.9 271.9,934.1 271.9,933.3 271.9,932.5 272.1,931.7 272.6,931.0 273.1,930.3 273.9,930.0 274.7,929.9 275.5,929.8 276.3,929.8 277.1,930.0 277.8,930.4 278.4,931.0 278.7,931.7 279.1,932.5" fill="#4a3490" stroke="#4a3490" stroke-width="1.0" stroke-linejoin="round"/>
<polygon points="278.4,941.8 278.3,942.9 277.8,943.9 277.0,944.7 276.2,945.5 275.3,946.2 274.3,946.8 273.0,947.1 271.8,946.9 270.7,946.3 269.8,945.5 269.0,944.8 268.3,943.9 267.9,942.9 267.6,941.8 267.8,940.7 268.1,939.6 268.6,938.5 269.5,937.7 270.7,937.3 271.9,937.1 273.0,937.1 274.2,937.2 275.4,937.3 276.5,937.8 277.4,938.6 278.0,939.6 278.4,940.7" fill="#f4f2f6" stroke="none"/>
<polygon points="277.5,941.8 277.4,942.7 277.0,943.5 276.3,944.2 275.7,944.8 275.0,945.4 274.1,945.9 273.0,946.2 272.0,946.1 271.1,945.5 270.4,944.8 269.7,944.2 269.2,943.5 268.7,942.7 268.5,941.8 268.7,940.9 268.9,940.0 269.3,939.1 270.1,938.4 271.1,938.1 272.1,937.9 273.0,938.0 274.0,938.1 275.0,938.1 275.9,938.5 276.7,939.1 277.2,940.0 277.5,940.9" fill="#4a3490" stroke="#4a3490" stroke-width="1.0" stroke-linejoin="round"/>
<polygon points="256.7,961.6 257.0,963.4 256.7,965.2 255.7,966.8 254.3,968.0 252.5,968.7 250.8,969.2 249.1,969.6 247.3,969.4 245.7,968.6 244.2,967.7 242.9,966.5 241.7,965.1 240.7,963.5 240.7,961.6 241.4,959.8 242.2,958.3 243.2,956.8 244.2,955.5 245.5,954.2 247.3,953.5 249.1,953.6 250.9,953.7 252.7,954.1 254.2,955.1 255.5,956.5 256.2,958.2 256.3,959.9" fill="#f4f2f6" stroke="none"/>
<polygon points="255.8,961.6 256.2,963.2 255.9,964.8 255.0,966.3 253.7,967.3 252.1,967.8 250.6,968.3 249.1,968.7 247.5,968.5 246.1,967.8 244.8,967.0 243.6,965.9 242.5,964.7 241.6,963.3 241.6,961.6 242.3,960.0 243.0,958.7 243.9,957.4 244.8,956.2 245.9,955.0 247.5,954.4 249.1,954.5 250.7,954.6 252.3,955.0 253.7,955.9 254.8,957.1 255.4,958.6 255.5,960.1" fill="url(#g3)" stroke="#9a6a8a" stroke-width="1.0" stroke-linejoin="round"/>
<polygon points="272.0,963.5 271.7,965.3 271.0,967.0 269.8,968.5 268.7,970.0 267.1,971.1 265.1,971.2 263.2,971.3 261.3,971.4 259.5,970.9 257.6,970.1 256.0,968.9 255.5,967.0 255.2,965.2 254.7,963.5 254.9,961.6 255.5,959.9 256.3,958.2 257.9,957.1 259.6,956.3 261.2,955.2 263.2,954.8 265.2,955.3 267.0,956.0 268.4,957.3 269.5,958.7 271.0,959.9 272.1,961.5" fill="#f4f2f6" stroke="none"/>
<polygon points="271.1,963.5 270.8,965.1 270.2,966.7 269.1,967.9 268.1,969.3 266.7,970.3 264.9,970.4 263.2,970.4 261.5,970.5 259.9,970.1 258.2,969.4 256.7,968.4 256.3,966.6 256.1,965.0 255.6,963.5 255.8,961.8 256.3,960.3 257.0,958.8 258.5,957.8 260.0,957.1 261.5,956.1 263.2,955.7 265.0,956.2 266.6,956.9 267.8,958.0 268.8,959.2 270.2,960.3 271.2,961.7" fill="url(#g5)" stroke="#4a3490" stroke-width="1.0" stroke-linejoin="round"/>
<polygon points="279.2,969.1 278.9,970.5 278.4,971.9 278.0,973.4 277.0,974.6 275.6,975.2 274.1,975.4 272.7,975.5 271.2,975.3 269.8,975.1 268.4,974.5 267.5,973.2 266.8,971.9 266.2,970.6 266.0,969.1 266.0,967.6 266.5,966.2 267.7,965.1 268.8,964.3 269.8,963.3 271.2,962.6 272.7,962.3 274.2,962.4 275.5,963.2 276.6,964.2 277.8,965.0 278.7,966.2 279.1,967.7" fill="#f4f2f6" stroke="none"/>
<polygon points="278.3,969.1 278.0,970.3 277.6,971.5 277.3,972.8 276.5,973.9 275.2,974.4 273.9,974.5 272.7,974.6 271.4,974.4 270.2,974.3 268.9,973.8 268.2,972.7 267.7,971.5 267.1,970.4 266.9,969.1 266.9,967.8 267.3,966.6 268.4,965.7 269.4,965.0 270.2,964.1 271.4,963.4 272.7,963.2 274.0,963.3 275.1,964.0 276.0,964.9 277.1,965.6 277.9,966.6 278.2,967.9" fill="url(#g3)" stroke="#9a6a8a" stroke-width="1.0" stroke-linejoin="round"/>
<polygon points="260.2,971.9 259.9,973.5 259.3,975.1 258.2,976.2 257.0,977.2 255.9,978.3 254.4,978.7 252.9,978.7 251.3,978.8 249.8,978.3 248.4,977.5 247.1,976.6 246.4,975.1 246.3,973.4 246.2,971.9 246.2,970.4 246.7,969.0 247.2,967.4 248.3,966.2 249.8,965.7 251.3,965.1 252.9,964.7 254.4,965.1 255.9,965.7 257.2,966.5 258.0,967.8 259.0,969.0 260.0,970.3" fill="#f4f2f6" stroke="none"/>
<polygon points="259.3,971.9 259.0,973.3 258.5,974.7 257.5,975.6 256.5,976.5 255.5,977.5 254.2,977.9 252.9,977.8 251.5,977.9 250.2,977.5 249.0,976.8 247.8,976.0 247.2,974.7 247.2,973.2 247.1,971.9 247.1,970.6 247.5,969.4 247.9,968.0 248.9,966.9 250.2,966.5 251.5,966.0 252.9,965.6 254.2,966.0 255.5,966.5 256.6,967.2 257.3,968.4 258.2,969.4 259.1,970.5" fill="url(#g4)" stroke="#8a64a4" stroke-width="1.0" stroke-linejoin="round"/>
<polygon points="239.8,977.6 239.8,979.7 239.2,981.6 238.1,983.3 236.7,984.8 234.9,985.6 233.0,985.9 231.2,986.3 229.3,986.4 227.4,985.9 225.5,985.0 224.2,983.5 223.5,981.5 222.9,979.6 222.5,977.6 223.0,975.6 223.6,973.8 224.6,972.1 225.9,970.7 227.4,969.3 229.2,968.2 231.2,968.2 233.1,968.8 234.9,969.6 236.3,970.9 237.7,972.2 239.0,973.6 239.7,975.6" fill="#f4f2f6" stroke="none"/>
<polygon points="238.9,977.6 238.9,979.5 238.3,981.2 237.4,982.8 236.2,984.1 234.5,984.8 232.8,985.0 231.2,985.4 229.5,985.5 227.8,985.1 226.1,984.3 224.9,982.9 224.3,981.1 223.7,979.4 223.4,977.6 223.8,975.8 224.4,974.2 225.3,972.6 226.5,971.4 227.8,970.2 229.4,969.1 231.2,969.1 232.9,969.6 234.5,970.4 235.8,971.6 237.0,972.7 238.2,974.0 238.8,975.8" fill="url(#g3)" stroke="#9a6a8a" stroke-width="1.0" stroke-linejoin="round"/>
<polygon points="253.4,979.5 252.8,981.2 252.5,982.9 251.6,984.4 250.2,985.6 248.8,986.7 247.1,987.3 245.3,987.4 243.5,987.6 241.6,987.2 240.3,985.8 239.1,984.4 238.3,982.9 238.0,981.2 237.4,979.5 237.2,977.6 238.0,976.0 239.0,974.4 240.2,973.0 241.8,972.2 243.5,971.6 245.3,971.3 247.0,972.0 248.6,972.7 250.3,973.2 251.7,974.4 252.8,975.9 253.6,977.6" fill="#f4f2f6" stroke="none"/>
<polygon points="252.5,979.5 252.0,981.0 251.7,982.5 250.8,983.9 249.6,984.9 248.4,985.9 246.9,986.4 245.3,986.5 243.7,986.8 242.0,986.3 240.9,985.1 239.9,983.8 239.1,982.5 238.9,981.0 238.3,979.5 238.1,977.8 238.8,976.4 239.7,975.0 240.7,973.7 242.2,973.0 243.7,972.5 245.3,972.2 246.8,972.9 248.2,973.5 249.7,973.9 251.0,975.0 252.0,976.3 252.8,977.8" fill="url(#g3)" stroke="#9a6a8a" stroke-width="1.0" stroke-linejoin="round"/>
<polygon points="273.8,978.5 273.9,980.5 273.5,982.4 272.5,984.1 271.1,985.7 269.1,986.3 267.0,986.3 265.1,986.7 263.1,986.9 261.2,986.4 259.2,985.6 257.8,984.1 257.2,982.2 256.3,980.5 255.7,978.5 256.3,976.6 257.2,974.9 258.3,973.4 259.8,972.2 261.2,970.8 262.9,969.4 265.1,969.4 267.1,970.1 269.0,970.8 270.5,972.1 272.0,973.3 273.5,974.7 273.9,976.6" fill="#f4f2f6" stroke="none"/>
<polygon points="272.9,978.5 273.1,980.3 272.7,982.0 271.7,983.6 270.6,985.0 268.7,985.5 266.8,985.4 265.1,985.8 263.3,986.0 261.6,985.6 259.8,984.9 258.5,983.5 258.0,981.8 257.2,980.3 256.6,978.5 257.2,976.8 258.0,975.3 259.0,973.9 260.4,972.9 261.6,971.6 263.1,970.3 265.1,970.3 266.9,970.9 268.6,971.6 269.9,972.8 271.3,973.9 272.7,975.1 273.0,976.8" fill="url(#g3)" stroke="#9a6a8a" stroke-width="1.0" stroke-linejoin="round"/>
<polygon points="262.4,993.6 262.2,995.4 261.7,997.1 260.5,998.6 259.2,999.9 257.7,1001.2 255.8,1001.7 253.8,1001.6 252.0,1001.1 250.3,1000.5 248.6,999.7 246.9,998.7 245.6,997.3 245.2,995.4 245.1,993.6 245.4,991.8 246.1,990.2 247.0,988.6 248.5,987.4 250.2,986.7 252.0,986.1 253.8,985.5 255.8,985.5 257.8,986.0 259.4,987.1 260.4,988.7 261.2,990.3 262.0,991.9" fill="#f4f2f6" stroke="none"/>
<polygon points="261.5,993.6 261.3,995.2 260.8,996.7 259.8,998.0 258.7,999.2 257.3,1000.4 255.6,1000.9 253.8,1000.7 252.2,1000.2 250.7,999.6 249.2,999.0 247.6,998.2 246.4,996.9 246.1,995.2 246.0,993.6 246.3,992.0 246.9,990.6 247.7,989.2 249.0,988.1 250.6,987.5 252.2,987.0 253.8,986.4 255.6,986.4 257.4,986.8 258.8,987.8 259.7,989.3 260.4,990.7 261.2,992.1" fill="url(#g3)" stroke="#9a6a8a" stroke-width="1.0" stroke-linejoin="round"/>
<polygon points="272.7,992.7 272.8,994.2 272.6,995.8 271.5,997.0 270.3,998.0 269.1,998.9 267.6,999.4 266.1,999.9 264.4,1000.0 263.0,999.0 261.9,997.9 260.8,996.9 259.9,995.6 259.2,994.2 258.7,992.7 259.2,991.1 259.9,989.7 260.5,988.3 261.6,987.1 263.0,986.3 264.5,985.7 266.1,985.9 267.5,986.4 269.1,986.4 270.6,986.9 271.7,988.2 272.6,989.5 272.9,991.1" fill="#f4f2f6" stroke="none"/>
<polygon points="271.8,992.7 272.0,994.0 271.8,995.4 270.8,996.4 269.8,997.3 268.7,998.1 267.4,998.5 266.1,999.0 264.6,999.1 263.4,998.2 262.5,997.2 261.5,996.3 260.8,995.2 260.1,994.0 259.6,992.7 260.1,991.3 260.8,990.1 261.2,988.8 262.1,987.8 263.4,987.1 264.7,986.6 266.1,986.8 267.3,987.2 268.7,987.2 270.1,987.6 271.0,988.7 271.8,989.9 272.0,991.3" fill="url(#g3)" stroke="#9a6a8a" stroke-width="1.0" stroke-linejoin="round"/>
<polygon points="302.2,993.6 301.7,994.7 301.4,995.7 301.0,996.7 300.3,997.6 299.3,998.2 298.3,998.5 297.2,998.5 296.0,998.5 294.9,998.3 294.0,997.6 293.4,996.6 292.9,995.7 292.6,994.7 292.3,993.6 292.0,992.4 292.4,991.3 293.3,990.5 294.1,989.8 295.0,989.2 296.1,988.8 297.2,988.5 298.3,988.8 299.2,989.4 300.2,989.9 301.1,990.4 301.9,991.4 302.3,992.5" fill="#f4f2f6" stroke="none"/>
<polygon points="301.3,993.6 300.8,994.5 300.6,995.3 300.3,996.2 299.7,996.9 299.0,997.4 298.1,997.6 297.2,997.6 296.2,997.6 295.3,997.5 294.5,996.9 294.1,996.1 293.7,995.3 293.4,994.5 293.2,993.6 292.9,992.6 293.2,991.7 294.0,991.1 294.7,990.5 295.4,990.0 296.3,989.7 297.2,989.4 298.1,989.6 298.8,990.2 299.6,990.6 300.4,991.0 301.0,991.7 301.4,992.7" fill="url(#g4)" stroke="#8a64a4" stroke-width="1.0" stroke-linejoin="round"/>
</g>
<rect x="220.4" y="924.8" width="91.4" height="88.5" fill="none" stroke="#3a3a3a" stroke-width="1.4"/>
<clipPath id="cp4"><rect x="318.9" y="924.8" width="92.4" height="88.9"/></clipPath>
<rect x="318.9" y="924.8" width="92.4" height="88.9" fill="#eceff3"/>
<g clip-path="url(#cp4)">
<polygon points="368.6,934.8 368.2,936.7 367.2,938.5 365.6,939.9 363.8,940.9 362.2,942.2 360.2,943.3 357.8,943.2 355.6,942.9 353.5,942.3 351.6,941.3 349.7,940.2 348.1,938.7 348.0,936.7 348.3,934.8 348.3,933.0 348.9,931.3 349.7,929.5 351.1,927.8 353.4,927.2 355.7,927.0 357.8,926.5 360.1,926.6 362.3,927.2 364.3,928.2 365.6,929.7 366.4,931.4 367.8,932.9" fill="#f4f2f6" stroke="none"/>
<polygon points="367.7,934.8 367.3,936.5 366.4,938.1 364.9,939.4 363.2,940.2 361.8,941.4 360.0,942.4 357.8,942.3 355.8,942.0 353.8,941.5 352.1,940.6 350.4,939.6 348.9,938.3 348.8,936.5 349.2,934.8 349.2,933.2 349.7,931.7 350.4,930.1 351.6,928.6 353.7,928.0 355.9,927.9 357.8,927.4 359.9,927.4 361.9,928.0 363.7,928.9 364.9,930.3 365.6,931.8 366.9,933.1" fill="url(#g0)" stroke="#553894" stroke-width="1.3" stroke-linejoin="round"/>
<polygon points="370.2,952.7 370.4,955.2 369.6,957.5 367.8,959.5 365.8,961.2 363.5,962.7 360.8,963.7 357.8,964.4 354.8,963.8 352.4,962.2 350.3,960.7 348.1,959.3 346.2,957.4 344.7,955.3 344.2,952.7 345.1,950.3 346.2,948.0 347.5,945.8 349.6,944.0 352.2,942.9 355.0,942.3 357.8,942.4 360.6,942.4 363.7,942.4 366.5,943.6 368.5,945.6 369.7,947.9 370.0,950.4" fill="#f4f2f6" stroke="none"/>
<polygon points="369.3,952.7 369.6,955.0 368.8,957.1 367.1,958.9 365.3,960.5 363.1,961.9 360.6,962.8 357.8,963.5 355.0,962.9 352.8,961.4 350.9,960.0 348.8,958.7 347.1,957.0 345.6,955.1 345.1,952.7 346.0,950.5 347.0,948.4 348.2,946.3 350.2,944.7 352.6,943.7 355.2,943.2 357.8,943.3 360.4,943.3 363.3,943.3 365.9,944.3 367.8,946.1 368.9,948.3 369.2,950.6" fill="url(#g0)" stroke="#553894" stroke-width="1.3" stroke-linejoin="round"/>
<polygon points="390.4,957.4 390.9,959.8 390.5,962.3 388.4,964.2 385.8,965.4 383.2,966.4 380.6,967.0 377.8,967.7 374.8,967.9 372.1,966.9 369.9,965.4 367.6,963.9 365.8,962.0 364.7,959.8 364.4,957.4 365.5,955.2 367.0,953.3 368.1,951.2 369.6,949.2 371.9,947.7 374.8,946.8 377.8,946.9 380.6,947.7 383.4,948.2 386.1,949.2 388.0,951.0 389.3,953.0 390.0,955.2" fill="#f4f2f6" stroke="none"/>
<polygon points="389.5,957.4 390.0,959.6 389.7,961.9 387.7,963.6 385.2,964.7 382.8,965.6 380.4,966.1 377.8,966.8 375.0,967.0 372.5,966.1 370.4,964.7 368.3,963.4 366.6,961.6 365.5,959.6 365.3,957.4 366.4,955.4 367.9,953.7 368.8,951.8 370.2,949.9 372.3,948.5 375.0,947.7 377.8,947.8 380.4,948.5 383.0,949.0 385.5,949.9 387.3,951.5 388.4,953.4 389.1,955.4" fill="url(#g0)" stroke="#553894" stroke-width="1.3" stroke-linejoin="round"/>
<polygon points="409.7,969.1 410.1,972.5 409.6,975.9 408.4,979.0 406.9,982.0 404.5,983.7 401.9,984.1 399.5,985.0 397.0,984.5 394.9,982.5 392.8,980.8 391.0,978.6 389.7,975.7 388.1,972.7 387.3,969.1 388.3,965.5 389.5,962.4 390.9,959.5 392.9,957.6 394.8,955.6 397.0,953.7 399.5,953.7 401.9,954.1 404.6,954.3 406.8,956.4 408.4,959.1 409.9,962.1 409.9,965.8" fill="#f4f2f6" stroke="none"/>
<polygon points="408.8,969.1 409.2,972.3 408.8,975.6 407.6,978.4 406.3,981.3 404.1,982.9 401.7,983.2 399.5,984.1 397.2,983.7 395.3,981.7 393.4,980.1 391.7,978.1 390.5,975.3 389.0,972.5 388.2,969.1 389.2,965.7 390.3,962.8 391.6,960.1 393.5,958.3 395.2,956.4 397.2,954.5 399.5,954.6 401.7,955.0 404.2,955.2 406.2,957.1 407.7,959.7 409.1,962.5 409.1,966.0" fill="url(#g0)" stroke="#553894" stroke-width="1.3" stroke-linejoin="round"/>
<polygon points="391.6,980.8 391.4,984.1 390.0,987.1 388.4,989.7 386.7,992.2 384.4,994.4 381.8,996.2 378.8,997.1 375.8,995.9 373.3,993.9 371.0,992.0 369.1,989.7 367.4,987.1 366.0,984.2 365.6,980.8 366.1,977.5 366.6,974.0 368.1,970.9 370.4,968.8 373.1,967.3 376.0,966.9 378.8,967.1 381.6,966.7 384.6,966.9 387.2,968.5 389.4,971.0 390.8,974.1 391.3,977.5" fill="#f4f2f6" stroke="none"/>
<polygon points="390.7,980.8 390.5,983.9 389.2,986.7 387.7,989.1 386.1,991.5 384.0,993.6 381.6,995.3 378.8,996.2 376.0,995.1 373.7,993.1 371.6,991.3 369.8,989.1 368.2,986.7 366.8,984.0 366.5,980.8 366.9,977.7 367.4,974.4 368.8,971.5 371.0,969.5 373.5,968.1 376.2,967.8 378.8,968.0 381.4,967.5 384.2,967.7 386.7,969.2 388.7,971.5 390.0,974.5 390.4,977.7" fill="url(#g0)" stroke="#553894" stroke-width="1.3" stroke-linejoin="round"/>
<polygon points="368.1,980.8 367.8,983.6 366.7,986.2 365.4,988.9 363.5,991.4 360.4,992.8 357.0,993.5 353.7,994.0 350.3,993.6 347.2,992.4 344.3,991.0 342.3,988.6 340.9,986.1 339.1,983.7 338.1,980.8 338.5,977.8 339.6,974.9 341.9,972.7 344.8,971.1 347.3,969.4 350.4,968.1 353.7,968.0 357.0,968.2 360.2,969.0 363.0,970.6 365.8,972.4 368.0,974.9 368.4,977.9" fill="#f4f2f6" stroke="none"/>
<polygon points="367.2,980.8 366.9,983.4 365.8,985.8 364.7,988.3 362.9,990.7 360.0,992.0 356.8,992.6 353.7,993.1 350.5,992.7 347.6,991.6 344.9,990.3 343.1,988.1 341.7,985.7 340.0,983.5 339.0,980.8 339.4,978.0 340.4,975.3 342.6,973.2 345.3,971.8 347.7,970.2 350.6,969.0 353.7,968.9 356.8,969.1 359.9,969.8 362.5,971.3 365.1,973.0 367.2,975.2 367.5,978.1" fill="url(#g0)" stroke="#553894" stroke-width="1.3" stroke-linejoin="round"/>
<polygon points="349.8,989.8 349.5,992.3 348.3,994.3 347.3,996.4 346.0,998.4 343.9,999.4 341.8,1000.0 339.6,1000.9 337.2,1000.7 335.0,999.8 332.9,998.7 331.7,996.5 331.1,994.2 330.0,992.2 329.4,989.8 329.7,987.5 330.0,985.0 331.4,982.9 333.3,981.6 335.1,980.0 337.2,979.0 339.6,979.3 341.8,979.6 343.8,980.4 345.6,981.9 347.6,983.0 349.4,984.8 349.8,987.4" fill="#f4f2f6" stroke="none"/>
<polygon points="348.9,989.8 348.6,992.1 347.5,993.9 346.6,995.8 345.5,997.7 343.5,998.6 341.6,999.1 339.6,1000.0 337.4,999.8 335.4,999.0 333.4,998.0 332.4,995.9 331.9,993.8 330.8,992.0 330.3,989.8 330.5,987.7 330.8,985.4 332.1,983.5 333.9,982.3 335.5,980.8 337.4,979.9 339.6,980.2 341.6,980.5 343.5,981.2 345.0,982.6 346.9,983.6 348.6,985.2 348.9,987.6" fill="url(#g0)" stroke="#553894" stroke-width="1.3" stroke-linejoin="round"/>
<polygon points="335.6,994.6 334.4,997.2 333.0,999.3 332.1,1001.6 330.7,1003.5 328.9,1005.1 326.8,1006.5 324.5,1006.4 322.3,1005.8 319.9,1005.6 317.8,1004.3 316.5,1002.0 315.5,999.6 315.2,997.0 315.2,994.6 314.5,991.9 314.6,989.1 316.2,986.9 318.0,985.1 320.0,983.9 322.3,983.5 324.5,982.8 326.8,982.8 328.7,984.4 330.5,985.9 332.4,987.3 333.8,989.4 335.0,991.8" fill="#f4f2f6" stroke="none"/>
<polygon points="334.7,994.6 333.5,997.0 332.2,998.9 331.4,1001.0 330.1,1002.8 328.5,1004.3 326.6,1005.6 324.5,1005.5 322.5,1004.9 320.3,1004.8 318.3,1003.6 317.2,1001.4 316.3,999.2 316.0,996.8 316.1,994.6 315.4,992.1 315.4,989.5 316.9,987.5 318.5,985.8 320.4,984.7 322.5,984.4 324.5,983.7 326.6,983.6 328.3,985.2 329.9,986.6 331.7,987.8 333.0,989.8 334.1,992.0" fill="url(#g0)" stroke="#553894" stroke-width="1.3" stroke-linejoin="round"/>
<polygon points="412.9,937.1 412.8,938.1 412.6,939.0 412.2,939.9 411.8,940.7 411.1,941.2 410.4,941.5 409.7,941.7 408.9,941.6 408.2,941.2 407.6,940.6 407.2,939.8 406.8,938.9 406.5,938.1 406.3,937.1 406.3,936.0 406.6,935.1 407.0,934.2 407.6,933.6 408.2,933.0 408.9,932.7 409.7,932.7 410.4,932.8 411.1,933.0 411.8,933.5 412.4,934.1 412.8,935.0 412.9,936.1" fill="#f4f2f6" stroke="none"/>
<polygon points="412.0,937.1 411.9,937.9 411.8,938.6 411.5,939.3 411.2,940.0 410.7,940.4 410.2,940.6 409.7,940.8 409.1,940.8 408.6,940.4 408.2,939.9 407.9,939.2 407.6,938.6 407.3,937.9 407.2,937.1 407.2,936.2 407.4,935.5 407.8,934.8 408.2,934.3 408.6,933.8 409.1,933.5 409.7,933.6 410.2,933.7 410.7,933.9 411.2,934.2 411.7,934.7 412.0,935.4 412.1,936.3" fill="url(#g0)" stroke="#553894" stroke-width="1.3" stroke-linejoin="round"/>
</g>
<rect x="318.9" y="924.8" width="92.4" height="88.9" fill="none" stroke="#3a3a3a" stroke-width="1.4"/>
<clipPath id="cp5"><rect x="417.5" y="924.5" width="92.5" height="88.5"/></clipPath>
<rect x="417.5" y="924.5" width="92.5" height="88.5" fill="#ebebee"/>
<g clip-path="url(#cp5)">
<polygon points="459.7,930.7 459.6,932.2 459.1,933.7 458.2,935.0 457.0,936.0 455.5,936.6 453.9,936.8 452.5,937.1 450.9,937.3 449.2,937.0 447.7,936.3 446.6,935.1 446.1,933.6 445.6,932.1 445.3,930.7 445.6,929.2 446.2,927.8 447.0,926.5 448.1,925.4 449.3,924.4 450.7,923.6 452.5,923.5 454.0,924.1 455.5,924.8 456.7,925.7 457.8,926.6 459.0,927.7 459.6,929.1" fill="#f4f2f6" stroke="none"/>
<polygon points="458.8,930.7 458.7,932.0 458.3,933.3 457.5,934.4 456.5,935.3 455.1,935.8 453.7,935.9 452.5,936.2 451.1,936.4 449.6,936.2 448.3,935.6 447.3,934.5 446.9,933.2 446.5,931.9 446.2,930.7 446.5,929.4 447.0,928.2 447.7,927.1 448.6,926.1 449.7,925.2 450.9,924.4 452.5,924.4 453.8,925.0 455.1,925.6 456.1,926.4 457.1,927.2 458.2,928.1 458.7,929.3" fill="url(#g4)" stroke="#8a64a4" stroke-width="1.8" stroke-linejoin="round"/>
<polygon points="467.7,940.3 467.4,941.7 466.9,943.1 466.1,944.3 465.1,945.2 464.0,946.2 462.6,946.8 461.1,946.6 459.8,946.1 458.5,945.8 457.2,945.2 456.0,944.4 454.9,943.2 454.7,941.7 454.9,940.3 455.0,938.9 455.4,937.5 456.1,936.3 457.1,935.2 458.4,934.7 459.8,934.3 461.1,933.8 462.6,933.7 464.0,934.3 465.2,935.2 466.0,936.4 466.5,937.7 467.2,938.9" fill="#f4f2f6" stroke="none"/>
<polygon points="466.8,940.3 466.6,941.5 466.1,942.7 465.4,943.7 464.5,944.5 463.6,945.4 462.4,945.9 461.1,945.7 460.0,945.3 458.8,945.0 457.8,944.5 456.7,943.8 455.8,942.8 455.6,941.5 455.8,940.3 455.9,939.1 456.2,937.9 456.8,936.9 457.7,935.9 458.8,935.5 460.0,935.2 461.1,934.7 462.4,934.5 463.6,935.1 464.6,935.9 465.3,937.0 465.7,938.1 466.3,939.1" fill="url(#g3)" stroke="#9a6a8a" stroke-width="1.8" stroke-linejoin="round"/>
<polygon points="454.8,946.0 455.0,948.6 454.4,951.1 453.0,953.3 451.3,955.4 448.9,956.6 446.4,957.3 443.8,958.0 441.1,957.8 438.8,956.4 436.8,954.9 435.0,953.1 433.6,950.9 432.1,948.7 431.4,946.0 432.2,943.4 433.3,941.0 434.7,938.8 436.7,937.1 438.8,935.6 441.2,934.5 443.8,934.7 446.3,935.0 449.0,935.3 451.3,936.6 453.2,938.5 454.7,940.8 454.9,943.5" fill="#f4f2f6" stroke="none"/>
<polygon points="453.9,946.0 454.1,948.4 453.6,950.8 452.3,952.8 450.7,954.7 448.5,955.8 446.2,956.4 443.8,957.1 441.3,956.9 439.2,955.6 437.3,954.2 435.7,952.5 434.4,950.5 433.0,948.5 432.3,946.0 433.1,943.6 434.2,941.4 435.4,939.3 437.3,937.8 439.2,936.4 441.4,935.4 443.8,935.6 446.1,935.9 448.6,936.1 450.8,937.3 452.5,939.1 453.9,941.2 454.0,943.7" fill="url(#g0)" stroke="#4a3490" stroke-width="1.8" stroke-linejoin="round"/>
<polygon points="433.7,947.0 433.4,949.2 432.6,951.3 431.3,953.1 429.4,954.2 427.6,955.3 425.8,956.4 423.6,956.8 421.4,956.7 419.3,956.0 417.5,954.7 416.0,953.1 414.6,951.3 414.2,949.2 414.2,947.0 414.4,944.9 415.1,942.9 416.0,941.0 417.2,939.0 419.2,937.8 421.4,937.4 423.6,937.3 425.7,937.7 427.7,938.5 429.6,939.4 431.2,941.0 432.2,942.9 433.1,944.8" fill="#f4f2f6" stroke="none"/>
<polygon points="432.8,947.0 432.5,949.0 431.8,951.0 430.5,952.5 428.8,953.5 427.2,954.5 425.6,955.5 423.6,955.9 421.6,955.8 419.7,955.2 418.1,953.9 416.7,952.5 415.4,950.9 415.0,949.0 415.1,947.0 415.3,945.1 415.9,943.3 416.7,941.5 417.8,939.7 419.6,938.6 421.6,938.3 423.6,938.2 425.5,938.6 427.3,939.3 429.1,940.1 430.5,941.5 431.4,943.3 432.2,945.0" fill="url(#g0)" stroke="#4a3490" stroke-width="1.8" stroke-linejoin="round"/>
<polygon points="442.5,962.4 442.5,964.5 441.9,966.6 441.0,968.6 439.4,970.1 437.4,971.0 435.4,971.8 433.2,972.5 431.0,972.2 429.0,971.2 427.3,969.8 426.1,968.1 424.8,966.4 423.4,964.6 423.0,962.4 423.5,960.2 424.4,958.1 425.8,956.4 427.3,954.9 428.9,953.5 431.1,952.9 433.2,953.0 435.3,953.2 437.4,953.7 439.5,954.6 441.3,955.9 442.3,958.0 442.4,960.3" fill="#f4f2f6" stroke="none"/>
<polygon points="441.6,962.4 441.6,964.3 441.1,966.2 440.3,968.0 438.8,969.4 437.0,970.2 435.2,971.0 433.2,971.6 431.2,971.3 429.4,970.4 427.9,969.1 426.8,967.5 425.6,966.1 424.3,964.4 423.9,962.4 424.4,960.4 425.2,958.5 426.5,957.0 427.8,955.6 429.3,954.3 431.3,953.7 433.2,953.9 435.1,954.1 437.0,954.5 438.9,955.3 440.6,956.5 441.5,958.4 441.5,960.5" fill="url(#g0)" stroke="#4a3490" stroke-width="1.8" stroke-linejoin="round"/>
<polygon points="425.6,956.6 425.3,957.7 425.0,958.6 424.5,959.6 423.8,960.4 422.9,961.1 421.9,961.5 420.7,961.4 419.7,961.1 418.7,960.9 417.8,960.3 416.9,959.6 416.3,958.8 416.0,957.7 416.0,956.6 415.9,955.5 416.3,954.5 417.0,953.6 417.8,952.9 418.7,952.4 419.7,952.1 420.7,951.8 421.9,951.7 422.9,952.2 423.8,952.8 424.5,953.6 425.0,954.6 425.4,955.5" fill="#f4f2f6" stroke="none"/>
<polygon points="424.7,956.6 424.5,957.5 424.1,958.3 423.8,959.1 423.2,959.7 422.5,960.3 421.7,960.7 420.7,960.5 419.9,960.2 419.1,960.0 418.3,959.6 417.6,959.1 417.1,958.4 416.9,957.5 416.9,956.6 416.8,955.7 417.1,954.9 417.7,954.2 418.3,953.6 419.1,953.2 419.9,953.0 420.7,952.7 421.7,952.6 422.5,953.0 423.2,953.5 423.8,954.2 424.2,955.0 424.5,955.7" fill="url(#g3)" stroke="#9a6a8a" stroke-width="1.8" stroke-linejoin="round"/>
<polygon points="459.2,967.2 458.7,968.6 458.3,970.1 457.9,971.6 456.6,972.8 454.9,973.4 453.2,973.8 451.5,973.7 449.9,973.5 448.1,973.4 446.6,972.6 445.5,971.4 444.5,970.1 443.9,968.7 443.6,967.2 443.6,965.6 444.3,964.2 445.7,963.2 446.9,962.2 448.2,961.2 449.8,960.6 451.5,960.1 453.3,960.3 454.8,961.1 456.2,962.0 457.7,962.9 458.5,964.2 459.0,965.7" fill="#f4f2f6" stroke="none"/>
<polygon points="458.3,967.2 457.8,968.4 457.5,969.7 457.1,971.1 456.1,972.1 454.6,972.6 453.0,972.9 451.5,972.8 450.1,972.6 448.5,972.6 447.1,971.9 446.2,970.8 445.4,969.7 444.8,968.5 444.5,967.2 444.4,965.8 445.1,964.6 446.4,963.7 447.5,962.9 448.6,962.0 450.0,961.5 451.5,961.0 453.1,961.2 454.4,962.0 455.7,962.7 457.0,963.5 457.7,964.6 458.2,965.9" fill="url(#g3)" stroke="#9a6a8a" stroke-width="1.8" stroke-linejoin="round"/>
<polygon points="479.7,966.2 480.3,968.4 479.9,970.6 478.7,972.6 477.1,974.2 474.9,974.8 472.8,975.2 470.7,976.1 468.5,976.0 466.6,974.8 464.8,973.7 463.3,972.1 462.1,970.4 460.7,968.5 460.2,966.2 461.3,964.1 462.4,962.2 463.4,960.4 464.9,959.0 466.4,957.3 468.4,956.2 470.7,956.6 472.8,957.0 475.0,957.3 476.9,958.5 478.5,960.0 479.7,961.9 479.6,964.2" fill="#f4f2f6" stroke="none"/>
<polygon points="478.8,966.2 479.4,968.2 479.1,970.3 478.0,972.0 476.5,973.5 474.5,974.0 472.6,974.3 470.7,975.2 468.7,975.1 467.0,974.0 465.4,973.0 464.0,971.6 463.0,970.0 461.5,968.3 461.1,966.2 462.2,964.3 463.2,962.6 464.2,961.0 465.5,959.7 466.8,958.1 468.6,957.1 470.7,957.5 472.6,957.9 474.7,958.1 476.4,959.2 477.8,960.6 478.9,962.3 478.7,964.4" fill="url(#g0)" stroke="#4a3490" stroke-width="1.8" stroke-linejoin="round"/>
<polygon points="495.2,961.4 495.2,963.5 494.6,965.5 493.1,967.0 491.6,968.3 490.2,970.0 488.2,970.7 486.1,970.6 484.1,970.2 482.4,969.2 480.8,968.1 478.7,967.3 477.4,965.6 477.1,963.5 476.9,961.4 477.4,959.4 478.2,957.6 478.8,955.6 480.2,954.0 482.3,953.5 484.2,952.9 486.1,952.3 488.2,952.4 490.3,952.7 492.2,953.8 493.0,955.9 493.8,957.7 494.9,959.4" fill="#f4f2f6" stroke="none"/>
<polygon points="494.3,961.4 494.3,963.3 493.8,965.1 492.4,966.4 491.1,967.6 489.8,969.2 488.0,969.8 486.1,969.7 484.3,969.4 482.8,968.4 481.3,967.4 479.4,966.7 478.2,965.2 477.9,963.3 477.8,961.4 478.2,959.6 479.0,958.0 479.5,956.1 480.8,954.7 482.7,954.3 484.4,953.8 486.1,953.2 488.0,953.3 489.9,953.5 491.6,954.5 492.3,956.5 493.0,958.1 494.0,959.6" fill="url(#g0)" stroke="#4a3490" stroke-width="1.8" stroke-linejoin="round"/>
<polygon points="511.2,969.1 510.9,971.3 510.2,973.3 509.0,975.1 507.6,976.8 505.7,977.8 503.6,978.2 501.5,978.7 499.3,978.8 497.1,978.2 495.2,977.0 493.8,975.2 493.1,973.2 492.3,971.2 491.7,969.1 492.0,966.9 492.7,964.9 493.8,963.0 495.5,961.6 497.3,960.3 499.3,959.3 501.5,959.2 503.6,959.9 505.6,960.6 507.4,961.8 509.0,963.1 510.6,964.7 511.3,966.9" fill="#f4f2f6" stroke="none"/>
<polygon points="510.3,969.1 510.0,971.1 509.4,972.9 508.3,974.6 507.1,976.1 505.3,977.0 503.4,977.4 501.5,977.8 499.5,978.0 497.5,977.3 495.8,976.3 494.5,974.7 493.9,972.8 493.2,971.0 492.6,969.1 492.8,967.1 493.5,965.3 494.5,963.6 496.0,962.3 497.7,961.1 499.5,960.1 501.5,960.1 503.4,960.8 505.2,961.4 506.8,962.5 508.3,963.7 509.8,965.1 510.4,967.1" fill="url(#g0)" stroke="#4a3490" stroke-width="1.8" stroke-linejoin="round"/>
<polygon points="468.4,981.6 468.1,983.9 467.1,985.9 465.8,987.7 464.4,989.3 462.4,990.2 460.3,990.5 458.2,990.8 456.1,991.0 453.9,990.7 451.7,989.9 450.1,988.1 449.5,985.8 449.2,983.7 448.9,981.6 449.1,979.5 449.6,977.5 450.6,975.5 452.2,974.1 453.9,972.7 455.9,971.5 458.2,971.3 460.4,972.0 462.3,973.2 463.8,974.6 465.3,976.0 467.0,977.4 468.1,979.4" fill="#f4f2f6" stroke="none"/>
<polygon points="467.5,981.6 467.2,983.7 466.3,985.5 465.1,987.1 463.8,988.6 462.0,989.4 460.1,989.6 458.2,989.9 456.3,990.1 454.3,989.9 452.2,989.2 450.8,987.6 450.3,985.4 450.0,983.5 449.8,981.6 450.0,979.7 450.4,977.9 451.3,976.1 452.8,974.8 454.3,973.5 456.1,972.4 458.2,972.2 460.2,972.9 461.9,974.0 463.2,975.4 464.6,976.5 466.2,977.8 467.3,979.6" fill="url(#g0)" stroke="#4a3490" stroke-width="1.8" stroke-linejoin="round"/>
<polygon points="482.7,986.4 482.4,988.2 482.0,990.0 481.1,991.6 479.8,992.9 478.4,994.3 476.6,995.1 474.6,995.0 472.7,994.5 471.1,993.7 469.8,992.5 468.3,991.4 466.9,990.1 466.2,988.3 466.0,986.4 466.1,984.5 466.9,982.7 468.0,981.2 469.4,979.9 471.1,979.2 472.8,978.8 474.6,978.3 476.5,978.2 478.3,978.6 480.2,979.4 481.4,981.0 481.9,982.9 482.5,984.6" fill="#f4f2f6" stroke="none"/>
<polygon points="481.8,986.4 481.5,988.0 481.2,989.6 480.4,991.1 479.2,992.2 478.0,993.4 476.4,994.2 474.6,994.1 472.9,993.6 471.5,992.9 470.3,991.8 469.0,990.9 467.7,989.7 467.1,988.1 466.9,986.4 467.0,984.7 467.7,983.1 468.8,981.8 469.9,980.6 471.5,980.0 473.0,979.7 474.6,979.2 476.3,979.1 477.9,979.4 479.6,980.1 480.7,981.6 481.1,983.3 481.6,984.8" fill="url(#g0)" stroke="#4a3490" stroke-width="1.8" stroke-linejoin="round"/>
<polygon points="500.5,981.6 500.4,983.3 500.3,985.2 499.2,986.7 497.5,987.5 496.1,988.4 494.5,989.0 492.8,989.2 491.1,989.4 489.4,988.9 488.1,987.5 486.8,986.4 485.7,985.1 485.2,983.4 484.9,981.6 485.3,979.9 486.3,978.5 487.0,977.0 487.9,975.4 489.4,974.4 491.1,973.8 492.8,973.6 494.5,974.3 496.1,974.9 497.8,975.4 499.0,976.7 499.7,978.3 500.3,979.9" fill="#f4f2f6" stroke="none"/>
<polygon points="499.6,981.6 499.5,983.1 499.5,984.8 498.5,986.1 497.0,986.8 495.7,987.6 494.3,988.1 492.8,988.3 491.3,988.6 489.7,988.1 488.7,986.8 487.5,985.9 486.5,984.7 486.1,983.2 485.8,981.6 486.1,980.1 487.1,978.9 487.8,977.6 488.4,976.1 489.8,975.2 491.3,974.7 492.8,974.5 494.3,975.2 495.7,975.7 497.3,976.1 498.3,977.3 498.8,978.7 499.5,980.1" fill="url(#g0)" stroke="#4a3490" stroke-width="1.8" stroke-linejoin="round"/>
<polygon points="487.6,976.8 487.5,978.0 487.0,979.1 486.1,979.9 485.3,980.6 484.4,981.3 483.4,981.9 482.3,982.3 481.0,982.2 479.9,981.6 479.0,980.9 478.2,980.0 477.7,979.0 477.3,977.9 477.2,976.8 477.4,975.7 477.6,974.6 478.0,973.4 478.8,972.4 479.9,971.9 481.1,971.7 482.3,971.8 483.3,972.1 484.5,972.2 485.5,972.7 486.4,973.5 487.1,974.5 487.5,975.6" fill="#f4f2f6" stroke="none"/>
<polygon points="486.7,976.8 486.7,977.8 486.2,978.7 485.4,979.3 484.7,979.9 484.0,980.5 483.2,981.0 482.3,981.4 481.2,981.4 480.3,980.8 479.6,980.2 478.9,979.5 478.5,978.6 478.2,977.7 478.1,976.8 478.3,975.9 478.4,975.0 478.7,974.0 479.3,973.1 480.3,972.7 481.3,972.6 482.3,972.7 483.1,973.0 484.1,973.0 485.0,973.4 485.7,974.1 486.3,974.9 486.6,975.8" fill="url(#g3)" stroke="#9a6a8a" stroke-width="1.8" stroke-linejoin="round"/>
<polygon points="496.5,938.3 496.4,939.6 496.3,940.9 495.7,942.2 494.2,942.9 492.8,943.4 491.4,943.9 490.0,944.1 488.4,944.0 486.9,943.7 485.8,942.8 484.9,941.8 483.8,940.9 483.1,939.7 483.0,938.3 483.2,937.0 484.0,935.9 485.0,935.0 485.8,933.9 486.9,932.9 488.4,932.6 490.0,932.5 491.5,932.7 492.8,933.3 494.3,933.7 495.5,934.6 496.0,935.9 496.3,937.1" fill="#f4f2f6" stroke="none"/>
<polygon points="495.6,938.3 495.5,939.4 495.5,940.6 494.9,941.7 493.7,942.2 492.4,942.6 491.2,943.0 490.0,943.2 488.6,943.2 487.3,942.9 486.4,942.1 485.6,941.2 484.6,940.5 484.0,939.5 483.9,938.3 484.1,937.2 484.9,936.3 485.7,935.5 486.3,934.6 487.3,933.7 488.6,933.5 490.0,933.4 491.3,933.6 492.4,934.1 493.7,934.4 494.8,935.1 495.2,936.2 495.4,937.3" fill="url(#g3)" stroke="#9a6a8a" stroke-width="1.8" stroke-linejoin="round"/>
<polygon points="505.6,942.2 505.7,943.4 505.5,944.6 504.8,945.6 503.8,946.2 502.7,946.7 501.6,947.0 500.5,947.3 499.3,947.5 498.2,947.0 497.3,946.2 496.5,945.4 495.8,944.5 495.4,943.4 495.1,942.2 495.5,941.0 496.1,940.1 496.6,939.1 497.3,938.1 498.2,937.3 499.3,936.8 500.5,936.9 501.7,937.3 502.8,937.6 503.8,938.1 504.6,938.9 505.2,939.9 505.5,941.1" fill="#f4f2f6" stroke="none"/>
<polygon points="504.7,942.2 504.8,943.2 504.7,944.2 504.1,945.0 503.2,945.5 502.3,945.9 501.4,946.1 500.5,946.4 499.5,946.6 498.6,946.2 497.9,945.5 497.2,944.9 496.6,944.1 496.2,943.2 496.0,942.2 496.4,941.2 496.9,940.5 497.3,939.6 497.8,938.8 498.6,938.2 499.5,937.7 500.5,937.8 501.5,938.2 502.4,938.4 503.3,938.8 503.9,939.5 504.4,940.3 504.7,941.3" fill="url(#g3)" stroke="#9a6a8a" stroke-width="1.8" stroke-linejoin="round"/>
<polygon points="513.2,934.5 513.1,936.3 512.4,937.9 511.8,939.5 510.9,941.1 509.3,941.5 507.7,941.5 506.3,941.7 504.9,941.5 503.4,941.5 501.7,941.2 500.7,939.7 500.2,937.9 499.6,936.2 499.6,934.5 499.9,932.8 500.2,931.1 501.2,929.8 502.4,928.9 503.4,927.5 504.7,926.4 506.3,926.2 507.9,926.4 509.3,927.5 510.1,929.0 511.3,930.0 512.4,931.1 512.9,932.8" fill="#f4f2f6" stroke="none"/>
<polygon points="512.3,934.5 512.2,936.1 511.6,937.5 511.1,939.0 510.3,940.4 508.9,940.7 507.5,940.7 506.3,940.8 505.1,940.7 503.8,940.7 502.2,940.5 501.4,939.1 501.0,937.5 500.5,936.0 500.5,934.5 500.8,933.0 501.0,931.5 501.9,930.4 503.0,929.6 503.8,928.3 504.9,927.3 506.3,927.1 507.7,927.3 508.9,928.3 509.6,929.7 510.6,930.5 511.6,931.5 512.0,933.0" fill="url(#g0)" stroke="#4a3490" stroke-width="1.8" stroke-linejoin="round"/>
<polygon points="480.6,1002.8 479.8,1004.6 479.2,1006.5 478.0,1008.1 476.2,1009.4 474.3,1010.5 472.1,1011.1 469.8,1011.5 467.2,1011.8 464.7,1011.3 462.9,1009.8 461.7,1008.1 460.8,1006.3 460.1,1004.6 459.2,1002.8 458.9,1000.7 459.9,998.9 461.3,997.2 462.9,995.7 465.0,994.7 467.3,994.1 469.8,994.0 472.0,994.8 474.0,995.5 476.3,996.1 478.4,997.1 480.1,998.7 481.0,1000.7" fill="#f4f2f6" stroke="none"/>
<polygon points="479.7,1002.8 478.9,1004.4 478.4,1006.1 477.3,1007.6 475.7,1008.7 473.9,1009.7 471.9,1010.3 469.8,1010.6 467.4,1011.0 465.1,1010.5 463.5,1009.1 462.4,1007.5 461.6,1005.9 461.0,1004.4 460.1,1002.8 459.8,1000.9 460.7,999.3 462.0,997.8 463.5,996.4 465.4,995.5 467.5,995.0 469.8,994.9 471.8,995.7 473.6,996.4 475.7,996.8 477.7,997.7 479.2,999.1 480.1,1000.9" fill="#a07ab0" stroke="#a07ab0" stroke-width="1.8" stroke-linejoin="round"/>
<polygon points="492.4,1001.8 492.0,1003.6 491.4,1005.3 490.3,1006.7 489.0,1007.8 487.6,1008.9 485.9,1009.2 484.2,1009.0 482.6,1009.0 480.8,1008.8 479.1,1008.2 477.6,1007.1 476.8,1005.4 476.8,1003.5 476.9,1001.8 476.9,1000.1 477.4,998.5 478.1,997.0 479.3,995.7 480.9,994.9 482.4,994.1 484.2,993.5 486.0,993.8 487.6,994.8 488.8,996.0 489.7,997.4 490.8,998.6 492.0,1000.0" fill="#f4f2f6" stroke="none"/>
<polygon points="491.5,1001.8 491.2,1003.4 490.6,1004.9 489.6,1006.1 488.4,1007.1 487.2,1008.1 485.7,1008.4 484.2,1008.1 482.8,1008.1 481.2,1008.0 479.7,1007.5 478.3,1006.5 477.6,1005.0 477.7,1003.3 477.8,1001.8 477.8,1000.3 478.2,998.9 478.8,997.5 479.9,996.4 481.2,995.7 482.6,995.0 484.2,994.4 485.8,994.7 487.2,995.6 488.2,996.7 489.0,998.0 490.0,999.0 491.1,1000.2" fill="url(#g3)" stroke="#9a6a8a" stroke-width="1.8" stroke-linejoin="round"/>
<polygon points="488.0,992.2 487.8,993.2 487.3,994.1 486.7,994.9 485.9,995.5 485.1,996.0 484.2,996.5 483.2,996.6 482.3,996.5 481.3,996.3 480.3,995.8 479.6,995.1 479.1,994.2 479.0,993.2 479.1,992.2 479.1,991.3 479.3,990.3 479.7,989.4 480.4,988.6 481.2,988.0 482.2,987.8 483.2,987.7 484.2,987.8 485.1,988.3 485.9,988.9 486.6,989.5 487.1,990.3 487.6,991.2" fill="#f4f2f6" stroke="none"/>
<polygon points="487.1,992.2 486.9,993.0 486.5,993.8 486.0,994.4 485.3,994.8 484.7,995.2 484.0,995.6 483.2,995.7 482.5,995.6 481.6,995.5 480.9,995.1 480.3,994.5 479.9,993.8 479.9,993.0 480.0,992.2 480.0,991.5 480.1,990.7 480.4,990.0 480.9,989.3 481.6,988.9 482.4,988.7 483.2,988.6 484.0,988.7 484.7,989.1 485.3,989.6 485.9,990.1 486.3,990.7 486.8,991.4" fill="url(#g3)" stroke="#9a6a8a" stroke-width="1.8" stroke-linejoin="round"/>
</g>
<rect x="417.5" y="924.5" width="92.5" height="88.5" fill="none" stroke="#3a3a3a" stroke-width="1.4"/>
</svg>
</body></html>
